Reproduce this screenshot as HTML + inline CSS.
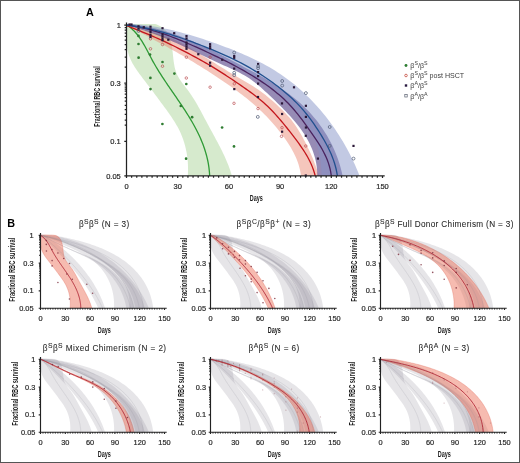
<!DOCTYPE html>
<html><head><meta charset="utf-8"><style>
html,body{margin:0;padding:0;background:#fff;}
svg{display:block;will-change:transform;filter:blur(0.3px);}
</style></head><body>
<svg width="520" height="463" viewBox="0 0 520 463">
<rect x="0" y="0" width="520" height="463" fill="#fff"/>
<defs>
<clipPath id="cA"><rect x="127" y="24" width="262" height="151.9"/></clipPath>
<clipPath id="cB00"><rect x="40.90" y="234.80" width="128" height="73.40"/></clipPath>
<clipPath id="cB10"><rect x="210.90" y="234.80" width="128" height="73.40"/></clipPath>
<clipPath id="cB20"><rect x="380.90" y="234.80" width="128" height="73.40"/></clipPath>
<clipPath id="cB01"><rect x="40.90" y="358.80" width="128" height="73.40"/></clipPath>
<clipPath id="cB11"><rect x="210.90" y="358.80" width="128" height="73.40"/></clipPath>
<clipPath id="cB21"><rect x="380.90" y="358.80" width="128" height="73.40"/></clipPath>
</defs>
<g clip-path="url(#cA)">
<path d="M119.93,24.08 L121.88,23.73 L123.98,23.38 L126.21,23.05 L128.56,22.75 L130.99,22.49 L133.51,22.28 L136.07,22.13 L138.67,22.06 L141.29,22.06 L143.90,22.16 L146.49,22.36 L149.04,22.66 L151.52,23.10 L153.92,23.66 L156.22,24.36 L158.40,25.22 L160.43,26.24 L162.31,27.43 L164.00,28.81 L165.51,30.36 L166.84,32.09 L167.99,33.96 L168.99,35.96 L169.84,38.06 L170.55,40.26 L171.14,42.53 L171.62,44.85 L172.02,47.22 L172.35,49.63 L172.64,52.07 L172.90,54.52 L173.16,56.97 L173.43,59.43 L173.74,61.86 L174.11,64.27 L174.56,66.64 L175.11,68.97 L175.77,71.24 L176.58,73.44 L177.54,75.56 L178.64,77.61 L179.87,79.60 L181.20,81.55 L182.60,83.46 L184.05,85.35 L185.52,87.24 L187.00,89.12 L188.45,91.03 L189.86,92.96 L191.22,94.92 L192.54,96.90 L193.82,98.91 L195.07,100.94 L196.28,102.98 L197.47,105.05 L198.64,107.13 L199.78,109.22 L200.92,111.32 L202.04,113.42 L203.15,115.53 L204.26,117.65 L205.37,119.76 L206.49,121.87 L207.62,123.97 L208.75,126.07 L209.89,128.17 L211.03,130.26 L212.18,132.36 L213.33,134.45 L214.47,136.54 L215.61,138.64 L216.73,140.73 L217.85,142.84 L218.96,144.94 L220.05,147.06 L221.13,149.18 L222.18,151.31 L223.21,153.45 L224.22,155.61 L225.21,157.77 L226.16,159.95 L227.08,162.15 L227.97,164.36 L228.83,166.59 L229.64,168.84 L230.41,171.10 L231.15,173.39 L231.83,175.70 L232.47,178.03 L187.59,178.07 L187.76,176.06 L187.89,174.06 L187.98,172.06 L188.03,170.06 L188.03,168.06 L187.99,166.07 L187.91,164.08 L187.79,162.10 L187.62,160.12 L187.41,158.16 L187.16,156.20 L186.87,154.25 L186.54,152.31 L186.16,150.38 L185.74,148.46 L185.28,146.56 L184.78,144.66 L184.23,142.78 L183.65,140.92 L183.01,139.07 L182.34,137.24 L181.62,135.42 L180.87,133.62 L180.06,131.84 L179.22,130.08 L178.33,128.34 L177.40,126.61 L176.44,124.91 L175.44,123.22 L174.41,121.54 L173.36,119.88 L172.27,118.23 L171.17,116.59 L170.05,114.96 L168.91,113.34 L167.76,111.73 L166.60,110.12 L165.43,108.52 L164.26,106.92 L163.08,105.32 L161.91,103.73 L160.73,102.14 L159.55,100.55 L158.37,98.96 L157.19,97.37 L156.01,95.79 L154.82,94.20 L153.64,92.62 L152.45,91.04 L151.26,89.46 L150.07,87.88 L148.87,86.30 L147.67,84.73 L146.47,83.15 L145.27,81.57 L144.07,80.00 L142.86,78.42 L141.66,76.84 L140.47,75.26 L139.29,73.67 L138.13,72.07 L137.00,70.46 L135.90,68.84 L134.84,67.21 L133.82,65.56 L132.85,63.89 L131.93,62.20 L131.07,60.49 L130.28,58.75 L129.56,56.99 L128.91,55.20 L128.34,53.38 L127.84,51.54 L127.42,49.67 L127.07,47.78 L126.79,45.86 L126.58,43.92 L126.43,41.97 L126.34,39.99 L126.30,38.01 L126.30,36.01 L126.35,34.00 L126.43,31.98 L126.54,29.96 L126.67,27.94 L126.83,25.92 L127.00,23.91 L127.17,21.89 L127.35,19.89Z" fill="#8cc474" fill-opacity="0.36"/>
<path d="M120.02,23.90 L122.94,24.16 L125.87,24.49 L128.80,24.88 L131.73,25.34 L134.66,25.86 L137.58,26.45 L140.49,27.10 L143.39,27.81 L146.28,28.59 L149.15,29.42 L152.00,30.31 L154.83,31.26 L157.63,32.27 L160.41,33.33 L163.16,34.44 L165.89,35.60 L168.60,36.81 L171.29,38.06 L173.96,39.35 L176.61,40.68 L179.25,42.04 L181.87,43.44 L184.48,44.86 L187.07,46.31 L189.66,47.79 L192.23,49.28 L194.79,50.80 L197.35,52.33 L199.90,53.87 L202.45,55.42 L204.98,56.99 L207.52,58.56 L210.05,60.14 L212.58,61.72 L215.11,63.31 L217.63,64.89 L220.16,66.47 L222.68,68.05 L225.21,69.62 L227.74,71.18 L230.28,72.74 L232.81,74.28 L235.36,75.81 L237.91,77.32 L240.46,78.82 L243.02,80.29 L245.58,81.77 L248.13,83.25 L250.67,84.76 L253.18,86.31 L255.66,87.90 L258.10,89.56 L260.51,91.28 L262.89,93.05 L265.25,94.87 L267.58,96.74 L269.88,98.65 L272.16,100.61 L274.41,102.60 L276.63,104.62 L278.82,106.67 L280.99,108.74 L283.12,110.84 L285.20,112.97 L287.24,115.13 L289.20,117.34 L291.09,119.61 L292.90,121.92 L294.63,124.29 L296.29,126.71 L297.89,129.18 L299.42,131.69 L300.91,134.23 L302.36,136.81 L303.76,139.42 L305.13,142.06 L306.47,144.73 L307.79,147.41 L309.07,150.12 L310.33,152.84 L311.54,155.58 L312.71,158.34 L313.84,161.11 L314.91,163.89 L315.94,166.68 L316.91,169.47 L317.83,172.28 L318.68,175.09 L319.47,177.90 L301.14,177.95 L300.89,175.26 L300.50,172.60 L299.99,169.98 L299.37,167.39 L298.64,164.84 L297.80,162.32 L296.87,159.83 L295.84,157.37 L294.73,154.95 L293.54,152.55 L292.28,150.19 L290.94,147.86 L289.55,145.55 L288.10,143.28 L286.60,141.03 L285.06,138.80 L283.47,136.61 L281.86,134.44 L280.22,132.29 L278.55,130.17 L276.86,128.08 L275.15,126.01 L273.40,123.97 L271.64,121.95 L269.84,119.96 L268.02,118.00 L266.17,116.06 L264.29,114.15 L262.39,112.27 L260.46,110.42 L258.50,108.59 L256.52,106.79 L254.52,105.01 L252.49,103.25 L250.44,101.52 L248.37,99.81 L246.28,98.12 L244.18,96.45 L242.05,94.80 L239.92,93.17 L237.76,91.56 L235.60,89.96 L233.42,88.37 L231.23,86.81 L229.04,85.25 L226.83,83.71 L224.61,82.18 L222.39,80.66 L220.16,79.15 L217.93,77.65 L215.69,76.16 L213.44,74.69 L211.19,73.22 L208.93,71.76 L206.66,70.32 L204.39,68.88 L202.11,67.46 L199.83,66.04 L197.54,64.63 L195.24,63.23 L192.94,61.84 L190.64,60.46 L188.33,59.09 L186.01,57.72 L183.69,56.36 L181.37,55.01 L179.04,53.67 L176.70,52.34 L174.37,51.01 L172.02,49.69 L169.68,48.38 L167.32,47.08 L164.97,45.78 L162.61,44.49 L160.25,43.20 L157.88,41.92 L155.51,40.65 L153.14,39.38 L150.77,38.11 L148.39,36.86 L146.01,35.60 L143.62,34.36 L141.23,33.11 L138.85,31.88 L136.45,30.64 L134.06,29.41 L131.66,28.19 L129.26,26.97 L126.86,25.75Z" fill="#eb8872" fill-opacity="0.48"/>
<path d="M120.01,23.78 L123.33,23.88 L126.62,24.06 L129.89,24.30 L133.15,24.61 L136.38,24.98 L139.59,25.42 L142.78,25.92 L145.95,26.48 L149.10,27.10 L152.24,27.78 L155.36,28.51 L158.46,29.29 L161.55,30.12 L164.62,31.01 L167.67,31.94 L170.72,32.91 L173.74,33.93 L176.76,34.99 L179.76,36.10 L182.75,37.24 L185.73,38.41 L188.70,39.63 L191.66,40.87 L194.61,42.15 L197.56,43.45 L200.49,44.79 L203.42,46.14 L206.34,47.53 L209.25,48.93 L212.16,50.36 L215.06,51.80 L217.96,53.27 L220.85,54.74 L223.74,56.23 L226.63,57.73 L229.52,59.24 L232.40,60.76 L235.29,62.29 L238.17,63.82 L241.06,65.35 L243.94,66.88 L246.83,68.42 L249.71,69.96 L252.58,71.52 L255.44,73.08 L258.30,74.66 L261.14,76.25 L263.97,77.86 L266.78,79.49 L269.57,81.14 L272.33,82.82 L275.08,84.53 L277.80,86.26 L280.49,88.03 L283.15,89.84 L285.78,91.68 L288.37,93.56 L290.92,95.48 L293.44,97.44 L295.92,99.45 L298.35,101.51 L300.73,103.62 L303.07,105.79 L305.36,108.00 L307.60,110.27 L309.79,112.59 L311.92,114.96 L314.00,117.38 L316.03,119.84 L318.00,122.36 L319.91,124.92 L321.76,127.52 L323.56,130.18 L325.29,132.88 L326.96,135.62 L328.56,138.40 L330.10,141.23 L331.58,144.10 L332.99,147.02 L334.33,149.97 L335.59,152.96 L336.79,155.99 L337.92,159.07 L338.97,162.17 L339.95,165.32 L340.85,168.50 L341.67,171.72 L342.42,174.97 L343.09,178.25 L317.27,178.15 L317.31,175.03 L317.22,171.97 L316.99,168.96 L316.64,166.00 L316.17,163.09 L315.58,160.23 L314.88,157.42 L314.07,154.66 L313.15,151.95 L312.14,149.27 L311.03,146.65 L309.83,144.06 L308.54,141.51 L307.17,139.00 L305.72,136.54 L304.20,134.10 L302.61,131.71 L300.95,129.34 L299.23,127.01 L297.46,124.71 L295.63,122.44 L293.76,120.20 L291.84,117.99 L289.89,115.80 L287.90,113.64 L285.88,111.50 L283.83,109.39 L281.76,107.29 L279.68,105.22 L277.58,103.16 L275.47,101.12 L273.36,99.10 L271.25,97.09 L269.14,95.09 L267.05,93.10 L264.95,91.14 L262.85,89.20 L260.73,87.29 L258.58,85.44 L256.40,83.63 L254.17,81.89 L251.89,80.22 L249.55,78.61 L247.17,77.08 L244.73,75.60 L242.25,74.18 L239.72,72.83 L237.14,71.52 L234.53,70.26 L231.90,69.03 L229.24,67.81 L226.58,66.60 L223.92,65.39 L221.27,64.16 L218.62,62.93 L215.97,61.68 L213.32,60.44 L210.68,59.18 L208.04,57.93 L205.40,56.67 L202.76,55.41 L200.12,54.15 L197.47,52.89 L194.83,51.64 L192.19,50.39 L189.55,49.15 L186.90,47.91 L184.25,46.69 L181.60,45.47 L178.94,44.27 L176.28,43.08 L173.61,41.90 L170.94,40.74 L168.27,39.59 L165.58,38.47 L162.89,37.36 L160.19,36.28 L157.49,35.21 L154.77,34.17 L152.05,33.16 L149.32,32.17 L146.57,31.22 L143.82,30.29 L141.05,29.39 L138.28,28.52 L135.49,27.68 L132.69,26.89 L129.88,26.12 L127.05,25.40Z" fill="#5a4a8c" fill-opacity="0.64"/>
<path d="M120.11,23.62 L123.52,23.66 L126.92,23.76 L130.32,23.91 L133.71,24.13 L137.08,24.40 L140.45,24.72 L143.82,25.10 L147.17,25.53 L150.52,26.01 L153.86,26.53 L157.19,27.10 L160.51,27.72 L163.83,28.38 L167.14,29.08 L170.45,29.83 L173.75,30.61 L177.04,31.43 L180.32,32.28 L183.60,33.17 L186.88,34.09 L190.15,35.04 L193.41,36.02 L196.67,37.03 L199.92,38.06 L203.16,39.12 L206.41,40.21 L209.64,41.31 L212.88,42.44 L216.10,43.58 L219.33,44.75 L222.55,45.93 L225.76,47.13 L228.96,48.36 L232.15,49.61 L235.33,50.89 L238.49,52.19 L241.64,53.52 L244.78,54.89 L247.89,56.29 L250.99,57.72 L254.07,59.19 L257.12,60.69 L260.15,62.24 L263.16,63.82 L266.14,65.45 L269.09,67.12 L272.01,68.84 L274.90,70.61 L277.76,72.42 L280.59,74.29 L283.38,76.20 L286.13,78.17 L288.85,80.19 L291.53,82.26 L294.18,84.37 L296.79,86.53 L299.36,88.74 L301.90,90.99 L304.40,93.29 L306.86,95.63 L309.28,98.01 L311.67,100.44 L314.01,102.90 L316.32,105.40 L318.59,107.94 L320.81,110.52 L323.00,113.14 L325.15,115.79 L327.26,118.47 L329.32,121.19 L331.34,123.94 L333.33,126.73 L335.27,129.54 L337.17,132.38 L339.02,135.25 L340.83,138.15 L342.60,141.08 L344.33,144.03 L346.01,147.01 L347.65,150.01 L349.25,153.03 L350.79,156.08 L352.30,159.14 L353.75,162.23 L355.16,165.33 L356.52,168.45 L357.83,171.59 L359.10,174.74 L360.31,177.91 L321.55,178.40 L321.55,175.26 L321.48,172.12 L321.32,169.00 L321.08,165.89 L320.76,162.81 L320.34,159.76 L319.84,156.74 L319.24,153.76 L318.55,150.81 L317.76,147.91 L316.88,145.07 L315.89,142.27 L314.80,139.53 L313.62,136.84 L312.34,134.20 L310.98,131.62 L309.54,129.08 L308.01,126.59 L306.41,124.15 L304.73,121.76 L302.98,119.40 L301.17,117.10 L299.30,114.83 L297.36,112.61 L295.38,110.43 L293.34,108.28 L291.25,106.17 L289.12,104.10 L286.95,102.07 L284.75,100.07 L282.51,98.10 L280.24,96.16 L277.95,94.26 L275.64,92.38 L273.30,90.54 L270.93,88.72 L268.55,86.94 L266.14,85.18 L263.72,83.45 L261.27,81.74 L258.80,80.07 L256.32,78.42 L253.81,76.80 L251.29,75.21 L248.75,73.64 L246.19,72.10 L243.61,70.58 L241.02,69.09 L238.41,67.62 L235.79,66.18 L233.15,64.76 L230.50,63.37 L227.83,61.99 L225.15,60.64 L222.46,59.32 L219.76,58.01 L217.05,56.73 L214.32,55.47 L211.59,54.23 L208.84,53.01 L206.09,51.81 L203.32,50.63 L200.55,49.47 L197.77,48.33 L194.98,47.20 L192.19,46.10 L189.39,45.01 L186.59,43.95 L183.78,42.90 L180.96,41.86 L178.14,40.85 L175.32,39.84 L172.50,38.86 L169.67,37.89 L166.84,36.94 L164.01,36.00 L161.18,35.07 L158.35,34.16 L155.52,33.27 L152.69,32.38 L149.86,31.51 L147.03,30.65 L144.21,29.81 L141.39,28.97 L138.57,28.15 L135.75,27.34 L132.95,26.54 L130.14,25.75 L127.34,24.97Z" fill="#8593c8" fill-opacity="0.50"/>
<path d="M126.91,25.06 L128.61,26.24 L130.22,27.49 L131.76,28.79 L133.22,30.15 L134.61,31.56 L135.93,33.02 L137.20,34.53 L138.40,36.08 L139.56,37.66 L140.68,39.28 L141.75,40.93 L142.78,42.60 L143.79,44.30 L144.77,46.02 L145.72,47.76 L146.66,49.51 L147.59,51.27 L148.51,53.03 L149.43,54.80 L150.35,56.56 L151.28,58.32 L152.22,60.07 L153.18,61.82 L154.16,63.54 L155.15,65.26 L156.15,66.97 L157.17,68.67 L158.21,70.36 L159.25,72.04 L160.31,73.72 L161.38,75.39 L162.46,77.05 L163.54,78.71 L164.64,80.36 L165.74,82.00 L166.85,83.65 L167.96,85.29 L169.08,86.93 L170.20,88.56 L171.32,90.20 L172.45,91.83 L173.58,93.47 L174.70,95.10 L175.83,96.74 L176.96,98.38 L178.08,100.02 L179.20,101.67 L180.31,103.32 L181.42,104.97 L182.53,106.63 L183.62,108.29 L184.71,109.96 L185.79,111.63 L186.86,113.31 L187.91,114.99 L188.96,116.68 L189.99,118.38 L191.00,120.08 L192.00,121.79 L192.99,123.51 L193.95,125.24 L194.90,126.97 L195.83,128.72 L196.73,130.47 L197.62,132.23 L198.48,134.00 L199.32,135.78 L200.13,137.58 L200.92,139.38 L201.68,141.19 L202.42,143.02 L203.12,144.85 L203.80,146.70 L204.44,148.56 L205.06,150.44 L205.64,152.32 L206.18,154.22 L206.70,156.14 L207.17,158.07 L207.61,160.01 L208.01,161.97 L208.37,163.94 L208.69,165.93 L208.98,167.93 L209.21,169.95 L209.41,171.99 L209.56,174.04 L209.67,176.11 L209.73,178.20" fill="none" stroke="#2e9a35" stroke-width="1.3"/>
<path d="M126.94,25.72 L129.55,26.77 L132.16,27.81 L134.77,28.86 L137.38,29.91 L139.98,30.97 L142.58,32.03 L145.18,33.11 L147.78,34.19 L150.37,35.28 L152.96,36.38 L155.53,37.50 L158.11,38.63 L160.67,39.78 L163.23,40.95 L165.78,42.13 L168.32,43.33 L170.86,44.55 L173.38,45.79 L175.90,47.04 L178.41,48.30 L180.92,49.57 L183.42,50.85 L185.91,52.15 L188.40,53.45 L190.88,54.75 L193.36,56.07 L195.83,57.40 L198.29,58.74 L200.75,60.09 L203.20,61.46 L205.63,62.85 L208.06,64.26 L210.48,65.68 L212.89,67.13 L215.29,68.59 L217.69,70.08 L220.07,71.58 L222.44,73.09 L224.81,74.62 L227.17,76.17 L229.52,77.72 L231.87,79.29 L234.21,80.87 L236.54,82.45 L238.87,84.04 L241.19,85.64 L243.51,87.24 L245.82,88.85 L248.11,90.48 L250.39,92.12 L252.65,93.78 L254.89,95.47 L257.10,97.19 L259.28,98.94 L261.43,100.73 L263.54,102.56 L265.61,104.43 L267.64,106.34 L269.64,108.30 L271.61,110.29 L273.54,112.32 L275.45,114.38 L277.33,116.46 L279.19,118.58 L281.02,120.72 L282.83,122.89 L284.63,125.07 L286.40,127.27 L288.16,129.49 L289.91,131.71 L291.65,133.95 L293.38,136.19 L295.09,138.44 L296.79,140.69 L298.46,142.96 L300.10,145.25 L301.71,147.55 L303.27,149.88 L304.78,152.24 L306.23,154.62 L307.62,157.04 L308.94,159.50 L310.19,161.99 L311.35,164.53 L312.42,167.12 L313.40,169.76 L314.28,172.45 L315.05,175.20 L315.70,178.01" fill="none" stroke="#c4161c" stroke-width="1.3"/>
<path d="M126.87,25.30 L129.93,25.68 L132.97,26.13 L135.98,26.64 L138.98,27.20 L141.95,27.82 L144.91,28.49 L147.85,29.21 L150.77,29.98 L153.68,30.79 L156.57,31.65 L159.44,32.54 L162.30,33.48 L165.15,34.45 L167.99,35.46 L170.81,36.50 L173.63,37.57 L176.43,38.67 L179.23,39.79 L182.01,40.94 L184.79,42.11 L187.57,43.29 L190.34,44.50 L193.10,45.72 L195.86,46.95 L198.62,48.19 L201.37,49.44 L204.13,50.70 L206.88,51.97 L209.62,53.25 L212.37,54.54 L215.10,55.83 L217.83,57.15 L220.56,58.47 L223.27,59.81 L225.98,61.17 L228.68,62.54 L231.38,63.93 L234.06,65.34 L236.73,66.77 L239.38,68.21 L242.03,69.68 L244.66,71.18 L247.28,72.69 L249.88,74.23 L252.47,75.80 L255.04,77.39 L257.60,79.01 L260.14,80.66 L262.65,82.34 L265.14,84.05 L267.61,85.79 L270.05,87.57 L272.45,89.39 L274.82,91.25 L277.16,93.15 L279.46,95.09 L281.72,97.07 L283.93,99.10 L286.10,101.18 L288.22,103.31 L290.29,105.49 L292.32,107.72 L294.29,109.99 L296.23,112.31 L298.12,114.66 L299.99,117.05 L301.82,119.46 L303.64,121.90 L305.43,124.35 L307.21,126.82 L308.98,129.30 L310.74,131.79 L312.49,134.28 L314.23,136.78 L315.93,139.29 L317.60,141.82 L319.22,144.37 L320.79,146.95 L322.29,149.55 L323.71,152.19 L325.04,154.86 L326.28,157.57 L327.41,160.33 L328.43,163.14 L329.33,165.99 L330.09,168.91 L330.70,171.88 L331.16,174.92 L331.46,178.02" fill="none" stroke="#4a235f" stroke-width="1.3"/>
<path d="M126.96,25.11 L130.07,25.47 L133.16,25.88 L136.25,26.35 L139.32,26.85 L142.38,27.41 L145.43,28.01 L148.47,28.65 L151.50,29.33 L154.52,30.04 L157.52,30.80 L160.52,31.59 L163.51,32.42 L166.49,33.28 L169.46,34.17 L172.42,35.08 L175.38,36.03 L178.33,37.00 L181.27,38.00 L184.20,39.01 L187.12,40.05 L190.04,41.11 L192.96,42.19 L195.87,43.28 L198.77,44.39 L201.67,45.51 L204.56,46.64 L207.45,47.79 L210.33,48.95 L213.20,50.13 L216.07,51.33 L218.92,52.55 L221.77,53.79 L224.60,55.05 L227.43,56.34 L230.24,57.65 L233.04,58.99 L235.82,60.36 L238.59,61.76 L241.35,63.19 L244.09,64.65 L246.81,66.15 L249.52,67.67 L252.20,69.23 L254.87,70.82 L257.52,72.44 L260.15,74.09 L262.76,75.78 L265.35,77.50 L267.92,79.25 L270.47,81.03 L272.99,82.84 L275.49,84.69 L277.97,86.56 L280.42,88.47 L282.84,90.42 L285.23,92.40 L287.59,94.42 L289.91,96.48 L292.19,98.58 L294.43,100.71 L296.63,102.90 L298.78,105.12 L300.88,107.39 L302.93,109.70 L304.93,112.07 L306.88,114.47 L308.78,116.92 L310.64,119.41 L312.46,121.93 L314.24,124.48 L315.99,127.05 L317.70,129.65 L319.39,132.27 L321.03,134.91 L322.64,137.58 L324.20,140.27 L325.71,142.98 L327.17,145.72 L328.57,148.49 L329.89,151.28 L331.15,154.10 L332.32,156.96 L333.40,159.85 L334.38,162.78 L335.26,165.75 L336.04,168.75 L336.69,171.80 L337.23,174.89 L337.63,178.03" fill="none" stroke="#21508f" stroke-width="1.3"/>
</g>
<circle cx="138.5" cy="35.9" r="1.35" fill="#2f7d32"/>
<circle cx="138.5" cy="44.0" r="1.35" fill="#2f7d32"/>
<circle cx="138.6" cy="57.7" r="1.35" fill="#2f7d32"/>
<circle cx="150.0" cy="54.6" r="1.35" fill="#2f7d32"/>
<circle cx="150.4" cy="77.9" r="1.35" fill="#2f7d32"/>
<circle cx="150.5" cy="89.1" r="1.35" fill="#2f7d32"/>
<circle cx="162.5" cy="62.0" r="1.35" fill="#2f7d32"/>
<circle cx="174.4" cy="73.6" r="1.35" fill="#2f7d32"/>
<circle cx="186.3" cy="84.0" r="1.35" fill="#2f7d32"/>
<circle cx="180.8" cy="106.0" r="1.35" fill="#2f7d32"/>
<circle cx="192.1" cy="117.2" r="1.35" fill="#2f7d32"/>
<circle cx="162.4" cy="124.0" r="1.35" fill="#2f7d32"/>
<circle cx="222.1" cy="127.5" r="1.35" fill="#2f7d32"/>
<circle cx="234.0" cy="146.4" r="1.35" fill="#2f7d32"/>
<circle cx="186.1" cy="158.7" r="1.35" fill="#2f7d32"/>
<circle cx="150.5" cy="38.8" r="1.25" fill="none" stroke="#b8454a" stroke-width="0.65"/>
<circle cx="150.5" cy="48.8" r="1.25" fill="none" stroke="#b8454a" stroke-width="0.65"/>
<circle cx="162.5" cy="44.5" r="1.25" fill="none" stroke="#b8454a" stroke-width="0.65"/>
<circle cx="162.5" cy="66.2" r="1.25" fill="none" stroke="#b8454a" stroke-width="0.65"/>
<circle cx="186.4" cy="57.2" r="1.25" fill="none" stroke="#b8454a" stroke-width="0.65"/>
<circle cx="186.3" cy="78.0" r="1.25" fill="none" stroke="#b8454a" stroke-width="0.65"/>
<circle cx="210.1" cy="57.2" r="1.25" fill="none" stroke="#b8454a" stroke-width="0.65"/>
<circle cx="210.1" cy="87.2" r="1.25" fill="none" stroke="#b8454a" stroke-width="0.65"/>
<circle cx="234.0" cy="103.3" r="1.25" fill="none" stroke="#b8454a" stroke-width="0.65"/>
<circle cx="234.3" cy="83.8" r="1.25" fill="none" stroke="#b8454a" stroke-width="0.65"/>
<circle cx="258.0" cy="108.6" r="1.25" fill="none" stroke="#b8454a" stroke-width="0.65"/>
<circle cx="282.0" cy="127.7" r="1.25" fill="none" stroke="#b8454a" stroke-width="0.65"/>
<circle cx="281.5" cy="136.3" r="1.25" fill="none" stroke="#b8454a" stroke-width="0.65"/>
<circle cx="305.8" cy="146.0" r="1.25" fill="none" stroke="#b8454a" stroke-width="0.65"/>
<rect x="128.4" y="23.4" width="2.2" height="2.2" fill="#2b1838"/>
<rect x="130.4" y="23.4" width="2.2" height="2.2" fill="#2b1838"/>
<rect x="137.4" y="25.2" width="2.2" height="2.2" fill="#2b1838"/>
<rect x="137.4" y="28.0" width="2.2" height="2.2" fill="#2b1838"/>
<rect x="142.7" y="26.1" width="2.2" height="2.2" fill="#2b1838"/>
<rect x="149.4" y="25.6" width="2.2" height="2.2" fill="#2b1838"/>
<rect x="149.4" y="28.4" width="2.2" height="2.2" fill="#2b1838"/>
<rect x="149.4" y="30.9" width="2.2" height="2.2" fill="#2b1838"/>
<rect x="149.4" y="33.6" width="2.2" height="2.2" fill="#2b1838"/>
<rect x="149.4" y="35.9" width="2.2" height="2.2" fill="#2b1838"/>
<rect x="161.4" y="27.1" width="2.2" height="2.2" fill="#2b1838"/>
<rect x="161.4" y="33.3" width="2.2" height="2.2" fill="#2b1838"/>
<rect x="161.4" y="35.3" width="2.2" height="2.2" fill="#2b1838"/>
<rect x="161.4" y="37.3" width="2.2" height="2.2" fill="#2b1838"/>
<rect x="161.4" y="39.1" width="2.2" height="2.2" fill="#2b1838"/>
<rect x="167.2" y="38.6" width="2.2" height="2.2" fill="#2b1838"/>
<rect x="173.1" y="32.1" width="2.2" height="2.2" fill="#2b1838"/>
<rect x="185.4" y="35.0" width="2.2" height="2.2" fill="#2b1838"/>
<rect x="185.4" y="37.4" width="2.2" height="2.2" fill="#2b1838"/>
<rect x="185.4" y="41.4" width="2.2" height="2.2" fill="#2b1838"/>
<rect x="185.4" y="43.5" width="2.2" height="2.2" fill="#2b1838"/>
<rect x="185.4" y="45.6" width="2.2" height="2.2" fill="#2b1838"/>
<rect x="185.4" y="47.7" width="2.2" height="2.2" fill="#2b1838"/>
<rect x="197.2" y="53.1" width="2.2" height="2.2" fill="#2b1838"/>
<rect x="209.0" y="43.1" width="2.2" height="2.2" fill="#2b1838"/>
<rect x="209.0" y="45.2" width="2.2" height="2.2" fill="#2b1838"/>
<rect x="209.0" y="47.2" width="2.2" height="2.2" fill="#2b1838"/>
<rect x="209.0" y="61.6" width="2.2" height="2.2" fill="#2b1838"/>
<rect x="209.0" y="64.6" width="2.2" height="2.2" fill="#2b1838"/>
<rect x="221.1" y="58.6" width="2.2" height="2.2" fill="#2b1838"/>
<rect x="233.1" y="54.9" width="2.2" height="2.2" fill="#2b1838"/>
<rect x="233.1" y="56.7" width="2.2" height="2.2" fill="#2b1838"/>
<rect x="233.1" y="67.5" width="2.2" height="2.2" fill="#2b1838"/>
<rect x="233.2" y="88.0" width="2.2" height="2.2" fill="#2b1838"/>
<rect x="257.0" y="62.9" width="2.2" height="2.2" fill="#2b1838"/>
<rect x="257.0" y="71.0" width="2.2" height="2.2" fill="#2b1838"/>
<rect x="257.0" y="75.0" width="2.2" height="2.2" fill="#2b1838"/>
<rect x="257.0" y="82.5" width="2.2" height="2.2" fill="#2b1838"/>
<rect x="256.9" y="95.9" width="2.2" height="2.2" fill="#2b1838"/>
<rect x="280.9" y="102.3" width="2.2" height="2.2" fill="#2b1838"/>
<rect x="281.0" y="112.9" width="2.2" height="2.2" fill="#2b1838"/>
<rect x="281.0" y="130.6" width="2.2" height="2.2" fill="#2b1838"/>
<rect x="292.9" y="86.2" width="2.2" height="2.2" fill="#2b1838"/>
<rect x="304.8" y="104.7" width="2.2" height="2.2" fill="#2b1838"/>
<rect x="304.8" y="115.8" width="2.2" height="2.2" fill="#2b1838"/>
<rect x="304.8" y="126.4" width="2.2" height="2.2" fill="#2b1838"/>
<rect x="304.7" y="134.7" width="2.2" height="2.2" fill="#2b1838"/>
<rect x="316.8" y="157.5" width="2.2" height="2.2" fill="#2b1838"/>
<rect x="352.4" y="144.8" width="2.2" height="2.2" fill="#2b1838"/>
<rect x="304.7" y="174.4" width="2.2" height="2.2" fill="#2b1838"/>
<circle cx="234.2" cy="52.5" r="1.45" fill="none" stroke="#56607a" stroke-width="0.75"/>
<circle cx="258.1" cy="66.2" r="1.45" fill="none" stroke="#56607a" stroke-width="0.75"/>
<circle cx="258.1" cy="68.2" r="1.45" fill="none" stroke="#56607a" stroke-width="0.75"/>
<circle cx="282.2" cy="81.0" r="1.45" fill="none" stroke="#56607a" stroke-width="0.75"/>
<circle cx="282.2" cy="85.6" r="1.45" fill="none" stroke="#56607a" stroke-width="0.75"/>
<circle cx="305.9" cy="93.1" r="1.45" fill="none" stroke="#56607a" stroke-width="0.75"/>
<circle cx="257.8" cy="116.9" r="1.45" fill="none" stroke="#56607a" stroke-width="0.75"/>
<circle cx="329.7" cy="127.0" r="1.45" fill="none" stroke="#56607a" stroke-width="0.75"/>
<circle cx="329.7" cy="145.9" r="1.45" fill="none" stroke="#56607a" stroke-width="0.75"/>
<circle cx="353.5" cy="158.6" r="1.45" fill="none" stroke="#56607a" stroke-width="0.75"/>
<circle cx="234.2" cy="72.8" r="1.45" fill="none" stroke="#56607a" stroke-width="0.75"/>
<circle cx="234.2" cy="75.2" r="1.45" fill="none" stroke="#56607a" stroke-width="0.75"/>
<circle cx="138.5" cy="31.0" r="1.45" fill="none" stroke="#56607a" stroke-width="0.75"/>
<g stroke="#222" stroke-width="1.25" fill="none">
<path d="M126.50,22.50 V175.90 H384.70"/>
<path d="M126.50,175.90v2.20M177.70,175.90v2.20M228.90,175.90v2.20M280.10,175.90v2.20M331.30,175.90v2.20M382.50,175.90v2.20M126.50,25.00h-2.20M126.50,83.20h-2.20M126.50,141.40h-2.20M126.50,175.90h-2.20"/>
<path d="M131.62,175.90v1.80M136.74,175.90v1.80M141.86,175.90v1.80M146.98,175.90v1.80M152.10,175.90v1.80M157.22,175.90v1.80M162.34,175.90v1.80M167.46,175.90v1.80M172.58,175.90v1.80M182.82,175.90v1.80M187.94,175.90v1.80M193.06,175.90v1.80M198.18,175.90v1.80M203.30,175.90v1.80M208.42,175.90v1.80M213.54,175.90v1.80M218.66,175.90v1.80M223.78,175.90v1.80M234.02,175.90v1.80M239.14,175.90v1.80M244.26,175.90v1.80M249.38,175.90v1.80M254.50,175.90v1.80M259.62,175.90v1.80M264.74,175.90v1.80M269.86,175.90v1.80M274.98,175.90v1.80M285.22,175.90v1.80M290.34,175.90v1.80M295.46,175.90v1.80M300.58,175.90v1.80M305.70,175.90v1.80M310.82,175.90v1.80M315.94,175.90v1.80M321.06,175.90v1.80M326.18,175.90v1.80M336.42,175.90v1.80M341.54,175.90v1.80M346.66,175.90v1.80M351.78,175.90v1.80M356.90,175.90v1.80M362.02,175.90v1.80M367.14,175.90v1.80M372.26,175.90v1.80M377.38,175.90v1.80M126.50,27.60h-1.80M126.50,30.20h-1.80M126.50,33.20h-1.80M126.50,36.30h-1.80M126.50,40.20h-1.80M126.50,44.50h-1.80M126.50,49.70h-1.80M126.50,57.20h-1.80M126.50,67.10h-1.80M126.50,84.90h-1.80M126.50,87.00h-1.80M126.50,89.10h-1.80M126.50,91.20h-1.80M126.50,94.00h-1.80M126.50,97.60h-1.80M126.50,101.10h-1.80M126.50,105.30h-1.80M126.50,109.50h-1.80M126.50,114.40h-1.80M126.50,120.00h-1.80M126.50,125.00h-1.80" stroke-width="1.25"/>
</g>
<g font-family="Liberation Sans, sans-serif" font-size="7.5" fill="#2a2a2a" stroke="#2a2a2a" stroke-width="0.2" text-anchor="end">
<text x="120.8" y="27.70">1</text>
<text x="120.8" y="85.90">0.3</text>
<text x="120.8" y="144.10">0.1</text>
<text x="120.8" y="178.6">0.05</text>
</g>
<g font-family="Liberation Sans, sans-serif" font-size="7.5" fill="#2a2a2a" stroke="#2a2a2a" stroke-width="0.2" text-anchor="middle">
<text x="126.50" y="188.8">0</text>
<text x="177.70" y="188.8">30</text>
<text x="228.90" y="188.8">60</text>
<text x="280.10" y="188.8">90</text>
<text x="331.30" y="188.8">120</text>
<text x="382.50" y="188.8">150</text>
</g>
<text font-family="Liberation Sans, sans-serif" font-size="8.2" font-weight="bold" fill="#1a1a1a" x="-30.25" y="0" textLength="60.5" lengthAdjust="spacingAndGlyphs" transform="translate(100.2,96.45) rotate(-90)">Fractional RBC survival</text>
<text font-family="Liberation Sans, sans-serif" font-size="9" font-weight="bold" fill="#1a1a1a" x="249.8" y="200.6" textLength="13" lengthAdjust="spacingAndGlyphs">Days</text>
<text font-family="Liberation Sans, sans-serif" font-size="10.8" font-weight="bold" fill="#000" x="86" y="15.7">A</text>
<g font-family="Liberation Sans, sans-serif" font-size="7.1" fill="#3c3c3c">
<circle cx="406" cy="65.5" r="1.45" fill="#2e7d32"/>
<text x="410.3" y="68.3">β<tspan dy="-3.0" font-size="5.3">S</tspan><tspan dy="3.0">/β</tspan><tspan dy="-3.0" font-size="5.3">S</tspan><tspan dy="3.0"></tspan></text>
<circle cx="406" cy="75.5" r="1.3" fill="none" stroke="#c0392b" stroke-width="0.7"/>
<text x="410.3" y="78.3">β<tspan dy="-3.0" font-size="5.3">S</tspan><tspan dy="3.0">/β</tspan><tspan dy="-3.0" font-size="5.3">S</tspan><tspan dy="3.0"> post HSCT</tspan></text>
<rect x="404.8" y="84.3" width="2.4" height="2.4" fill="#2a1a40"/>
<text x="410.3" y="88.3">β<tspan dy="-3.0" font-size="5.3">A</tspan><tspan dy="3.0">/β</tspan><tspan dy="-3.0" font-size="5.3">S</tspan><tspan dy="3.0"></tspan></text>
<rect x="404.8" y="94.6" width="2.4" height="2.4" fill="none" stroke="#5a6070" stroke-width="0.7"/>
<text x="410.3" y="98.6">β<tspan dy="-3.0" font-size="5.3">A</tspan><tspan dy="3.0">/β</tspan><tspan dy="-3.0" font-size="5.3">A</tspan><tspan dy="3.0"></tspan></text>
</g>
<g clip-path="url(#cB00)">
<path d="M36.60,231.24 L37.65,231.80 L38.70,232.36 L39.74,232.93 L40.79,233.52 L41.82,234.11 L42.86,234.71 L43.88,235.32 L44.91,235.93 L45.93,236.56 L46.95,237.19 L47.96,237.84 L48.97,238.49 L49.98,239.15 L50.98,239.82 L51.97,240.49 L52.96,241.18 L53.95,241.87 L54.93,242.57 L55.90,243.28 L56.88,244.00 L57.84,244.72 L58.80,245.46 L59.76,246.20 L60.70,246.95 L61.65,247.70 L62.59,248.47 L63.52,249.24 L64.44,250.02 L65.36,250.80 L66.28,251.60 L67.19,252.40 L68.09,253.21 L68.98,254.02 L69.87,254.85 L70.75,255.68 L71.63,256.51 L72.49,257.36 L73.35,258.21 L74.21,259.07 L75.05,259.93 L75.89,260.81 L76.72,261.68 L77.55,262.57 L78.36,263.46 L79.17,264.36 L79.97,265.27 L80.77,266.18 L81.55,267.10 L82.33,268.02 L83.10,268.95 L83.86,269.89 L84.61,270.83 L85.35,271.78 L86.09,272.73 L86.81,273.70 L87.53,274.66 L88.24,275.64 L88.94,276.61 L89.63,277.60 L90.31,278.59 L90.98,279.58 L91.64,280.59 L92.29,281.59 L92.93,282.60 L93.56,283.62 L94.19,284.65 L94.80,285.67 L95.40,286.71 L95.99,287.75 L96.58,288.79 L97.15,289.84 L97.71,290.89 L98.26,291.95 L98.80,293.02 L99.33,294.09 L99.84,295.16 L100.35,296.24 L100.84,297.32 L101.33,298.41 L101.80,299.50 L102.26,300.60 L102.71,301.70 L103.15,302.80 L103.58,303.91 L103.99,305.03 L104.39,306.15 L104.78,307.27 L105.16,308.39 L105.53,309.52 L98.92,309.56 L98.49,308.59 L98.05,307.62 L97.60,306.65 L97.14,305.69 L96.68,304.73 L96.21,303.77 L95.73,302.82 L95.25,301.87 L94.75,300.93 L94.26,299.99 L93.75,299.05 L93.24,298.12 L92.72,297.19 L92.20,296.27 L91.67,295.35 L91.13,294.43 L90.59,293.51 L90.04,292.60 L89.49,291.69 L88.92,290.79 L88.36,289.89 L87.79,288.99 L87.21,288.10 L86.62,287.21 L86.04,286.32 L85.44,285.44 L84.84,284.56 L84.24,283.68 L83.63,282.81 L83.01,281.94 L82.39,281.07 L81.76,280.21 L81.13,279.35 L80.50,278.49 L79.86,277.64 L79.21,276.78 L78.56,275.94 L77.91,275.09 L77.25,274.25 L76.59,273.41 L75.92,272.58 L75.25,271.74 L74.57,270.91 L73.89,270.09 L73.21,269.26 L72.52,268.44 L71.83,267.62 L71.14,266.81 L70.44,265.99 L69.74,265.18 L69.03,264.38 L68.32,263.57 L67.61,262.77 L66.89,261.97 L66.18,261.18 L65.45,260.38 L64.73,259.59 L64.00,258.80 L63.27,258.02 L62.54,257.23 L61.80,256.45 L61.06,255.67 L60.32,254.90 L59.58,254.12 L58.83,253.35 L58.08,252.59 L57.33,251.82 L56.58,251.06 L55.82,250.29 L55.06,249.53 L54.30,248.78 L53.54,248.02 L52.78,247.27 L52.01,246.52 L51.25,245.77 L50.48,245.03 L49.71,244.28 L48.94,243.54 L48.17,242.80 L47.40,242.07 L46.62,241.33 L45.85,240.60 L45.07,239.87 L44.29,239.14 L43.51,238.41 L42.73,237.68 L41.95,236.96 L41.17,236.24 L40.39,235.52Z" fill="#8e8a96" fill-opacity="0.22"/>
<path d="M36.31,234.08 L37.94,234.15 L39.56,234.24 L41.19,234.35 L42.81,234.48 L44.43,234.63 L46.05,234.80 L47.66,234.99 L49.28,235.20 L50.89,235.43 L52.49,235.69 L54.10,235.96 L55.70,236.25 L57.29,236.56 L58.89,236.89 L60.47,237.24 L62.06,237.61 L63.64,237.99 L65.21,238.40 L66.78,238.83 L68.34,239.27 L69.90,239.73 L71.45,240.21 L73.00,240.71 L74.54,241.23 L76.07,241.77 L77.59,242.33 L79.11,242.90 L80.62,243.49 L82.13,244.10 L83.62,244.73 L85.11,245.37 L86.59,246.04 L88.06,246.72 L89.52,247.41 L90.97,248.13 L92.42,248.86 L93.85,249.61 L95.28,250.38 L96.69,251.16 L98.10,251.96 L99.49,252.78 L100.87,253.61 L102.25,254.46 L103.61,255.32 L104.96,256.21 L106.29,257.11 L107.62,258.02 L108.94,258.95 L110.24,259.90 L111.53,260.86 L112.80,261.84 L114.07,262.83 L115.32,263.84 L116.56,264.87 L117.78,265.91 L118.99,266.96 L120.18,268.03 L121.36,269.12 L122.53,270.22 L123.68,271.33 L124.82,272.46 L125.94,273.61 L127.04,274.77 L128.13,275.94 L129.21,277.13 L130.26,278.33 L131.30,279.54 L132.33,280.77 L133.33,282.02 L134.32,283.27 L135.30,284.55 L136.25,285.83 L137.19,287.13 L138.10,288.44 L139.00,289.76 L139.88,291.10 L140.75,292.45 L141.59,293.82 L142.41,295.19 L143.22,296.58 L144.00,297.99 L144.76,299.40 L145.51,300.83 L146.23,302.27 L146.93,303.72 L147.61,305.18 L148.27,306.66 L148.91,308.15 L149.53,309.65 L113.87,309.75 L113.96,308.43 L114.03,307.11 L114.07,305.80 L114.08,304.49 L114.06,303.19 L114.01,301.89 L113.93,300.59 L113.83,299.30 L113.69,298.02 L113.53,296.74 L113.34,295.46 L113.12,294.20 L112.88,292.94 L112.60,291.69 L112.30,290.45 L111.98,289.22 L111.62,288.00 L111.24,286.79 L110.84,285.59 L110.40,284.40 L109.95,283.23 L109.46,282.06 L108.95,280.91 L108.42,279.77 L107.86,278.64 L107.27,277.53 L106.66,276.44 L106.03,275.35 L105.37,274.29 L104.69,273.24 L103.98,272.20 L103.25,271.19 L102.50,270.19 L101.73,269.21 L100.93,268.24 L100.10,267.30 L99.26,266.38 L98.39,265.47 L97.50,264.59 L96.59,263.73 L95.66,262.89 L94.71,262.06 L93.73,261.26 L92.74,260.48 L91.73,259.71 L90.71,258.96 L89.67,258.23 L88.61,257.51 L87.53,256.81 L86.45,256.13 L85.35,255.45 L84.23,254.80 L83.11,254.15 L81.97,253.52 L80.83,252.90 L79.67,252.29 L78.51,251.69 L77.34,251.10 L76.16,250.52 L74.97,249.96 L73.78,249.39 L72.59,248.84 L71.39,248.29 L70.19,247.75 L68.99,247.22 L67.78,246.69 L66.58,246.17 L65.37,245.65 L64.17,245.13 L62.96,244.62 L61.76,244.10 L60.57,243.59 L59.37,243.09 L58.18,242.58 L56.99,242.08 L55.80,241.58 L54.62,241.08 L53.44,240.58 L52.26,240.09 L51.09,239.59 L49.92,239.10 L48.75,238.61 L47.59,238.12 L46.43,237.64 L45.27,237.15 L44.12,236.67 L42.97,236.19 L41.83,235.71 L40.69,235.23Z" fill="#8e8a96" fill-opacity="0.22"/>
<path d="M40.60,235.22 L41.88,235.82 L43.15,236.42 L44.43,237.03 L45.71,237.63 L46.98,238.23 L48.26,238.83 L49.54,239.43 L50.82,240.03 L52.10,240.63 L53.37,241.22 L54.66,241.82 L55.94,242.41 L57.22,243.00 L58.51,243.59 L59.80,244.17 L61.08,244.75 L62.38,245.33 L63.67,245.91 L64.97,246.48 L66.27,247.05 L67.57,247.61 L68.88,248.17 L70.19,248.73 L71.50,249.28 L72.82,249.83 L74.13,250.38 L75.45,250.92 L76.78,251.46 L78.10,252.01 L79.42,252.56 L80.74,253.10 L82.05,253.65 L83.37,254.21 L84.68,254.77 L85.99,255.34 L87.30,255.91 L88.59,256.49 L89.89,257.08 L91.18,257.69 L92.46,258.30 L93.73,258.92 L94.99,259.56 L96.25,260.21 L97.49,260.87 L98.73,261.55 L99.95,262.25 L101.16,262.96 L102.36,263.69 L103.55,264.45 L104.72,265.22 L105.88,266.01 L107.03,266.83 L108.16,267.67 L109.27,268.52 L110.37,269.40 L111.45,270.31 L112.51,271.23 L113.55,272.17 L114.58,273.13 L115.58,274.11 L116.57,275.11 L117.54,276.13 L118.48,277.17 L119.41,278.22 L120.31,279.30 L121.20,280.39 L122.06,281.50 L122.89,282.63 L123.71,283.77 L124.50,284.93 L125.26,286.11 L126.00,287.30 L126.71,288.51 L127.40,289.73 L128.06,290.97 L128.70,292.22 L129.31,293.49 L129.89,294.77 L130.44,296.07 L130.96,297.38 L131.45,298.70 L131.91,300.04 L132.35,301.38 L132.75,302.74 L133.12,304.12 L133.45,305.50 L133.76,306.89 L134.03,308.30 L134.27,309.72 L126.59,309.70 L126.39,308.36 L126.16,307.03 L125.90,305.70 L125.61,304.38 L125.30,303.07 L124.96,301.77 L124.59,300.47 L124.19,299.19 L123.77,297.91 L123.32,296.65 L122.84,295.39 L122.34,294.15 L121.81,292.92 L121.26,291.70 L120.69,290.49 L120.09,289.29 L119.46,288.11 L118.82,286.93 L118.15,285.78 L117.46,284.63 L116.74,283.50 L116.00,282.39 L115.25,281.28 L114.47,280.20 L113.67,279.13 L112.85,278.07 L112.00,277.04 L111.14,276.01 L110.26,275.01 L109.36,274.02 L108.45,273.05 L107.51,272.10 L106.55,271.17 L105.58,270.25 L104.59,269.35 L103.58,268.48 L102.56,267.62 L101.52,266.79 L100.47,265.97 L99.39,265.18 L98.31,264.40 L97.21,263.65 L96.09,262.91 L94.97,262.19 L93.83,261.49 L92.68,260.80 L91.52,260.13 L90.35,259.47 L89.16,258.82 L87.97,258.19 L86.78,257.57 L85.57,256.96 L84.36,256.36 L83.14,255.76 L81.92,255.18 L80.69,254.60 L79.46,254.02 L78.23,253.45 L76.99,252.89 L75.75,252.32 L74.51,251.76 L73.28,251.21 L72.04,250.65 L70.80,250.09 L69.56,249.53 L68.33,248.97 L67.09,248.40 L65.87,247.83 L64.64,247.26 L63.42,246.68 L62.20,246.10 L60.98,245.52 L59.77,244.93 L58.56,244.34 L57.35,243.75 L56.14,243.15 L54.94,242.56 L53.74,241.96 L52.54,241.35 L51.34,240.75 L50.14,240.14 L48.94,239.53 L47.75,238.92 L46.56,238.31 L45.36,237.69 L44.17,237.08 L42.98,236.46 L41.79,235.84 L40.61,235.22Z" fill="#8e8a96" fill-opacity="0.22"/>
<path d="M41.82,235.31 L43.26,235.66 L44.70,236.02 L46.13,236.40 L47.57,236.78 L49.00,237.17 L50.44,237.56 L51.87,237.97 L53.30,238.39 L54.73,238.82 L56.16,239.26 L57.59,239.71 L59.01,240.16 L60.44,240.63 L61.86,241.11 L63.28,241.59 L64.70,242.09 L66.11,242.60 L67.53,243.11 L68.94,243.63 L70.35,244.17 L71.75,244.71 L73.15,245.27 L74.55,245.83 L75.95,246.40 L77.34,246.98 L78.73,247.58 L80.12,248.18 L81.50,248.79 L82.88,249.41 L84.25,250.04 L85.62,250.68 L86.99,251.32 L88.35,251.98 L89.71,252.65 L91.06,253.33 L92.41,254.01 L93.75,254.71 L95.09,255.42 L96.43,256.13 L97.75,256.86 L99.08,257.59 L100.39,258.33 L101.70,259.09 L103.01,259.85 L104.30,260.63 L105.59,261.41 L106.87,262.21 L108.14,263.02 L109.41,263.84 L110.66,264.67 L111.90,265.52 L113.13,266.37 L114.34,267.24 L115.55,268.13 L116.74,269.03 L117.92,269.94 L119.09,270.87 L120.24,271.81 L121.38,272.77 L122.50,273.74 L123.60,274.73 L124.69,275.73 L125.76,276.75 L126.81,277.79 L127.85,278.84 L128.86,279.91 L129.85,281.00 L130.83,282.10 L131.78,283.22 L132.70,284.36 L133.61,285.52 L134.49,286.70 L135.35,287.89 L136.18,289.11 L136.99,290.34 L137.76,291.59 L138.52,292.86 L139.24,294.16 L139.94,295.47 L140.60,296.80 L141.24,298.15 L141.85,299.53 L142.42,300.92 L142.97,302.34 L143.48,303.78 L143.95,305.24 L144.40,306.72 L144.80,308.23 L145.18,309.76 L129.28,309.89 L129.47,308.33 L129.59,306.79 L129.66,305.27 L129.68,303.78 L129.63,302.30 L129.54,300.84 L129.39,299.40 L129.19,297.98 L128.95,296.58 L128.65,295.20 L128.31,293.84 L127.92,292.50 L127.48,291.18 L127.01,289.88 L126.49,288.60 L125.93,287.34 L125.33,286.09 L124.69,284.87 L124.01,283.67 L123.30,282.48 L122.55,281.32 L121.77,280.17 L120.96,279.05 L120.12,277.94 L119.25,276.86 L118.35,275.79 L117.42,274.74 L116.46,273.71 L115.48,272.70 L114.48,271.72 L113.46,270.75 L112.41,269.79 L111.35,268.86 L110.26,267.95 L109.16,267.05 L108.04,266.16 L106.90,265.30 L105.75,264.45 L104.59,263.61 L103.41,262.79 L102.22,261.98 L101.02,261.18 L99.81,260.40 L98.59,259.63 L97.36,258.87 L96.13,258.12 L94.88,257.39 L93.64,256.66 L92.39,255.94 L91.13,255.23 L89.88,254.53 L88.61,253.84 L87.35,253.16 L86.07,252.49 L84.80,251.83 L83.52,251.18 L82.24,250.54 L80.95,249.91 L79.66,249.29 L78.36,248.67 L77.06,248.07 L75.76,247.48 L74.45,246.90 L73.14,246.33 L71.83,245.76 L70.51,245.21 L69.19,244.67 L67.87,244.14 L66.54,243.62 L65.21,243.11 L63.87,242.60 L62.53,242.11 L61.19,241.63 L59.85,241.16 L58.50,240.70 L57.15,240.25 L55.79,239.81 L54.43,239.38 L53.07,238.96 L51.71,238.55 L50.34,238.16 L48.97,237.77 L47.60,237.39 L46.23,237.02 L44.85,236.67 L43.47,236.32 L42.08,235.99 L40.70,235.66 L39.31,235.35Z" fill="#8e8a96" fill-opacity="0.22"/>
<path d="M36.62,232.75 L38.19,232.97 L39.77,233.20 L41.37,233.43 L42.98,233.66 L44.60,233.91 L46.22,234.16 L47.86,234.41 L49.51,234.67 L51.17,234.95 L52.83,235.22 L54.50,235.51 L56.18,235.81 L57.86,236.11 L59.55,236.43 L61.24,236.75 L62.93,237.09 L64.63,237.43 L66.34,237.79 L68.04,238.15 L69.74,238.53 L71.45,238.92 L73.16,239.32 L74.86,239.74 L76.56,240.16 L78.27,240.60 L79.97,241.06 L81.66,241.53 L83.35,242.01 L85.04,242.50 L86.73,243.01 L88.40,243.54 L90.07,244.08 L91.74,244.64 L93.39,245.21 L95.04,245.80 L96.68,246.41 L98.31,247.03 L99.93,247.68 L101.54,248.34 L103.14,249.01 L104.72,249.71 L106.29,250.42 L107.85,251.16 L109.40,251.91 L110.93,252.69 L112.44,253.48 L113.94,254.30 L115.43,255.13 L116.89,255.99 L118.34,256.87 L119.77,257.77 L121.18,258.69 L122.57,259.64 L123.94,260.61 L125.29,261.60 L126.62,262.61 L127.92,263.65 L129.21,264.72 L130.46,265.80 L131.70,266.92 L132.91,268.06 L134.09,269.22 L135.25,270.41 L136.38,271.63 L137.48,272.87 L138.56,274.13 L139.60,275.42 L140.62,276.74 L141.60,278.08 L142.55,279.45 L143.47,280.84 L144.35,282.25 L145.20,283.69 L146.01,285.15 L146.78,286.64 L147.52,288.15 L148.22,289.69 L148.88,291.24 L149.50,292.83 L150.08,294.43 L150.62,296.06 L151.12,297.71 L151.57,299.39 L151.98,301.09 L152.35,302.81 L152.66,304.56 L152.93,306.33 L153.16,308.12 L153.33,309.93 L135.68,309.85 L135.44,308.32 L135.17,306.82 L134.87,305.33 L134.53,303.87 L134.16,302.43 L133.77,301.01 L133.34,299.61 L132.88,298.22 L132.40,296.86 L131.88,295.52 L131.34,294.20 L130.77,292.90 L130.17,291.61 L129.54,290.35 L128.89,289.10 L128.21,287.88 L127.51,286.67 L126.78,285.48 L126.03,284.30 L125.25,283.15 L124.45,282.01 L123.63,280.89 L122.78,279.79 L121.91,278.70 L121.02,277.63 L120.11,276.58 L119.18,275.55 L118.22,274.53 L117.25,273.52 L116.26,272.53 L115.25,271.56 L114.22,270.61 L113.17,269.66 L112.11,268.74 L111.03,267.83 L109.93,266.93 L108.82,266.05 L107.69,265.18 L106.54,264.33 L105.38,263.49 L104.21,262.66 L103.02,261.85 L101.82,261.05 L100.61,260.26 L99.39,259.49 L98.15,258.73 L96.90,257.98 L95.64,257.25 L94.38,256.53 L93.10,255.81 L91.81,255.12 L90.51,254.43 L89.21,253.75 L87.90,253.09 L86.58,252.43 L85.25,251.79 L83.91,251.16 L82.57,250.54 L81.23,249.93 L79.88,249.33 L78.52,248.73 L77.16,248.15 L75.80,247.58 L74.44,247.02 L73.07,246.46 L71.70,245.92 L70.32,245.38 L68.95,244.86 L67.58,244.34 L66.20,243.83 L64.83,243.33 L63.45,242.83 L62.08,242.34 L60.71,241.86 L59.34,241.39 L57.97,240.93 L56.61,240.47 L55.25,240.01 L53.89,239.57 L52.54,239.13 L51.19,238.70 L49.85,238.27 L48.52,237.85 L47.19,237.43 L45.86,237.02 L44.55,236.61 L43.24,236.21 L41.94,235.82 L40.65,235.43Z" fill="#8e8a96" fill-opacity="0.22"/>
<path d="M37.32,234.96 L38.26,234.79 L39.28,234.63 L40.36,234.47 L41.50,234.33 L42.68,234.20 L43.89,234.11 L45.14,234.04 L46.40,234.00 L47.66,234.00 L48.93,234.05 L50.18,234.14 L51.42,234.29 L52.62,234.49 L53.78,234.76 L54.90,235.10 L55.95,235.50 L56.94,235.99 L57.85,236.56 L58.67,237.21 L59.40,237.95 L60.04,238.77 L60.60,239.66 L61.08,240.61 L61.49,241.62 L61.84,242.66 L62.12,243.74 L62.36,244.85 L62.55,245.98 L62.71,247.12 L62.85,248.28 L62.97,249.45 L63.10,250.62 L63.23,251.78 L63.38,252.94 L63.56,254.09 L63.78,255.22 L64.04,256.33 L64.37,257.41 L64.76,258.45 L65.22,259.46 L65.76,260.44 L66.35,261.39 L67.00,262.31 L67.67,263.23 L68.37,264.13 L69.09,265.02 L69.80,265.92 L70.51,266.83 L71.19,267.74 L71.85,268.68 L72.49,269.62 L73.11,270.58 L73.71,271.54 L74.30,272.52 L74.88,273.50 L75.44,274.49 L76.00,275.48 L76.55,276.48 L77.09,277.48 L77.63,278.49 L78.17,279.49 L78.71,280.50 L79.25,281.50 L79.79,282.51 L80.34,283.51 L80.89,284.50 L81.45,285.50 L82.00,286.50 L82.56,287.49 L83.11,288.49 L83.66,289.48 L84.21,290.48 L84.75,291.48 L85.29,292.49 L85.81,293.49 L86.34,294.50 L86.85,295.52 L87.35,296.54 L87.84,297.56 L88.31,298.59 L88.77,299.63 L89.22,300.68 L89.65,301.73 L90.06,302.79 L90.46,303.86 L90.83,304.94 L91.19,306.03 L91.52,307.13 L91.83,308.24 L70.09,308.25 L70.18,307.30 L70.24,306.34 L70.28,305.39 L70.30,304.44 L70.30,303.49 L70.28,302.54 L70.25,301.59 L70.19,300.65 L70.11,299.71 L70.01,298.78 L69.89,297.84 L69.74,296.92 L69.58,295.99 L69.40,295.07 L69.20,294.16 L68.97,293.25 L68.73,292.35 L68.47,291.46 L68.18,290.57 L67.88,289.69 L67.55,288.82 L67.20,287.95 L66.83,287.10 L66.45,286.25 L66.04,285.41 L65.61,284.58 L65.16,283.76 L64.69,282.95 L64.21,282.15 L63.71,281.35 L63.20,280.56 L62.67,279.77 L62.14,278.99 L61.59,278.22 L61.04,277.45 L60.48,276.68 L59.92,275.91 L59.36,275.15 L58.79,274.39 L58.22,273.63 L57.65,272.87 L57.08,272.11 L56.51,271.36 L55.94,270.60 L55.37,269.85 L54.79,269.09 L54.22,268.34 L53.64,267.58 L53.07,266.83 L52.49,266.08 L51.92,265.33 L51.34,264.58 L50.76,263.83 L50.18,263.08 L49.59,262.33 L49.01,261.58 L48.42,260.82 L47.84,260.07 L47.27,259.32 L46.69,258.56 L46.13,257.80 L45.59,257.04 L45.05,256.27 L44.54,255.49 L44.05,254.70 L43.57,253.91 L43.13,253.10 L42.71,252.29 L42.33,251.46 L41.98,250.62 L41.67,249.77 L41.39,248.91 L41.15,248.03 L40.94,247.14 L40.77,246.24 L40.64,245.33 L40.54,244.41 L40.47,243.48 L40.42,242.54 L40.40,241.59 L40.40,240.64 L40.43,239.68 L40.47,238.72 L40.52,237.76 L40.58,236.80 L40.66,235.84 L40.74,234.88 L40.83,233.92 L40.91,232.97Z" fill="#ec6a52" fill-opacity="0.46" stroke="#e05a48" stroke-opacity="0.55" stroke-width="0.5"/>
<path d="M40.56,235.32 L41.48,235.95 L42.39,236.58 L43.29,237.22 L44.18,237.88 L45.06,238.54 L45.94,239.21 L46.81,239.88 L47.68,240.57 L48.54,241.26 L49.39,241.96 L50.24,242.67 L51.08,243.38 L51.92,244.10 L52.75,244.83 L53.58,245.56 L54.40,246.29 L55.22,247.04 L56.03,247.78 L56.84,248.53 L57.65,249.29 L58.46,250.04 L59.26,250.80 L60.05,251.57 L60.85,252.34 L61.64,253.11 L62.43,253.88 L63.21,254.66 L64.00,255.44 L64.78,256.22 L65.55,257.01 L66.33,257.80 L67.10,258.59 L67.86,259.39 L68.63,260.19 L69.39,260.99 L70.14,261.80 L70.90,262.61 L71.65,263.42 L72.39,264.24 L73.13,265.06 L73.87,265.88 L74.61,266.71 L75.34,267.53 L76.07,268.36 L76.80,269.20 L77.52,270.04 L78.23,270.88 L78.95,271.72 L79.66,272.57 L80.36,273.42 L81.06,274.28 L81.76,275.13 L82.45,275.99 L83.14,276.86 L83.82,277.73 L84.49,278.60 L85.16,279.47 L85.83,280.35 L86.49,281.23 L87.15,282.12 L87.79,283.01 L88.44,283.90 L89.08,284.80 L89.71,285.70 L90.33,286.60 L90.95,287.51 L91.56,288.43 L92.17,289.34 L92.77,290.26 L93.36,291.19 L93.95,292.12 L94.53,293.05 L95.10,293.99 L95.66,294.93 L96.22,295.87 L96.77,296.82 L97.31,297.77 L97.85,298.73 L98.37,299.69 L98.89,300.66 L99.40,301.63 L99.90,302.61 L100.40,303.59 L100.88,304.57 L101.36,305.56 L101.83,306.55 L102.29,307.55 L102.74,308.55 L103.18,309.56" fill="none" stroke="#8c8c96" stroke-opacity="0.25" stroke-width="0.7"/>
<path d="M40.58,235.36 L41.94,235.61 L43.30,235.87 L44.67,236.14 L46.04,236.42 L47.42,236.71 L48.79,237.02 L50.17,237.34 L51.55,237.67 L52.94,238.02 L54.32,238.38 L55.71,238.74 L57.09,239.13 L58.47,239.52 L59.86,239.93 L61.24,240.35 L62.62,240.78 L64.00,241.23 L65.38,241.68 L66.76,242.16 L68.13,242.64 L69.50,243.14 L70.87,243.65 L72.23,244.17 L73.59,244.71 L74.94,245.26 L76.29,245.82 L77.63,246.39 L78.97,246.98 L80.30,247.58 L81.62,248.20 L82.94,248.83 L84.25,249.47 L85.55,250.13 L86.84,250.80 L88.13,251.48 L89.40,252.18 L90.67,252.89 L91.93,253.61 L93.17,254.35 L94.41,255.10 L95.63,255.87 L96.85,256.65 L98.05,257.44 L99.24,258.25 L100.42,259.07 L101.59,259.90 L102.74,260.75 L103.88,261.62 L105.00,262.50 L106.11,263.39 L107.21,264.29 L108.29,265.22 L109.36,266.15 L110.41,267.10 L111.44,268.06 L112.46,269.04 L113.46,270.04 L114.44,271.04 L115.40,272.07 L116.35,273.10 L117.28,274.16 L118.19,275.22 L119.08,276.30 L119.95,277.40 L120.80,278.51 L121.63,279.64 L122.44,280.78 L123.23,281.94 L123.99,283.11 L124.74,284.30 L125.46,285.50 L126.16,286.72 L126.84,287.95 L127.49,289.20 L128.12,290.46 L128.72,291.74 L129.30,293.03 L129.86,294.34 L130.39,295.67 L130.89,297.01 L131.37,298.36 L131.82,299.74 L132.25,301.12 L132.65,302.53 L133.01,303.95 L133.36,305.38 L133.67,306.83 L133.95,308.30 L134.21,309.78" fill="none" stroke="#8c8c96" stroke-opacity="0.25" stroke-width="0.7"/>
<path d="M40.56,235.28 L41.85,235.81 L43.13,236.35 L44.40,236.91 L45.66,237.47 L46.92,238.05 L48.18,238.63 L49.42,239.23 L50.67,239.82 L51.91,240.43 L53.15,241.04 L54.38,241.65 L55.61,242.27 L56.84,242.89 L58.08,243.50 L59.31,244.12 L60.54,244.74 L61.77,245.36 L63.01,245.97 L64.25,246.58 L65.49,247.18 L66.74,247.78 L67.99,248.37 L69.25,248.95 L70.52,249.53 L71.79,250.09 L73.06,250.65 L74.34,251.21 L75.62,251.76 L76.90,252.31 L78.18,252.86 L79.47,253.41 L80.75,253.96 L82.03,254.51 L83.31,255.07 L84.59,255.63 L85.86,256.20 L87.13,256.77 L88.39,257.35 L89.64,257.94 L90.89,258.55 L92.13,259.16 L93.36,259.79 L94.58,260.43 L95.80,261.08 L97.00,261.76 L98.18,262.45 L99.36,263.16 L100.52,263.89 L101.67,264.64 L102.80,265.42 L103.91,266.22 L105.01,267.04 L106.09,267.89 L107.15,268.76 L108.20,269.65 L109.23,270.56 L110.23,271.50 L111.22,272.45 L112.19,273.43 L113.15,274.43 L114.08,275.44 L114.99,276.48 L115.88,277.53 L116.75,278.60 L117.60,279.69 L118.42,280.79 L119.23,281.91 L120.01,283.05 L120.77,284.20 L121.51,285.37 L122.22,286.55 L122.91,287.75 L123.57,288.95 L124.22,290.17 L124.83,291.41 L125.42,292.65 L125.99,293.91 L126.53,295.17 L127.05,296.45 L127.53,297.73 L127.99,299.03 L128.43,300.33 L128.84,301.64 L129.21,302.96 L129.56,304.28 L129.89,305.62 L130.18,306.95 L130.44,308.30 L130.68,309.65" fill="none" stroke="#8c8c96" stroke-opacity="0.25" stroke-width="0.7"/>
<path d="M40.51,235.38 L41.97,235.67 L43.42,235.98 L44.87,236.30 L46.32,236.64 L47.75,236.99 L49.19,237.36 L50.62,237.74 L52.04,238.13 L53.46,238.54 L54.87,238.96 L56.28,239.40 L57.68,239.84 L59.08,240.30 L60.47,240.77 L61.86,241.26 L63.25,241.75 L64.63,242.26 L66.01,242.78 L67.38,243.31 L68.75,243.85 L70.11,244.41 L71.47,244.97 L72.82,245.54 L74.18,246.13 L75.52,246.72 L76.87,247.32 L78.21,247.94 L79.55,248.56 L80.88,249.19 L82.21,249.83 L83.53,250.48 L84.86,251.14 L86.18,251.80 L87.49,252.48 L88.81,253.16 L90.12,253.84 L91.42,254.54 L92.73,255.24 L94.03,255.95 L95.32,256.67 L96.62,257.39 L97.91,258.12 L99.20,258.86 L100.48,259.60 L101.76,260.35 L103.03,261.12 L104.30,261.89 L105.55,262.67 L106.80,263.47 L108.04,264.27 L109.26,265.10 L110.48,265.93 L111.68,266.78 L112.87,267.65 L114.04,268.53 L115.20,269.43 L116.34,270.34 L117.46,271.28 L118.57,272.23 L119.66,273.21 L120.73,274.20 L121.77,275.21 L122.80,276.25 L123.81,277.30 L124.79,278.37 L125.75,279.46 L126.68,280.57 L127.59,281.70 L128.47,282.85 L129.33,284.02 L130.16,285.21 L130.96,286.42 L131.73,287.64 L132.47,288.89 L133.18,290.15 L133.86,291.43 L134.51,292.73 L135.12,294.05 L135.70,295.39 L136.24,296.74 L136.75,298.12 L137.23,299.51 L137.66,300.92 L138.06,302.35 L138.42,303.79 L138.74,305.25 L139.02,306.74 L139.26,308.24 L139.45,309.75" fill="none" stroke="#8c8c96" stroke-opacity="0.25" stroke-width="0.7"/>
<path d="M40.61,235.44 L42.04,235.71 L43.48,235.98 L44.93,236.26 L46.38,236.55 L47.85,236.84 L49.32,237.13 L50.80,237.44 L52.29,237.75 L53.78,238.06 L55.28,238.39 L56.79,238.72 L58.30,239.06 L59.81,239.40 L61.33,239.76 L62.85,240.12 L64.37,240.49 L65.90,240.87 L67.43,241.26 L68.95,241.66 L70.48,242.07 L72.01,242.50 L73.53,242.93 L75.06,243.37 L76.58,243.82 L78.10,244.29 L79.62,244.77 L81.13,245.25 L82.64,245.76 L84.14,246.27 L85.64,246.80 L87.13,247.34 L88.62,247.89 L90.10,248.46 L91.57,249.05 L93.03,249.64 L94.49,250.25 L95.93,250.88 L97.37,251.52 L98.80,252.18 L100.21,252.86 L101.61,253.55 L103.01,254.26 L104.38,254.98 L105.75,255.72 L107.10,256.48 L108.44,257.26 L109.76,258.05 L111.07,258.87 L112.36,259.70 L113.64,260.55 L114.90,261.42 L116.14,262.31 L117.36,263.22 L118.56,264.15 L119.75,265.10 L120.91,266.07 L122.06,267.07 L123.18,268.08 L124.28,269.12 L125.36,270.17 L126.42,271.25 L127.46,272.36 L128.47,273.48 L129.45,274.63 L130.41,275.80 L131.35,276.99 L132.26,278.21 L133.13,279.45 L133.98,280.70 L134.80,281.98 L135.59,283.28 L136.34,284.60 L137.06,285.94 L137.75,287.30 L138.40,288.68 L139.02,290.07 L139.59,291.49 L140.13,292.92 L140.63,294.38 L141.09,295.84 L141.51,297.33 L141.89,298.84 L142.22,300.36 L142.51,301.90 L142.75,303.45 L142.95,305.02 L143.10,306.60 L143.20,308.21 L143.25,309.82" fill="none" stroke="#8c8c96" stroke-opacity="0.25" stroke-width="0.7"/>
<path d="M40.70,235.43 L41.52,235.99 L42.30,236.58 L43.05,237.20 L43.75,237.85 L44.43,238.52 L45.07,239.22 L45.68,239.94 L46.27,240.67 L46.83,241.43 L47.37,242.20 L47.89,242.98 L48.39,243.78 L48.87,244.59 L49.35,245.41 L49.81,246.23 L50.27,247.06 L50.72,247.90 L51.16,248.74 L51.61,249.58 L52.05,250.42 L52.50,251.26 L52.96,252.09 L53.42,252.92 L53.90,253.75 L54.38,254.56 L54.86,255.38 L55.36,256.19 L55.86,256.99 L56.37,257.79 L56.88,258.59 L57.39,259.38 L57.92,260.17 L58.44,260.96 L58.97,261.75 L59.51,262.53 L60.04,263.31 L60.58,264.09 L61.12,264.87 L61.67,265.65 L62.21,266.43 L62.76,267.21 L63.30,267.99 L63.85,268.77 L64.40,269.55 L64.94,270.33 L65.48,271.11 L66.03,271.89 L66.57,272.68 L67.10,273.46 L67.64,274.25 L68.17,275.04 L68.70,275.84 L69.22,276.63 L69.74,277.43 L70.25,278.23 L70.75,279.04 L71.25,279.84 L71.74,280.65 L72.23,281.47 L72.70,282.29 L73.17,283.11 L73.63,283.93 L74.08,284.76 L74.52,285.60 L74.95,286.44 L75.37,287.28 L75.77,288.13 L76.17,288.98 L76.55,289.84 L76.92,290.70 L77.27,291.57 L77.62,292.44 L77.94,293.32 L78.26,294.21 L78.55,295.10 L78.83,296.00 L79.10,296.90 L79.35,297.81 L79.58,298.73 L79.79,299.66 L79.98,300.59 L80.16,301.53 L80.31,302.47 L80.45,303.43 L80.57,304.39 L80.66,305.36 L80.73,306.33 L80.79,307.32 L80.82,308.31" fill="none" stroke="#a8182a" stroke-width="0.8"/>
</g>
<circle cx="46.3" cy="240.6" r="0.80" fill="#7a2a3a" fill-opacity="0.80"/>
<circle cx="46.3" cy="244.4" r="0.80" fill="#7a2a3a" fill-opacity="0.80"/>
<circle cx="46.4" cy="251.0" r="0.80" fill="#7a2a3a" fill-opacity="0.80"/>
<circle cx="51.9" cy="249.5" r="0.80" fill="#7a2a3a" fill-opacity="0.80"/>
<circle cx="52.1" cy="260.6" r="0.80" fill="#7a2a3a" fill-opacity="0.80"/>
<circle cx="52.1" cy="265.9" r="0.80" fill="#7a2a3a" fill-opacity="0.80"/>
<circle cx="57.9" cy="253.0" r="0.80" fill="#7a2a3a" fill-opacity="0.80"/>
<circle cx="63.7" cy="258.5" r="0.80" fill="#7a2a3a" fill-opacity="0.80"/>
<circle cx="69.5" cy="263.5" r="0.80" fill="#7a2a3a" fill-opacity="0.80"/>
<circle cx="66.8" cy="274.0" r="0.80" fill="#7a2a3a" fill-opacity="0.80"/>
<circle cx="72.3" cy="279.3" r="0.80" fill="#7a2a3a" fill-opacity="0.80"/>
<circle cx="57.9" cy="282.5" r="0.80" fill="#7a2a3a" fill-opacity="0.80"/>
<circle cx="86.8" cy="284.2" r="0.80" fill="#7a2a3a" fill-opacity="0.80"/>
<circle cx="92.6" cy="293.2" r="0.80" fill="#7a2a3a" fill-opacity="0.80"/>
<circle cx="69.4" cy="299.0" r="0.80" fill="#7a2a3a" fill-opacity="0.80"/>
<g stroke="#222" stroke-width="1.15" fill="none">
<path d="M40.50,232.90 V308.20 H166.70"/>
<path d="M40.50,308.20v1.80M65.30,308.20v1.80M90.10,308.20v1.80M114.90,308.20v1.80M139.70,308.20v1.80M164.50,308.20v1.80M40.50,235.40h-1.80M40.50,263.10h-1.80M40.50,290.80h-1.80M40.50,308.20h-1.80"/>
<path d="M42.98,308.20v1.30M45.46,308.20v1.30M47.94,308.20v1.30M50.42,308.20v1.30M52.90,308.20v1.30M55.38,308.20v1.30M57.86,308.20v1.30M60.34,308.20v1.30M62.82,308.20v1.30M67.78,308.20v1.30M70.26,308.20v1.30M72.74,308.20v1.30M75.22,308.20v1.30M77.70,308.20v1.30M80.18,308.20v1.30M82.66,308.20v1.30M85.14,308.20v1.30M87.62,308.20v1.30M92.58,308.20v1.30M95.06,308.20v1.30M97.54,308.20v1.30M100.02,308.20v1.30M102.50,308.20v1.30M104.98,308.20v1.30M107.46,308.20v1.30M109.94,308.20v1.30M112.42,308.20v1.30M117.38,308.20v1.30M119.86,308.20v1.30M122.34,308.20v1.30M124.82,308.20v1.30M127.30,308.20v1.30M129.78,308.20v1.30M132.26,308.20v1.30M134.74,308.20v1.30M137.22,308.20v1.30M142.18,308.20v1.30M144.66,308.20v1.30M147.14,308.20v1.30M149.62,308.20v1.30M152.10,308.20v1.30M154.58,308.20v1.30M157.06,308.20v1.30M159.54,308.20v1.30M162.02,308.20v1.30M40.50,236.64h-1.30M40.50,237.87h-1.30M40.50,239.30h-1.30M40.50,240.78h-1.30M40.50,242.63h-1.30M40.50,244.68h-1.30M40.50,247.16h-1.30M40.50,250.73h-1.30M40.50,255.44h-1.30M40.50,263.91h-1.30M40.50,264.91h-1.30M40.50,265.91h-1.30M40.50,266.91h-1.30M40.50,268.24h-1.30M40.50,269.95h-1.30M40.50,271.62h-1.30M40.50,273.62h-1.30M40.50,275.62h-1.30M40.50,277.95h-1.30M40.50,280.61h-1.30M40.50,282.99h-1.30" stroke-width="1.15"/>
</g>
<g font-family="Liberation Sans, sans-serif" font-size="7.4" fill="#2a2a2a" stroke="#2a2a2a" stroke-width="0.2" text-anchor="end">
<text x="33.60" y="237.95">1</text>
<text x="33.60" y="265.65">0.3</text>
<text x="33.60" y="293.35">0.1</text>
<text x="33.60" y="310.75">0.05</text>
</g>
<g font-family="Liberation Sans, sans-serif" font-size="7.4" fill="#2a2a2a" stroke="#2a2a2a" stroke-width="0.2" text-anchor="middle">
<text x="40.50" y="320.85">0</text>
<text x="65.30" y="320.85">30</text>
<text x="90.10" y="320.85">60</text>
<text x="114.90" y="320.85">90</text>
<text x="139.70" y="320.85">120</text>
<text x="164.50" y="320.85">150</text>
</g>
<text font-family="Liberation Sans, sans-serif" font-size="8.2" font-weight="bold" fill="#1a1a1a" x="-31.95" y="0" textLength="63.9" lengthAdjust="spacingAndGlyphs" transform="translate(14.50,269.75) rotate(-90)">Fractional RBC survival</text>
<text font-family="Liberation Sans, sans-serif" font-size="9" font-weight="bold" fill="#1a1a1a" x="97.80" y="333.10" textLength="13.1" lengthAdjust="spacingAndGlyphs">Days</text>
<text font-family="Liberation Sans, sans-serif" font-size="8.2" fill="#2a2a2a" stroke="#2a2a2a" stroke-width="0.08" x="79.00" y="227.40" textLength="50.2" lengthAdjust="spacing">β<tspan dy="-3.3" font-size="6.8">S</tspan><tspan dy="3.3">β</tspan><tspan dy="-3.3" font-size="6.8">S</tspan><tspan dy="3.3"> (N = 3)</tspan></text>
<g clip-path="url(#cB10)">
<path d="M207.32,234.96 L208.26,234.79 L209.28,234.63 L210.36,234.47 L211.50,234.33 L212.68,234.20 L213.89,234.11 L215.14,234.04 L216.40,234.00 L217.66,234.00 L218.93,234.05 L220.18,234.14 L221.42,234.29 L222.62,234.49 L223.78,234.76 L224.90,235.10 L225.95,235.50 L226.94,235.99 L227.85,236.56 L228.67,237.21 L229.40,237.95 L230.04,238.77 L230.60,239.66 L231.08,240.61 L231.49,241.62 L231.84,242.66 L232.12,243.74 L232.36,244.85 L232.55,245.98 L232.71,247.12 L232.85,248.28 L232.97,249.45 L233.10,250.62 L233.23,251.78 L233.38,252.94 L233.56,254.09 L233.78,255.22 L234.04,256.33 L234.37,257.41 L234.76,258.45 L235.22,259.46 L235.76,260.44 L236.35,261.39 L237.00,262.31 L237.67,263.23 L238.37,264.13 L239.09,265.02 L239.80,265.92 L240.51,266.83 L241.19,267.74 L241.85,268.68 L242.49,269.62 L243.11,270.58 L243.71,271.54 L244.30,272.52 L244.88,273.50 L245.44,274.49 L246.00,275.48 L246.55,276.48 L247.09,277.48 L247.63,278.49 L248.17,279.49 L248.71,280.50 L249.25,281.50 L249.79,282.51 L250.34,283.51 L250.89,284.50 L251.45,285.50 L252.00,286.50 L252.56,287.49 L253.11,288.49 L253.66,289.48 L254.21,290.48 L254.75,291.48 L255.29,292.49 L255.81,293.49 L256.34,294.50 L256.85,295.52 L257.35,296.54 L257.84,297.56 L258.31,298.59 L258.77,299.63 L259.22,300.68 L259.65,301.73 L260.06,302.79 L260.46,303.86 L260.83,304.94 L261.19,306.03 L261.52,307.13 L261.83,308.24 L240.09,308.25 L240.18,307.30 L240.24,306.34 L240.28,305.39 L240.30,304.44 L240.30,303.49 L240.28,302.54 L240.25,301.59 L240.19,300.65 L240.11,299.71 L240.01,298.78 L239.89,297.84 L239.74,296.92 L239.58,295.99 L239.40,295.07 L239.20,294.16 L238.97,293.25 L238.73,292.35 L238.47,291.46 L238.18,290.57 L237.88,289.69 L237.55,288.82 L237.20,287.95 L236.83,287.10 L236.45,286.25 L236.04,285.41 L235.61,284.58 L235.16,283.76 L234.69,282.95 L234.21,282.15 L233.71,281.35 L233.20,280.56 L232.67,279.77 L232.14,278.99 L231.59,278.22 L231.04,277.45 L230.48,276.68 L229.92,275.91 L229.36,275.15 L228.79,274.39 L228.22,273.63 L227.65,272.87 L227.08,272.11 L226.51,271.36 L225.94,270.60 L225.37,269.85 L224.79,269.09 L224.22,268.34 L223.64,267.58 L223.07,266.83 L222.49,266.08 L221.92,265.33 L221.34,264.58 L220.76,263.83 L220.18,263.08 L219.59,262.33 L219.01,261.58 L218.42,260.82 L217.84,260.07 L217.27,259.32 L216.69,258.56 L216.13,257.80 L215.59,257.04 L215.05,256.27 L214.54,255.49 L214.05,254.70 L213.57,253.91 L213.13,253.10 L212.71,252.29 L212.33,251.46 L211.98,250.62 L211.67,249.77 L211.39,248.91 L211.15,248.03 L210.94,247.14 L210.77,246.24 L210.64,245.33 L210.54,244.41 L210.47,243.48 L210.42,242.54 L210.40,241.59 L210.40,240.64 L210.43,239.68 L210.47,238.72 L210.52,237.76 L210.58,236.80 L210.66,235.84 L210.74,234.88 L210.83,233.92 L210.91,232.97Z" fill="#8e8a96" fill-opacity="0.22"/>
<path d="M206.31,234.08 L207.94,234.15 L209.56,234.24 L211.19,234.35 L212.81,234.48 L214.43,234.63 L216.05,234.80 L217.66,234.99 L219.28,235.20 L220.89,235.43 L222.49,235.69 L224.10,235.96 L225.70,236.25 L227.29,236.56 L228.89,236.89 L230.47,237.24 L232.06,237.61 L233.64,237.99 L235.21,238.40 L236.78,238.83 L238.34,239.27 L239.90,239.73 L241.45,240.21 L243.00,240.71 L244.54,241.23 L246.07,241.77 L247.59,242.33 L249.11,242.90 L250.62,243.49 L252.13,244.10 L253.62,244.73 L255.11,245.37 L256.59,246.04 L258.06,246.72 L259.52,247.41 L260.97,248.13 L262.42,248.86 L263.85,249.61 L265.28,250.38 L266.69,251.16 L268.10,251.96 L269.49,252.78 L270.87,253.61 L272.25,254.46 L273.61,255.32 L274.96,256.21 L276.29,257.11 L277.62,258.02 L278.94,258.95 L280.24,259.90 L281.53,260.86 L282.80,261.84 L284.07,262.83 L285.32,263.84 L286.56,264.87 L287.78,265.91 L288.99,266.96 L290.18,268.03 L291.36,269.12 L292.53,270.22 L293.68,271.33 L294.82,272.46 L295.94,273.61 L297.04,274.77 L298.13,275.94 L299.21,277.13 L300.26,278.33 L301.30,279.54 L302.33,280.77 L303.33,282.02 L304.32,283.27 L305.30,284.55 L306.25,285.83 L307.19,287.13 L308.10,288.44 L309.00,289.76 L309.88,291.10 L310.75,292.45 L311.59,293.82 L312.41,295.19 L313.22,296.58 L314.00,297.99 L314.76,299.40 L315.51,300.83 L316.23,302.27 L316.93,303.72 L317.61,305.18 L318.27,306.66 L318.91,308.15 L319.53,309.65 L283.87,309.75 L283.96,308.43 L284.03,307.11 L284.07,305.80 L284.08,304.49 L284.06,303.19 L284.01,301.89 L283.93,300.59 L283.83,299.30 L283.69,298.02 L283.53,296.74 L283.34,295.46 L283.12,294.20 L282.88,292.94 L282.60,291.69 L282.30,290.45 L281.98,289.22 L281.62,288.00 L281.24,286.79 L280.84,285.59 L280.40,284.40 L279.95,283.23 L279.46,282.06 L278.95,280.91 L278.42,279.77 L277.86,278.64 L277.27,277.53 L276.66,276.44 L276.03,275.35 L275.37,274.29 L274.69,273.24 L273.98,272.20 L273.25,271.19 L272.50,270.19 L271.73,269.21 L270.93,268.24 L270.10,267.30 L269.26,266.38 L268.39,265.47 L267.50,264.59 L266.59,263.73 L265.66,262.89 L264.71,262.06 L263.73,261.26 L262.74,260.48 L261.73,259.71 L260.71,258.96 L259.67,258.23 L258.61,257.51 L257.53,256.81 L256.45,256.13 L255.35,255.45 L254.23,254.80 L253.11,254.15 L251.97,253.52 L250.83,252.90 L249.67,252.29 L248.51,251.69 L247.34,251.10 L246.16,250.52 L244.97,249.96 L243.78,249.39 L242.59,248.84 L241.39,248.29 L240.19,247.75 L238.99,247.22 L237.78,246.69 L236.58,246.17 L235.37,245.65 L234.17,245.13 L232.96,244.62 L231.76,244.10 L230.57,243.59 L229.37,243.09 L228.18,242.58 L226.99,242.08 L225.80,241.58 L224.62,241.08 L223.44,240.58 L222.26,240.09 L221.09,239.59 L219.92,239.10 L218.75,238.61 L217.59,238.12 L216.43,237.64 L215.27,237.15 L214.12,236.67 L212.97,236.19 L211.83,235.71 L210.69,235.23Z" fill="#8e8a96" fill-opacity="0.22"/>
<path d="M210.60,235.22 L211.88,235.82 L213.15,236.42 L214.43,237.03 L215.71,237.63 L216.98,238.23 L218.26,238.83 L219.54,239.43 L220.82,240.03 L222.10,240.63 L223.37,241.22 L224.66,241.82 L225.94,242.41 L227.22,243.00 L228.51,243.59 L229.80,244.17 L231.08,244.75 L232.38,245.33 L233.67,245.91 L234.97,246.48 L236.27,247.05 L237.57,247.61 L238.88,248.17 L240.19,248.73 L241.50,249.28 L242.82,249.83 L244.13,250.38 L245.45,250.92 L246.78,251.46 L248.10,252.01 L249.42,252.56 L250.74,253.10 L252.05,253.65 L253.37,254.21 L254.68,254.77 L255.99,255.34 L257.30,255.91 L258.59,256.49 L259.89,257.08 L261.18,257.69 L262.46,258.30 L263.73,258.92 L264.99,259.56 L266.25,260.21 L267.49,260.87 L268.73,261.55 L269.95,262.25 L271.16,262.96 L272.36,263.69 L273.55,264.45 L274.72,265.22 L275.88,266.01 L277.03,266.83 L278.16,267.67 L279.27,268.52 L280.37,269.40 L281.45,270.31 L282.51,271.23 L283.55,272.17 L284.58,273.13 L285.58,274.11 L286.57,275.11 L287.54,276.13 L288.48,277.17 L289.41,278.22 L290.31,279.30 L291.20,280.39 L292.06,281.50 L292.89,282.63 L293.71,283.77 L294.50,284.93 L295.26,286.11 L296.00,287.30 L296.71,288.51 L297.40,289.73 L298.06,290.97 L298.70,292.22 L299.31,293.49 L299.89,294.77 L300.44,296.07 L300.96,297.38 L301.45,298.70 L301.91,300.04 L302.35,301.38 L302.75,302.74 L303.12,304.12 L303.45,305.50 L303.76,306.89 L304.03,308.30 L304.27,309.72 L296.59,309.70 L296.39,308.36 L296.16,307.03 L295.90,305.70 L295.61,304.38 L295.30,303.07 L294.96,301.77 L294.59,300.47 L294.19,299.19 L293.77,297.91 L293.32,296.65 L292.84,295.39 L292.34,294.15 L291.81,292.92 L291.26,291.70 L290.69,290.49 L290.09,289.29 L289.46,288.11 L288.82,286.93 L288.15,285.78 L287.46,284.63 L286.74,283.50 L286.00,282.39 L285.25,281.28 L284.47,280.20 L283.67,279.13 L282.85,278.07 L282.00,277.04 L281.14,276.01 L280.26,275.01 L279.36,274.02 L278.45,273.05 L277.51,272.10 L276.55,271.17 L275.58,270.25 L274.59,269.35 L273.58,268.48 L272.56,267.62 L271.52,266.79 L270.47,265.97 L269.39,265.18 L268.31,264.40 L267.21,263.65 L266.09,262.91 L264.97,262.19 L263.83,261.49 L262.68,260.80 L261.52,260.13 L260.35,259.47 L259.16,258.82 L257.97,258.19 L256.78,257.57 L255.57,256.96 L254.36,256.36 L253.14,255.76 L251.92,255.18 L250.69,254.60 L249.46,254.02 L248.23,253.45 L246.99,252.89 L245.75,252.32 L244.51,251.76 L243.28,251.21 L242.04,250.65 L240.80,250.09 L239.56,249.53 L238.33,248.97 L237.09,248.40 L235.87,247.83 L234.64,247.26 L233.42,246.68 L232.20,246.10 L230.98,245.52 L229.77,244.93 L228.56,244.34 L227.35,243.75 L226.14,243.15 L224.94,242.56 L223.74,241.96 L222.54,241.35 L221.34,240.75 L220.14,240.14 L218.94,239.53 L217.75,238.92 L216.56,238.31 L215.36,237.69 L214.17,237.08 L212.98,236.46 L211.79,235.84 L210.61,235.22Z" fill="#8e8a96" fill-opacity="0.22"/>
<path d="M211.82,235.31 L213.26,235.66 L214.70,236.02 L216.13,236.40 L217.57,236.78 L219.00,237.17 L220.44,237.56 L221.87,237.97 L223.30,238.39 L224.73,238.82 L226.16,239.26 L227.59,239.71 L229.01,240.16 L230.44,240.63 L231.86,241.11 L233.28,241.59 L234.70,242.09 L236.11,242.60 L237.53,243.11 L238.94,243.63 L240.35,244.17 L241.75,244.71 L243.15,245.27 L244.55,245.83 L245.95,246.40 L247.34,246.98 L248.73,247.58 L250.12,248.18 L251.50,248.79 L252.88,249.41 L254.25,250.04 L255.62,250.68 L256.99,251.32 L258.35,251.98 L259.71,252.65 L261.06,253.33 L262.41,254.01 L263.75,254.71 L265.09,255.42 L266.43,256.13 L267.75,256.86 L269.08,257.59 L270.39,258.33 L271.70,259.09 L273.01,259.85 L274.30,260.63 L275.59,261.41 L276.87,262.21 L278.14,263.02 L279.41,263.84 L280.66,264.67 L281.90,265.52 L283.13,266.37 L284.34,267.24 L285.55,268.13 L286.74,269.03 L287.92,269.94 L289.09,270.87 L290.24,271.81 L291.38,272.77 L292.50,273.74 L293.60,274.73 L294.69,275.73 L295.76,276.75 L296.81,277.79 L297.85,278.84 L298.86,279.91 L299.85,281.00 L300.83,282.10 L301.78,283.22 L302.70,284.36 L303.61,285.52 L304.49,286.70 L305.35,287.89 L306.18,289.11 L306.99,290.34 L307.76,291.59 L308.52,292.86 L309.24,294.16 L309.94,295.47 L310.60,296.80 L311.24,298.15 L311.85,299.53 L312.42,300.92 L312.97,302.34 L313.48,303.78 L313.95,305.24 L314.40,306.72 L314.80,308.23 L315.18,309.76 L299.28,309.89 L299.47,308.33 L299.59,306.79 L299.66,305.27 L299.68,303.78 L299.63,302.30 L299.54,300.84 L299.39,299.40 L299.19,297.98 L298.95,296.58 L298.65,295.20 L298.31,293.84 L297.92,292.50 L297.48,291.18 L297.01,289.88 L296.49,288.60 L295.93,287.34 L295.33,286.09 L294.69,284.87 L294.01,283.67 L293.30,282.48 L292.55,281.32 L291.77,280.17 L290.96,279.05 L290.12,277.94 L289.25,276.86 L288.35,275.79 L287.42,274.74 L286.46,273.71 L285.48,272.70 L284.48,271.72 L283.46,270.75 L282.41,269.79 L281.35,268.86 L280.26,267.95 L279.16,267.05 L278.04,266.16 L276.90,265.30 L275.75,264.45 L274.59,263.61 L273.41,262.79 L272.22,261.98 L271.02,261.18 L269.81,260.40 L268.59,259.63 L267.36,258.87 L266.13,258.12 L264.88,257.39 L263.64,256.66 L262.39,255.94 L261.13,255.23 L259.88,254.53 L258.61,253.84 L257.35,253.16 L256.07,252.49 L254.80,251.83 L253.52,251.18 L252.24,250.54 L250.95,249.91 L249.66,249.29 L248.36,248.67 L247.06,248.07 L245.76,247.48 L244.45,246.90 L243.14,246.33 L241.83,245.76 L240.51,245.21 L239.19,244.67 L237.87,244.14 L236.54,243.62 L235.21,243.11 L233.87,242.60 L232.53,242.11 L231.19,241.63 L229.85,241.16 L228.50,240.70 L227.15,240.25 L225.79,239.81 L224.43,239.38 L223.07,238.96 L221.71,238.55 L220.34,238.16 L218.97,237.77 L217.60,237.39 L216.23,237.02 L214.85,236.67 L213.47,236.32 L212.08,235.99 L210.70,235.66 L209.31,235.35Z" fill="#8e8a96" fill-opacity="0.22"/>
<path d="M206.62,232.75 L208.19,232.97 L209.77,233.20 L211.37,233.43 L212.98,233.66 L214.60,233.91 L216.22,234.16 L217.86,234.41 L219.51,234.67 L221.17,234.95 L222.83,235.22 L224.50,235.51 L226.18,235.81 L227.86,236.11 L229.55,236.43 L231.24,236.75 L232.93,237.09 L234.63,237.43 L236.34,237.79 L238.04,238.15 L239.74,238.53 L241.45,238.92 L243.16,239.32 L244.86,239.74 L246.56,240.16 L248.27,240.60 L249.97,241.06 L251.66,241.53 L253.35,242.01 L255.04,242.50 L256.73,243.01 L258.40,243.54 L260.07,244.08 L261.74,244.64 L263.39,245.21 L265.04,245.80 L266.68,246.41 L268.31,247.03 L269.93,247.68 L271.54,248.34 L273.14,249.01 L274.72,249.71 L276.29,250.42 L277.85,251.16 L279.40,251.91 L280.93,252.69 L282.44,253.48 L283.94,254.30 L285.43,255.13 L286.89,255.99 L288.34,256.87 L289.77,257.77 L291.18,258.69 L292.57,259.64 L293.94,260.61 L295.29,261.60 L296.62,262.61 L297.92,263.65 L299.21,264.72 L300.46,265.80 L301.70,266.92 L302.91,268.06 L304.09,269.22 L305.25,270.41 L306.38,271.63 L307.48,272.87 L308.56,274.13 L309.60,275.42 L310.62,276.74 L311.60,278.08 L312.55,279.45 L313.47,280.84 L314.35,282.25 L315.20,283.69 L316.01,285.15 L316.78,286.64 L317.52,288.15 L318.22,289.69 L318.88,291.24 L319.50,292.83 L320.08,294.43 L320.62,296.06 L321.12,297.71 L321.57,299.39 L321.98,301.09 L322.35,302.81 L322.66,304.56 L322.93,306.33 L323.16,308.12 L323.33,309.93 L305.68,309.85 L305.44,308.32 L305.17,306.82 L304.87,305.33 L304.53,303.87 L304.16,302.43 L303.77,301.01 L303.34,299.61 L302.88,298.22 L302.40,296.86 L301.88,295.52 L301.34,294.20 L300.77,292.90 L300.17,291.61 L299.54,290.35 L298.89,289.10 L298.21,287.88 L297.51,286.67 L296.78,285.48 L296.03,284.30 L295.25,283.15 L294.45,282.01 L293.63,280.89 L292.78,279.79 L291.91,278.70 L291.02,277.63 L290.11,276.58 L289.18,275.55 L288.22,274.53 L287.25,273.52 L286.26,272.53 L285.25,271.56 L284.22,270.61 L283.17,269.66 L282.11,268.74 L281.03,267.83 L279.93,266.93 L278.82,266.05 L277.69,265.18 L276.54,264.33 L275.38,263.49 L274.21,262.66 L273.02,261.85 L271.82,261.05 L270.61,260.26 L269.39,259.49 L268.15,258.73 L266.90,257.98 L265.64,257.25 L264.38,256.53 L263.10,255.81 L261.81,255.12 L260.51,254.43 L259.21,253.75 L257.90,253.09 L256.58,252.43 L255.25,251.79 L253.91,251.16 L252.57,250.54 L251.23,249.93 L249.88,249.33 L248.52,248.73 L247.16,248.15 L245.80,247.58 L244.44,247.02 L243.07,246.46 L241.70,245.92 L240.32,245.38 L238.95,244.86 L237.58,244.34 L236.20,243.83 L234.83,243.33 L233.45,242.83 L232.08,242.34 L230.71,241.86 L229.34,241.39 L227.97,240.93 L226.61,240.47 L225.25,240.01 L223.89,239.57 L222.54,239.13 L221.19,238.70 L219.85,238.27 L218.52,237.85 L217.19,237.43 L215.86,237.02 L214.55,236.61 L213.24,236.21 L211.94,235.82 L210.65,235.43Z" fill="#8e8a96" fill-opacity="0.22"/>
<path d="M206.60,231.24 L207.65,231.80 L208.70,232.36 L209.74,232.93 L210.79,233.52 L211.82,234.11 L212.86,234.71 L213.88,235.32 L214.91,235.93 L215.93,236.56 L216.95,237.19 L217.96,237.84 L218.97,238.49 L219.98,239.15 L220.98,239.82 L221.97,240.49 L222.96,241.18 L223.95,241.87 L224.93,242.57 L225.90,243.28 L226.88,244.00 L227.84,244.72 L228.80,245.46 L229.76,246.20 L230.70,246.95 L231.65,247.70 L232.59,248.47 L233.52,249.24 L234.44,250.02 L235.36,250.80 L236.28,251.60 L237.19,252.40 L238.09,253.21 L238.98,254.02 L239.87,254.85 L240.75,255.68 L241.63,256.51 L242.49,257.36 L243.35,258.21 L244.21,259.07 L245.05,259.93 L245.89,260.81 L246.72,261.68 L247.55,262.57 L248.36,263.46 L249.17,264.36 L249.97,265.27 L250.77,266.18 L251.55,267.10 L252.33,268.02 L253.10,268.95 L253.86,269.89 L254.61,270.83 L255.35,271.78 L256.09,272.73 L256.81,273.70 L257.53,274.66 L258.24,275.64 L258.94,276.61 L259.63,277.60 L260.31,278.59 L260.98,279.58 L261.64,280.59 L262.29,281.59 L262.93,282.60 L263.56,283.62 L264.19,284.65 L264.80,285.67 L265.40,286.71 L265.99,287.75 L266.58,288.79 L267.15,289.84 L267.71,290.89 L268.26,291.95 L268.80,293.02 L269.33,294.09 L269.84,295.16 L270.35,296.24 L270.84,297.32 L271.33,298.41 L271.80,299.50 L272.26,300.60 L272.71,301.70 L273.15,302.80 L273.58,303.91 L273.99,305.03 L274.39,306.15 L274.78,307.27 L275.16,308.39 L275.53,309.52 L268.92,309.56 L268.49,308.59 L268.05,307.62 L267.60,306.65 L267.14,305.69 L266.68,304.73 L266.21,303.77 L265.73,302.82 L265.25,301.87 L264.75,300.93 L264.26,299.99 L263.75,299.05 L263.24,298.12 L262.72,297.19 L262.20,296.27 L261.67,295.35 L261.13,294.43 L260.59,293.51 L260.04,292.60 L259.49,291.69 L258.92,290.79 L258.36,289.89 L257.79,288.99 L257.21,288.10 L256.62,287.21 L256.04,286.32 L255.44,285.44 L254.84,284.56 L254.24,283.68 L253.63,282.81 L253.01,281.94 L252.39,281.07 L251.76,280.21 L251.13,279.35 L250.50,278.49 L249.86,277.64 L249.21,276.78 L248.56,275.94 L247.91,275.09 L247.25,274.25 L246.59,273.41 L245.92,272.58 L245.25,271.74 L244.57,270.91 L243.89,270.09 L243.21,269.26 L242.52,268.44 L241.83,267.62 L241.14,266.81 L240.44,265.99 L239.74,265.18 L239.03,264.38 L238.32,263.57 L237.61,262.77 L236.89,261.97 L236.18,261.18 L235.45,260.38 L234.73,259.59 L234.00,258.80 L233.27,258.02 L232.54,257.23 L231.80,256.45 L231.06,255.67 L230.32,254.90 L229.58,254.12 L228.83,253.35 L228.08,252.59 L227.33,251.82 L226.58,251.06 L225.82,250.29 L225.06,249.53 L224.30,248.78 L223.54,248.02 L222.78,247.27 L222.01,246.52 L221.25,245.77 L220.48,245.03 L219.71,244.28 L218.94,243.54 L218.17,242.80 L217.40,242.07 L216.62,241.33 L215.85,240.60 L215.07,239.87 L214.29,239.14 L213.51,238.41 L212.73,237.68 L211.95,236.96 L211.17,236.24 L210.39,235.52Z" fill="#ec6a52" fill-opacity="0.46" stroke="#e05a48" stroke-opacity="0.55" stroke-width="0.5"/>
<path d="M210.70,235.43 L211.52,235.99 L212.30,236.58 L213.05,237.20 L213.75,237.85 L214.43,238.52 L215.07,239.22 L215.68,239.94 L216.27,240.67 L216.83,241.43 L217.37,242.20 L217.89,242.98 L218.39,243.78 L218.87,244.59 L219.35,245.41 L219.81,246.23 L220.27,247.06 L220.72,247.90 L221.16,248.74 L221.61,249.58 L222.05,250.42 L222.50,251.26 L222.96,252.09 L223.42,252.92 L223.90,253.75 L224.38,254.56 L224.86,255.38 L225.36,256.19 L225.86,256.99 L226.37,257.79 L226.88,258.59 L227.39,259.38 L227.92,260.17 L228.44,260.96 L228.97,261.75 L229.51,262.53 L230.04,263.31 L230.58,264.09 L231.12,264.87 L231.67,265.65 L232.21,266.43 L232.76,267.21 L233.30,267.99 L233.85,268.77 L234.40,269.55 L234.94,270.33 L235.48,271.11 L236.03,271.89 L236.57,272.68 L237.10,273.46 L237.64,274.25 L238.17,275.04 L238.70,275.84 L239.22,276.63 L239.74,277.43 L240.25,278.23 L240.75,279.04 L241.25,279.84 L241.74,280.65 L242.23,281.47 L242.70,282.29 L243.17,283.11 L243.63,283.93 L244.08,284.76 L244.52,285.60 L244.95,286.44 L245.37,287.28 L245.77,288.13 L246.17,288.98 L246.55,289.84 L246.92,290.70 L247.27,291.57 L247.62,292.44 L247.94,293.32 L248.26,294.21 L248.55,295.10 L248.83,296.00 L249.10,296.90 L249.35,297.81 L249.58,298.73 L249.79,299.66 L249.98,300.59 L250.16,301.53 L250.31,302.47 L250.45,303.43 L250.57,304.39 L250.66,305.36 L250.73,306.33 L250.79,307.32 L250.82,308.31" fill="none" stroke="#8c8c96" stroke-opacity="0.25" stroke-width="0.7"/>
<path d="M210.58,235.36 L211.94,235.61 L213.30,235.87 L214.67,236.14 L216.04,236.42 L217.42,236.71 L218.79,237.02 L220.17,237.34 L221.55,237.67 L222.94,238.02 L224.32,238.38 L225.71,238.74 L227.09,239.13 L228.47,239.52 L229.86,239.93 L231.24,240.35 L232.62,240.78 L234.00,241.23 L235.38,241.68 L236.76,242.16 L238.13,242.64 L239.50,243.14 L240.87,243.65 L242.23,244.17 L243.59,244.71 L244.94,245.26 L246.29,245.82 L247.63,246.39 L248.97,246.98 L250.30,247.58 L251.62,248.20 L252.94,248.83 L254.25,249.47 L255.55,250.13 L256.84,250.80 L258.13,251.48 L259.40,252.18 L260.67,252.89 L261.93,253.61 L263.17,254.35 L264.41,255.10 L265.63,255.87 L266.85,256.65 L268.05,257.44 L269.24,258.25 L270.42,259.07 L271.59,259.90 L272.74,260.75 L273.88,261.62 L275.00,262.50 L276.11,263.39 L277.21,264.29 L278.29,265.22 L279.36,266.15 L280.41,267.10 L281.44,268.06 L282.46,269.04 L283.46,270.04 L284.44,271.04 L285.40,272.07 L286.35,273.10 L287.28,274.16 L288.19,275.22 L289.08,276.30 L289.95,277.40 L290.80,278.51 L291.63,279.64 L292.44,280.78 L293.23,281.94 L293.99,283.11 L294.74,284.30 L295.46,285.50 L296.16,286.72 L296.84,287.95 L297.49,289.20 L298.12,290.46 L298.72,291.74 L299.30,293.03 L299.86,294.34 L300.39,295.67 L300.89,297.01 L301.37,298.36 L301.82,299.74 L302.25,301.12 L302.65,302.53 L303.01,303.95 L303.36,305.38 L303.67,306.83 L303.95,308.30 L304.21,309.78" fill="none" stroke="#8c8c96" stroke-opacity="0.25" stroke-width="0.7"/>
<path d="M210.56,235.28 L211.85,235.81 L213.13,236.35 L214.40,236.91 L215.66,237.47 L216.92,238.05 L218.18,238.63 L219.42,239.23 L220.67,239.82 L221.91,240.43 L223.15,241.04 L224.38,241.65 L225.61,242.27 L226.84,242.89 L228.08,243.50 L229.31,244.12 L230.54,244.74 L231.77,245.36 L233.01,245.97 L234.25,246.58 L235.49,247.18 L236.74,247.78 L237.99,248.37 L239.25,248.95 L240.52,249.53 L241.79,250.09 L243.06,250.65 L244.34,251.21 L245.62,251.76 L246.90,252.31 L248.18,252.86 L249.47,253.41 L250.75,253.96 L252.03,254.51 L253.31,255.07 L254.59,255.63 L255.86,256.20 L257.13,256.77 L258.39,257.35 L259.64,257.94 L260.89,258.55 L262.13,259.16 L263.36,259.79 L264.58,260.43 L265.80,261.08 L267.00,261.76 L268.18,262.45 L269.36,263.16 L270.52,263.89 L271.67,264.64 L272.80,265.42 L273.91,266.22 L275.01,267.04 L276.09,267.89 L277.15,268.76 L278.20,269.65 L279.23,270.56 L280.23,271.50 L281.22,272.45 L282.19,273.43 L283.15,274.43 L284.08,275.44 L284.99,276.48 L285.88,277.53 L286.75,278.60 L287.60,279.69 L288.42,280.79 L289.23,281.91 L290.01,283.05 L290.77,284.20 L291.51,285.37 L292.22,286.55 L292.91,287.75 L293.57,288.95 L294.22,290.17 L294.83,291.41 L295.42,292.65 L295.99,293.91 L296.53,295.17 L297.05,296.45 L297.53,297.73 L297.99,299.03 L298.43,300.33 L298.84,301.64 L299.21,302.96 L299.56,304.28 L299.89,305.62 L300.18,306.95 L300.44,308.30 L300.68,309.65" fill="none" stroke="#8c8c96" stroke-opacity="0.25" stroke-width="0.7"/>
<path d="M210.51,235.38 L211.97,235.67 L213.42,235.98 L214.87,236.30 L216.32,236.64 L217.75,236.99 L219.19,237.36 L220.62,237.74 L222.04,238.13 L223.46,238.54 L224.87,238.96 L226.28,239.40 L227.68,239.84 L229.08,240.30 L230.47,240.77 L231.86,241.26 L233.25,241.75 L234.63,242.26 L236.01,242.78 L237.38,243.31 L238.75,243.85 L240.11,244.41 L241.47,244.97 L242.82,245.54 L244.18,246.13 L245.52,246.72 L246.87,247.32 L248.21,247.94 L249.55,248.56 L250.88,249.19 L252.21,249.83 L253.53,250.48 L254.86,251.14 L256.18,251.80 L257.49,252.48 L258.81,253.16 L260.12,253.84 L261.42,254.54 L262.73,255.24 L264.03,255.95 L265.32,256.67 L266.62,257.39 L267.91,258.12 L269.20,258.86 L270.48,259.60 L271.76,260.35 L273.03,261.12 L274.30,261.89 L275.55,262.67 L276.80,263.47 L278.04,264.27 L279.26,265.10 L280.48,265.93 L281.68,266.78 L282.87,267.65 L284.04,268.53 L285.20,269.43 L286.34,270.34 L287.46,271.28 L288.57,272.23 L289.66,273.21 L290.73,274.20 L291.77,275.21 L292.80,276.25 L293.81,277.30 L294.79,278.37 L295.75,279.46 L296.68,280.57 L297.59,281.70 L298.47,282.85 L299.33,284.02 L300.16,285.21 L300.96,286.42 L301.73,287.64 L302.47,288.89 L303.18,290.15 L303.86,291.43 L304.51,292.73 L305.12,294.05 L305.70,295.39 L306.24,296.74 L306.75,298.12 L307.23,299.51 L307.66,300.92 L308.06,302.35 L308.42,303.79 L308.74,305.25 L309.02,306.74 L309.26,308.24 L309.45,309.75" fill="none" stroke="#8c8c96" stroke-opacity="0.25" stroke-width="0.7"/>
<path d="M210.61,235.44 L212.04,235.71 L213.48,235.98 L214.93,236.26 L216.38,236.55 L217.85,236.84 L219.32,237.13 L220.80,237.44 L222.29,237.75 L223.78,238.06 L225.28,238.39 L226.79,238.72 L228.30,239.06 L229.81,239.40 L231.33,239.76 L232.85,240.12 L234.37,240.49 L235.90,240.87 L237.43,241.26 L238.95,241.66 L240.48,242.07 L242.01,242.50 L243.53,242.93 L245.06,243.37 L246.58,243.82 L248.10,244.29 L249.62,244.77 L251.13,245.25 L252.64,245.76 L254.14,246.27 L255.64,246.80 L257.13,247.34 L258.62,247.89 L260.10,248.46 L261.57,249.05 L263.03,249.64 L264.49,250.25 L265.93,250.88 L267.37,251.52 L268.80,252.18 L270.21,252.86 L271.61,253.55 L273.01,254.26 L274.38,254.98 L275.75,255.72 L277.10,256.48 L278.44,257.26 L279.76,258.05 L281.07,258.87 L282.36,259.70 L283.64,260.55 L284.90,261.42 L286.14,262.31 L287.36,263.22 L288.56,264.15 L289.75,265.10 L290.91,266.07 L292.06,267.07 L293.18,268.08 L294.28,269.12 L295.36,270.17 L296.42,271.25 L297.46,272.36 L298.47,273.48 L299.45,274.63 L300.41,275.80 L301.35,276.99 L302.26,278.21 L303.13,279.45 L303.98,280.70 L304.80,281.98 L305.59,283.28 L306.34,284.60 L307.06,285.94 L307.75,287.30 L308.40,288.68 L309.02,290.07 L309.59,291.49 L310.13,292.92 L310.63,294.38 L311.09,295.84 L311.51,297.33 L311.89,298.84 L312.22,300.36 L312.51,301.90 L312.75,303.45 L312.95,305.02 L313.10,306.60 L313.20,308.21 L313.25,309.82" fill="none" stroke="#8c8c96" stroke-opacity="0.25" stroke-width="0.7"/>
<path d="M210.56,235.32 L211.48,235.95 L212.39,236.58 L213.29,237.22 L214.18,237.88 L215.06,238.54 L215.94,239.21 L216.81,239.88 L217.68,240.57 L218.54,241.26 L219.39,241.96 L220.24,242.67 L221.08,243.38 L221.92,244.10 L222.75,244.83 L223.58,245.56 L224.40,246.29 L225.22,247.04 L226.03,247.78 L226.84,248.53 L227.65,249.29 L228.46,250.04 L229.26,250.80 L230.05,251.57 L230.85,252.34 L231.64,253.11 L232.43,253.88 L233.21,254.66 L234.00,255.44 L234.78,256.22 L235.55,257.01 L236.33,257.80 L237.10,258.59 L237.86,259.39 L238.63,260.19 L239.39,260.99 L240.14,261.80 L240.90,262.61 L241.65,263.42 L242.39,264.24 L243.13,265.06 L243.87,265.88 L244.61,266.71 L245.34,267.53 L246.07,268.36 L246.80,269.20 L247.52,270.04 L248.23,270.88 L248.95,271.72 L249.66,272.57 L250.36,273.42 L251.06,274.28 L251.76,275.13 L252.45,275.99 L253.14,276.86 L253.82,277.73 L254.49,278.60 L255.16,279.47 L255.83,280.35 L256.49,281.23 L257.15,282.12 L257.79,283.01 L258.44,283.90 L259.08,284.80 L259.71,285.70 L260.33,286.60 L260.95,287.51 L261.56,288.43 L262.17,289.34 L262.77,290.26 L263.36,291.19 L263.95,292.12 L264.53,293.05 L265.10,293.99 L265.66,294.93 L266.22,295.87 L266.77,296.82 L267.31,297.77 L267.85,298.73 L268.37,299.69 L268.89,300.66 L269.40,301.63 L269.90,302.61 L270.40,303.59 L270.88,304.57 L271.36,305.56 L271.83,306.55 L272.29,307.55 L272.74,308.55 L273.18,309.56" fill="none" stroke="#a8182a" stroke-width="0.8"/>
</g>
<circle cx="216.7" cy="237.9" r="0.80" fill="#7a2a3a" fill-opacity="0.80"/>
<circle cx="222.6" cy="243.8" r="0.80" fill="#7a2a3a" fill-opacity="0.80"/>
<circle cx="222.6" cy="248.8" r="0.80" fill="#7a2a3a" fill-opacity="0.80"/>
<circle cx="228.5" cy="247.2" r="0.80" fill="#7a2a3a" fill-opacity="0.80"/>
<circle cx="228.5" cy="253.9" r="0.80" fill="#7a2a3a" fill-opacity="0.80"/>
<circle cx="234.4" cy="251.4" r="0.80" fill="#7a2a3a" fill-opacity="0.80"/>
<circle cx="234.4" cy="257.3" r="0.80" fill="#7a2a3a" fill-opacity="0.80"/>
<circle cx="239.5" cy="255.6" r="0.80" fill="#7a2a3a" fill-opacity="0.80"/>
<circle cx="239.5" cy="259.8" r="0.80" fill="#7a2a3a" fill-opacity="0.80"/>
<circle cx="245.4" cy="260.6" r="0.80" fill="#7a2a3a" fill-opacity="0.80"/>
<circle cx="245.4" cy="264.0" r="0.80" fill="#7a2a3a" fill-opacity="0.80"/>
<circle cx="245.4" cy="275.8" r="0.80" fill="#7a2a3a" fill-opacity="0.80"/>
<circle cx="251.2" cy="266.5" r="0.80" fill="#7a2a3a" fill-opacity="0.80"/>
<circle cx="251.2" cy="279.1" r="0.80" fill="#7a2a3a" fill-opacity="0.80"/>
<circle cx="251.2" cy="281.7" r="0.80" fill="#7a2a3a" fill-opacity="0.80"/>
<circle cx="257.1" cy="272.4" r="0.80" fill="#7a2a3a" fill-opacity="0.80"/>
<circle cx="257.1" cy="292.6" r="0.80" fill="#7a2a3a" fill-opacity="0.80"/>
<circle cx="263.0" cy="280.8" r="0.80" fill="#7a2a3a" fill-opacity="0.80"/>
<circle cx="263.0" cy="302.7" r="0.80" fill="#7a2a3a" fill-opacity="0.80"/>
<circle cx="268.9" cy="288.4" r="0.80" fill="#7a2a3a" fill-opacity="0.80"/>
<circle cx="274.8" cy="298.5" r="0.80" fill="#7a2a3a" fill-opacity="0.80"/>
<circle cx="240.0" cy="268.2" r="0.80" fill="#7a2a3a" fill-opacity="0.80"/>
<g stroke="#222" stroke-width="1.15" fill="none">
<path d="M210.50,232.90 V308.20 H336.70"/>
<path d="M210.50,308.20v1.80M235.30,308.20v1.80M260.10,308.20v1.80M284.90,308.20v1.80M309.70,308.20v1.80M334.50,308.20v1.80M210.50,235.40h-1.80M210.50,263.10h-1.80M210.50,290.80h-1.80M210.50,308.20h-1.80"/>
<path d="M212.98,308.20v1.30M215.46,308.20v1.30M217.94,308.20v1.30M220.42,308.20v1.30M222.90,308.20v1.30M225.38,308.20v1.30M227.86,308.20v1.30M230.34,308.20v1.30M232.82,308.20v1.30M237.78,308.20v1.30M240.26,308.20v1.30M242.74,308.20v1.30M245.22,308.20v1.30M247.70,308.20v1.30M250.18,308.20v1.30M252.66,308.20v1.30M255.14,308.20v1.30M257.62,308.20v1.30M262.58,308.20v1.30M265.06,308.20v1.30M267.54,308.20v1.30M270.02,308.20v1.30M272.50,308.20v1.30M274.98,308.20v1.30M277.46,308.20v1.30M279.94,308.20v1.30M282.42,308.20v1.30M287.38,308.20v1.30M289.86,308.20v1.30M292.34,308.20v1.30M294.82,308.20v1.30M297.30,308.20v1.30M299.78,308.20v1.30M302.26,308.20v1.30M304.74,308.20v1.30M307.22,308.20v1.30M312.18,308.20v1.30M314.66,308.20v1.30M317.14,308.20v1.30M319.62,308.20v1.30M322.10,308.20v1.30M324.58,308.20v1.30M327.06,308.20v1.30M329.54,308.20v1.30M332.02,308.20v1.30M210.50,236.64h-1.30M210.50,237.87h-1.30M210.50,239.30h-1.30M210.50,240.78h-1.30M210.50,242.63h-1.30M210.50,244.68h-1.30M210.50,247.16h-1.30M210.50,250.73h-1.30M210.50,255.44h-1.30M210.50,263.91h-1.30M210.50,264.91h-1.30M210.50,265.91h-1.30M210.50,266.91h-1.30M210.50,268.24h-1.30M210.50,269.95h-1.30M210.50,271.62h-1.30M210.50,273.62h-1.30M210.50,275.62h-1.30M210.50,277.95h-1.30M210.50,280.61h-1.30M210.50,282.99h-1.30" stroke-width="1.15"/>
</g>
<g font-family="Liberation Sans, sans-serif" font-size="7.4" fill="#2a2a2a" stroke="#2a2a2a" stroke-width="0.2" text-anchor="end">
<text x="206.00" y="237.95">1</text>
<text x="206.00" y="265.65">0.3</text>
<text x="206.00" y="293.35">0.1</text>
<text x="206.00" y="310.75">0.05</text>
</g>
<g font-family="Liberation Sans, sans-serif" font-size="7.4" fill="#2a2a2a" stroke="#2a2a2a" stroke-width="0.2" text-anchor="middle">
<text x="210.50" y="320.85">0</text>
<text x="235.30" y="320.85">30</text>
<text x="260.10" y="320.85">60</text>
<text x="284.90" y="320.85">90</text>
<text x="309.70" y="320.85">120</text>
<text x="334.50" y="320.85">150</text>
</g>
<text font-family="Liberation Sans, sans-serif" font-size="8.2" font-weight="bold" fill="#1a1a1a" x="-31.95" y="0" textLength="63.9" lengthAdjust="spacingAndGlyphs" transform="translate(187.10,269.75) rotate(-90)">Fractional RBC survival</text>
<text font-family="Liberation Sans, sans-serif" font-size="9" font-weight="bold" fill="#1a1a1a" x="267.80" y="333.10" textLength="13.1" lengthAdjust="spacingAndGlyphs">Days</text>
<text font-family="Liberation Sans, sans-serif" font-size="8.2" fill="#2a2a2a" stroke="#2a2a2a" stroke-width="0.08" x="236.60" y="227.40" textLength="74.2" lengthAdjust="spacing">β<tspan dy="-3.3" font-size="6.8">S</tspan><tspan dy="3.3">β</tspan><tspan dy="-3.3" font-size="6.8">C</tspan><tspan dy="3.3">/β</tspan><tspan dy="-3.3" font-size="6.8">S</tspan><tspan dy="3.3">β</tspan><tspan dy="-3.3" font-size="6.8">+</tspan><tspan dy="3.3"> (N = 3)</tspan></text>
<g clip-path="url(#cB20)">
<path d="M377.32,234.96 L378.26,234.79 L379.28,234.63 L380.36,234.47 L381.50,234.33 L382.68,234.20 L383.89,234.11 L385.14,234.04 L386.40,234.00 L387.66,234.00 L388.93,234.05 L390.18,234.14 L391.42,234.29 L392.62,234.49 L393.78,234.76 L394.90,235.10 L395.95,235.50 L396.94,235.99 L397.85,236.56 L398.67,237.21 L399.40,237.95 L400.04,238.77 L400.60,239.66 L401.08,240.61 L401.49,241.62 L401.84,242.66 L402.12,243.74 L402.36,244.85 L402.55,245.98 L402.71,247.12 L402.85,248.28 L402.97,249.45 L403.10,250.62 L403.23,251.78 L403.38,252.94 L403.56,254.09 L403.78,255.22 L404.04,256.33 L404.37,257.41 L404.76,258.45 L405.22,259.46 L405.76,260.44 L406.35,261.39 L407.00,262.31 L407.67,263.23 L408.37,264.13 L409.09,265.02 L409.80,265.92 L410.51,266.83 L411.19,267.74 L411.85,268.68 L412.49,269.62 L413.11,270.58 L413.71,271.54 L414.30,272.52 L414.88,273.50 L415.44,274.49 L416.00,275.48 L416.55,276.48 L417.09,277.48 L417.63,278.49 L418.17,279.49 L418.71,280.50 L419.25,281.50 L419.79,282.51 L420.34,283.51 L420.89,284.50 L421.45,285.50 L422.00,286.50 L422.56,287.49 L423.11,288.49 L423.66,289.48 L424.21,290.48 L424.75,291.48 L425.29,292.49 L425.81,293.49 L426.34,294.50 L426.85,295.52 L427.35,296.54 L427.84,297.56 L428.31,298.59 L428.77,299.63 L429.22,300.68 L429.65,301.73 L430.06,302.79 L430.46,303.86 L430.83,304.94 L431.19,306.03 L431.52,307.13 L431.83,308.24 L410.09,308.25 L410.18,307.30 L410.24,306.34 L410.28,305.39 L410.30,304.44 L410.30,303.49 L410.28,302.54 L410.25,301.59 L410.19,300.65 L410.11,299.71 L410.01,298.78 L409.89,297.84 L409.74,296.92 L409.58,295.99 L409.40,295.07 L409.20,294.16 L408.97,293.25 L408.73,292.35 L408.47,291.46 L408.18,290.57 L407.88,289.69 L407.55,288.82 L407.20,287.95 L406.83,287.10 L406.45,286.25 L406.04,285.41 L405.61,284.58 L405.16,283.76 L404.69,282.95 L404.21,282.15 L403.71,281.35 L403.20,280.56 L402.67,279.77 L402.14,278.99 L401.59,278.22 L401.04,277.45 L400.48,276.68 L399.92,275.91 L399.36,275.15 L398.79,274.39 L398.22,273.63 L397.65,272.87 L397.08,272.11 L396.51,271.36 L395.94,270.60 L395.37,269.85 L394.79,269.09 L394.22,268.34 L393.64,267.58 L393.07,266.83 L392.49,266.08 L391.92,265.33 L391.34,264.58 L390.76,263.83 L390.18,263.08 L389.59,262.33 L389.01,261.58 L388.42,260.82 L387.84,260.07 L387.27,259.32 L386.69,258.56 L386.13,257.80 L385.59,257.04 L385.05,256.27 L384.54,255.49 L384.05,254.70 L383.57,253.91 L383.13,253.10 L382.71,252.29 L382.33,251.46 L381.98,250.62 L381.67,249.77 L381.39,248.91 L381.15,248.03 L380.94,247.14 L380.77,246.24 L380.64,245.33 L380.54,244.41 L380.47,243.48 L380.42,242.54 L380.40,241.59 L380.40,240.64 L380.43,239.68 L380.47,238.72 L380.52,237.76 L380.58,236.80 L380.66,235.84 L380.74,234.88 L380.83,233.92 L380.91,232.97Z" fill="#8e8a96" fill-opacity="0.22"/>
<path d="M376.60,231.24 L377.65,231.80 L378.70,232.36 L379.74,232.93 L380.79,233.52 L381.82,234.11 L382.86,234.71 L383.88,235.32 L384.91,235.93 L385.93,236.56 L386.95,237.19 L387.96,237.84 L388.97,238.49 L389.98,239.15 L390.98,239.82 L391.97,240.49 L392.96,241.18 L393.95,241.87 L394.93,242.57 L395.90,243.28 L396.88,244.00 L397.84,244.72 L398.80,245.46 L399.76,246.20 L400.70,246.95 L401.65,247.70 L402.59,248.47 L403.52,249.24 L404.44,250.02 L405.36,250.80 L406.28,251.60 L407.19,252.40 L408.09,253.21 L408.98,254.02 L409.87,254.85 L410.75,255.68 L411.63,256.51 L412.49,257.36 L413.35,258.21 L414.21,259.07 L415.05,259.93 L415.89,260.81 L416.72,261.68 L417.55,262.57 L418.36,263.46 L419.17,264.36 L419.97,265.27 L420.77,266.18 L421.55,267.10 L422.33,268.02 L423.10,268.95 L423.86,269.89 L424.61,270.83 L425.35,271.78 L426.09,272.73 L426.81,273.70 L427.53,274.66 L428.24,275.64 L428.94,276.61 L429.63,277.60 L430.31,278.59 L430.98,279.58 L431.64,280.59 L432.29,281.59 L432.93,282.60 L433.56,283.62 L434.19,284.65 L434.80,285.67 L435.40,286.71 L435.99,287.75 L436.58,288.79 L437.15,289.84 L437.71,290.89 L438.26,291.95 L438.80,293.02 L439.33,294.09 L439.84,295.16 L440.35,296.24 L440.84,297.32 L441.33,298.41 L441.80,299.50 L442.26,300.60 L442.71,301.70 L443.15,302.80 L443.58,303.91 L443.99,305.03 L444.39,306.15 L444.78,307.27 L445.16,308.39 L445.53,309.52 L438.92,309.56 L438.49,308.59 L438.05,307.62 L437.60,306.65 L437.14,305.69 L436.68,304.73 L436.21,303.77 L435.73,302.82 L435.25,301.87 L434.75,300.93 L434.26,299.99 L433.75,299.05 L433.24,298.12 L432.72,297.19 L432.20,296.27 L431.67,295.35 L431.13,294.43 L430.59,293.51 L430.04,292.60 L429.49,291.69 L428.92,290.79 L428.36,289.89 L427.79,288.99 L427.21,288.10 L426.62,287.21 L426.04,286.32 L425.44,285.44 L424.84,284.56 L424.24,283.68 L423.63,282.81 L423.01,281.94 L422.39,281.07 L421.76,280.21 L421.13,279.35 L420.50,278.49 L419.86,277.64 L419.21,276.78 L418.56,275.94 L417.91,275.09 L417.25,274.25 L416.59,273.41 L415.92,272.58 L415.25,271.74 L414.57,270.91 L413.89,270.09 L413.21,269.26 L412.52,268.44 L411.83,267.62 L411.14,266.81 L410.44,265.99 L409.74,265.18 L409.03,264.38 L408.32,263.57 L407.61,262.77 L406.89,261.97 L406.18,261.18 L405.45,260.38 L404.73,259.59 L404.00,258.80 L403.27,258.02 L402.54,257.23 L401.80,256.45 L401.06,255.67 L400.32,254.90 L399.58,254.12 L398.83,253.35 L398.08,252.59 L397.33,251.82 L396.58,251.06 L395.82,250.29 L395.06,249.53 L394.30,248.78 L393.54,248.02 L392.78,247.27 L392.01,246.52 L391.25,245.77 L390.48,245.03 L389.71,244.28 L388.94,243.54 L388.17,242.80 L387.40,242.07 L386.62,241.33 L385.85,240.60 L385.07,239.87 L384.29,239.14 L383.51,238.41 L382.73,237.68 L381.95,236.96 L381.17,236.24 L380.39,235.52Z" fill="#8e8a96" fill-opacity="0.22"/>
<path d="M380.60,235.22 L381.88,235.82 L383.15,236.42 L384.43,237.03 L385.71,237.63 L386.98,238.23 L388.26,238.83 L389.54,239.43 L390.82,240.03 L392.10,240.63 L393.37,241.22 L394.66,241.82 L395.94,242.41 L397.22,243.00 L398.51,243.59 L399.80,244.17 L401.08,244.75 L402.38,245.33 L403.67,245.91 L404.97,246.48 L406.27,247.05 L407.57,247.61 L408.88,248.17 L410.19,248.73 L411.50,249.28 L412.82,249.83 L414.13,250.38 L415.45,250.92 L416.78,251.46 L418.10,252.01 L419.42,252.56 L420.74,253.10 L422.05,253.65 L423.37,254.21 L424.68,254.77 L425.99,255.34 L427.30,255.91 L428.59,256.49 L429.89,257.08 L431.18,257.69 L432.46,258.30 L433.73,258.92 L434.99,259.56 L436.25,260.21 L437.49,260.87 L438.73,261.55 L439.95,262.25 L441.16,262.96 L442.36,263.69 L443.55,264.45 L444.72,265.22 L445.88,266.01 L447.03,266.83 L448.16,267.67 L449.27,268.52 L450.37,269.40 L451.45,270.31 L452.51,271.23 L453.55,272.17 L454.58,273.13 L455.58,274.11 L456.57,275.11 L457.54,276.13 L458.48,277.17 L459.41,278.22 L460.31,279.30 L461.20,280.39 L462.06,281.50 L462.89,282.63 L463.71,283.77 L464.50,284.93 L465.26,286.11 L466.00,287.30 L466.71,288.51 L467.40,289.73 L468.06,290.97 L468.70,292.22 L469.31,293.49 L469.89,294.77 L470.44,296.07 L470.96,297.38 L471.45,298.70 L471.91,300.04 L472.35,301.38 L472.75,302.74 L473.12,304.12 L473.45,305.50 L473.76,306.89 L474.03,308.30 L474.27,309.72 L466.59,309.70 L466.39,308.36 L466.16,307.03 L465.90,305.70 L465.61,304.38 L465.30,303.07 L464.96,301.77 L464.59,300.47 L464.19,299.19 L463.77,297.91 L463.32,296.65 L462.84,295.39 L462.34,294.15 L461.81,292.92 L461.26,291.70 L460.69,290.49 L460.09,289.29 L459.46,288.11 L458.82,286.93 L458.15,285.78 L457.46,284.63 L456.74,283.50 L456.00,282.39 L455.25,281.28 L454.47,280.20 L453.67,279.13 L452.85,278.07 L452.00,277.04 L451.14,276.01 L450.26,275.01 L449.36,274.02 L448.45,273.05 L447.51,272.10 L446.55,271.17 L445.58,270.25 L444.59,269.35 L443.58,268.48 L442.56,267.62 L441.52,266.79 L440.47,265.97 L439.39,265.18 L438.31,264.40 L437.21,263.65 L436.09,262.91 L434.97,262.19 L433.83,261.49 L432.68,260.80 L431.52,260.13 L430.35,259.47 L429.16,258.82 L427.97,258.19 L426.78,257.57 L425.57,256.96 L424.36,256.36 L423.14,255.76 L421.92,255.18 L420.69,254.60 L419.46,254.02 L418.23,253.45 L416.99,252.89 L415.75,252.32 L414.51,251.76 L413.28,251.21 L412.04,250.65 L410.80,250.09 L409.56,249.53 L408.33,248.97 L407.09,248.40 L405.87,247.83 L404.64,247.26 L403.42,246.68 L402.20,246.10 L400.98,245.52 L399.77,244.93 L398.56,244.34 L397.35,243.75 L396.14,243.15 L394.94,242.56 L393.74,241.96 L392.54,241.35 L391.34,240.75 L390.14,240.14 L388.94,239.53 L387.75,238.92 L386.56,238.31 L385.36,237.69 L384.17,237.08 L382.98,236.46 L381.79,235.84 L380.61,235.22Z" fill="#8e8a96" fill-opacity="0.22"/>
<path d="M381.82,235.31 L383.26,235.66 L384.70,236.02 L386.13,236.40 L387.57,236.78 L389.00,237.17 L390.44,237.56 L391.87,237.97 L393.30,238.39 L394.73,238.82 L396.16,239.26 L397.59,239.71 L399.01,240.16 L400.44,240.63 L401.86,241.11 L403.28,241.59 L404.70,242.09 L406.11,242.60 L407.53,243.11 L408.94,243.63 L410.35,244.17 L411.75,244.71 L413.15,245.27 L414.55,245.83 L415.95,246.40 L417.34,246.98 L418.73,247.58 L420.12,248.18 L421.50,248.79 L422.88,249.41 L424.25,250.04 L425.62,250.68 L426.99,251.32 L428.35,251.98 L429.71,252.65 L431.06,253.33 L432.41,254.01 L433.75,254.71 L435.09,255.42 L436.43,256.13 L437.75,256.86 L439.08,257.59 L440.39,258.33 L441.70,259.09 L443.01,259.85 L444.30,260.63 L445.59,261.41 L446.87,262.21 L448.14,263.02 L449.41,263.84 L450.66,264.67 L451.90,265.52 L453.13,266.37 L454.34,267.24 L455.55,268.13 L456.74,269.03 L457.92,269.94 L459.09,270.87 L460.24,271.81 L461.38,272.77 L462.50,273.74 L463.60,274.73 L464.69,275.73 L465.76,276.75 L466.81,277.79 L467.85,278.84 L468.86,279.91 L469.85,281.00 L470.83,282.10 L471.78,283.22 L472.70,284.36 L473.61,285.52 L474.49,286.70 L475.35,287.89 L476.18,289.11 L476.99,290.34 L477.76,291.59 L478.52,292.86 L479.24,294.16 L479.94,295.47 L480.60,296.80 L481.24,298.15 L481.85,299.53 L482.42,300.92 L482.97,302.34 L483.48,303.78 L483.95,305.24 L484.40,306.72 L484.80,308.23 L485.18,309.76 L469.28,309.89 L469.47,308.33 L469.59,306.79 L469.66,305.27 L469.68,303.78 L469.63,302.30 L469.54,300.84 L469.39,299.40 L469.19,297.98 L468.95,296.58 L468.65,295.20 L468.31,293.84 L467.92,292.50 L467.48,291.18 L467.01,289.88 L466.49,288.60 L465.93,287.34 L465.33,286.09 L464.69,284.87 L464.01,283.67 L463.30,282.48 L462.55,281.32 L461.77,280.17 L460.96,279.05 L460.12,277.94 L459.25,276.86 L458.35,275.79 L457.42,274.74 L456.46,273.71 L455.48,272.70 L454.48,271.72 L453.46,270.75 L452.41,269.79 L451.35,268.86 L450.26,267.95 L449.16,267.05 L448.04,266.16 L446.90,265.30 L445.75,264.45 L444.59,263.61 L443.41,262.79 L442.22,261.98 L441.02,261.18 L439.81,260.40 L438.59,259.63 L437.36,258.87 L436.13,258.12 L434.88,257.39 L433.64,256.66 L432.39,255.94 L431.13,255.23 L429.88,254.53 L428.61,253.84 L427.35,253.16 L426.07,252.49 L424.80,251.83 L423.52,251.18 L422.24,250.54 L420.95,249.91 L419.66,249.29 L418.36,248.67 L417.06,248.07 L415.76,247.48 L414.45,246.90 L413.14,246.33 L411.83,245.76 L410.51,245.21 L409.19,244.67 L407.87,244.14 L406.54,243.62 L405.21,243.11 L403.87,242.60 L402.53,242.11 L401.19,241.63 L399.85,241.16 L398.50,240.70 L397.15,240.25 L395.79,239.81 L394.43,239.38 L393.07,238.96 L391.71,238.55 L390.34,238.16 L388.97,237.77 L387.60,237.39 L386.23,237.02 L384.85,236.67 L383.47,236.32 L382.08,235.99 L380.70,235.66 L379.31,235.35Z" fill="#8e8a96" fill-opacity="0.22"/>
<path d="M376.62,232.75 L378.19,232.97 L379.77,233.20 L381.37,233.43 L382.98,233.66 L384.60,233.91 L386.22,234.16 L387.86,234.41 L389.51,234.67 L391.17,234.95 L392.83,235.22 L394.50,235.51 L396.18,235.81 L397.86,236.11 L399.55,236.43 L401.24,236.75 L402.93,237.09 L404.63,237.43 L406.34,237.79 L408.04,238.15 L409.74,238.53 L411.45,238.92 L413.16,239.32 L414.86,239.74 L416.56,240.16 L418.27,240.60 L419.97,241.06 L421.66,241.53 L423.35,242.01 L425.04,242.50 L426.73,243.01 L428.40,243.54 L430.07,244.08 L431.74,244.64 L433.39,245.21 L435.04,245.80 L436.68,246.41 L438.31,247.03 L439.93,247.68 L441.54,248.34 L443.14,249.01 L444.72,249.71 L446.29,250.42 L447.85,251.16 L449.40,251.91 L450.93,252.69 L452.44,253.48 L453.94,254.30 L455.43,255.13 L456.89,255.99 L458.34,256.87 L459.77,257.77 L461.18,258.69 L462.57,259.64 L463.94,260.61 L465.29,261.60 L466.62,262.61 L467.92,263.65 L469.21,264.72 L470.46,265.80 L471.70,266.92 L472.91,268.06 L474.09,269.22 L475.25,270.41 L476.38,271.63 L477.48,272.87 L478.56,274.13 L479.60,275.42 L480.62,276.74 L481.60,278.08 L482.55,279.45 L483.47,280.84 L484.35,282.25 L485.20,283.69 L486.01,285.15 L486.78,286.64 L487.52,288.15 L488.22,289.69 L488.88,291.24 L489.50,292.83 L490.08,294.43 L490.62,296.06 L491.12,297.71 L491.57,299.39 L491.98,301.09 L492.35,302.81 L492.66,304.56 L492.93,306.33 L493.16,308.12 L493.33,309.93 L475.68,309.85 L475.44,308.32 L475.17,306.82 L474.87,305.33 L474.53,303.87 L474.16,302.43 L473.77,301.01 L473.34,299.61 L472.88,298.22 L472.40,296.86 L471.88,295.52 L471.34,294.20 L470.77,292.90 L470.17,291.61 L469.54,290.35 L468.89,289.10 L468.21,287.88 L467.51,286.67 L466.78,285.48 L466.03,284.30 L465.25,283.15 L464.45,282.01 L463.63,280.89 L462.78,279.79 L461.91,278.70 L461.02,277.63 L460.11,276.58 L459.18,275.55 L458.22,274.53 L457.25,273.52 L456.26,272.53 L455.25,271.56 L454.22,270.61 L453.17,269.66 L452.11,268.74 L451.03,267.83 L449.93,266.93 L448.82,266.05 L447.69,265.18 L446.54,264.33 L445.38,263.49 L444.21,262.66 L443.02,261.85 L441.82,261.05 L440.61,260.26 L439.39,259.49 L438.15,258.73 L436.90,257.98 L435.64,257.25 L434.38,256.53 L433.10,255.81 L431.81,255.12 L430.51,254.43 L429.21,253.75 L427.90,253.09 L426.58,252.43 L425.25,251.79 L423.91,251.16 L422.57,250.54 L421.23,249.93 L419.88,249.33 L418.52,248.73 L417.16,248.15 L415.80,247.58 L414.44,247.02 L413.07,246.46 L411.70,245.92 L410.32,245.38 L408.95,244.86 L407.58,244.34 L406.20,243.83 L404.83,243.33 L403.45,242.83 L402.08,242.34 L400.71,241.86 L399.34,241.39 L397.97,240.93 L396.61,240.47 L395.25,240.01 L393.89,239.57 L392.54,239.13 L391.19,238.70 L389.85,238.27 L388.52,237.85 L387.19,237.43 L385.86,237.02 L384.55,236.61 L383.24,236.21 L381.94,235.82 L380.65,235.43Z" fill="#8e8a96" fill-opacity="0.22"/>
<path d="M376.31,234.08 L377.94,234.15 L379.56,234.24 L381.19,234.35 L382.81,234.48 L384.43,234.63 L386.05,234.80 L387.66,234.99 L389.28,235.20 L390.89,235.43 L392.49,235.69 L394.10,235.96 L395.70,236.25 L397.29,236.56 L398.89,236.89 L400.47,237.24 L402.06,237.61 L403.64,237.99 L405.21,238.40 L406.78,238.83 L408.34,239.27 L409.90,239.73 L411.45,240.21 L413.00,240.71 L414.54,241.23 L416.07,241.77 L417.59,242.33 L419.11,242.90 L420.62,243.49 L422.13,244.10 L423.62,244.73 L425.11,245.37 L426.59,246.04 L428.06,246.72 L429.52,247.41 L430.97,248.13 L432.42,248.86 L433.85,249.61 L435.28,250.38 L436.69,251.16 L438.10,251.96 L439.49,252.78 L440.87,253.61 L442.25,254.46 L443.61,255.32 L444.96,256.21 L446.29,257.11 L447.62,258.02 L448.94,258.95 L450.24,259.90 L451.53,260.86 L452.80,261.84 L454.07,262.83 L455.32,263.84 L456.56,264.87 L457.78,265.91 L458.99,266.96 L460.18,268.03 L461.36,269.12 L462.53,270.22 L463.68,271.33 L464.82,272.46 L465.94,273.61 L467.04,274.77 L468.13,275.94 L469.21,277.13 L470.26,278.33 L471.30,279.54 L472.33,280.77 L473.33,282.02 L474.32,283.27 L475.30,284.55 L476.25,285.83 L477.19,287.13 L478.10,288.44 L479.00,289.76 L479.88,291.10 L480.75,292.45 L481.59,293.82 L482.41,295.19 L483.22,296.58 L484.00,297.99 L484.76,299.40 L485.51,300.83 L486.23,302.27 L486.93,303.72 L487.61,305.18 L488.27,306.66 L488.91,308.15 L489.53,309.65 L453.87,309.75 L453.96,308.43 L454.03,307.11 L454.07,305.80 L454.08,304.49 L454.06,303.19 L454.01,301.89 L453.93,300.59 L453.83,299.30 L453.69,298.02 L453.53,296.74 L453.34,295.46 L453.12,294.20 L452.88,292.94 L452.60,291.69 L452.30,290.45 L451.98,289.22 L451.62,288.00 L451.24,286.79 L450.84,285.59 L450.40,284.40 L449.95,283.23 L449.46,282.06 L448.95,280.91 L448.42,279.77 L447.86,278.64 L447.27,277.53 L446.66,276.44 L446.03,275.35 L445.37,274.29 L444.69,273.24 L443.98,272.20 L443.25,271.19 L442.50,270.19 L441.73,269.21 L440.93,268.24 L440.10,267.30 L439.26,266.38 L438.39,265.47 L437.50,264.59 L436.59,263.73 L435.66,262.89 L434.71,262.06 L433.73,261.26 L432.74,260.48 L431.73,259.71 L430.71,258.96 L429.67,258.23 L428.61,257.51 L427.53,256.81 L426.45,256.13 L425.35,255.45 L424.23,254.80 L423.11,254.15 L421.97,253.52 L420.83,252.90 L419.67,252.29 L418.51,251.69 L417.34,251.10 L416.16,250.52 L414.97,249.96 L413.78,249.39 L412.59,248.84 L411.39,248.29 L410.19,247.75 L408.99,247.22 L407.78,246.69 L406.58,246.17 L405.37,245.65 L404.17,245.13 L402.96,244.62 L401.76,244.10 L400.57,243.59 L399.37,243.09 L398.18,242.58 L396.99,242.08 L395.80,241.58 L394.62,241.08 L393.44,240.58 L392.26,240.09 L391.09,239.59 L389.92,239.10 L388.75,238.61 L387.59,238.12 L386.43,237.64 L385.27,237.15 L384.12,236.67 L382.97,236.19 L381.83,235.71 L380.69,235.23Z" fill="#ec6a52" fill-opacity="0.46" stroke="#e05a48" stroke-opacity="0.55" stroke-width="0.5"/>
<path d="M380.70,235.43 L381.52,235.99 L382.30,236.58 L383.05,237.20 L383.75,237.85 L384.43,238.52 L385.07,239.22 L385.68,239.94 L386.27,240.67 L386.83,241.43 L387.37,242.20 L387.89,242.98 L388.39,243.78 L388.87,244.59 L389.35,245.41 L389.81,246.23 L390.27,247.06 L390.72,247.90 L391.16,248.74 L391.61,249.58 L392.05,250.42 L392.50,251.26 L392.96,252.09 L393.42,252.92 L393.90,253.75 L394.38,254.56 L394.86,255.38 L395.36,256.19 L395.86,256.99 L396.37,257.79 L396.88,258.59 L397.39,259.38 L397.92,260.17 L398.44,260.96 L398.97,261.75 L399.51,262.53 L400.04,263.31 L400.58,264.09 L401.12,264.87 L401.67,265.65 L402.21,266.43 L402.76,267.21 L403.30,267.99 L403.85,268.77 L404.40,269.55 L404.94,270.33 L405.48,271.11 L406.03,271.89 L406.57,272.68 L407.10,273.46 L407.64,274.25 L408.17,275.04 L408.70,275.84 L409.22,276.63 L409.74,277.43 L410.25,278.23 L410.75,279.04 L411.25,279.84 L411.74,280.65 L412.23,281.47 L412.70,282.29 L413.17,283.11 L413.63,283.93 L414.08,284.76 L414.52,285.60 L414.95,286.44 L415.37,287.28 L415.77,288.13 L416.17,288.98 L416.55,289.84 L416.92,290.70 L417.27,291.57 L417.62,292.44 L417.94,293.32 L418.26,294.21 L418.55,295.10 L418.83,296.00 L419.10,296.90 L419.35,297.81 L419.58,298.73 L419.79,299.66 L419.98,300.59 L420.16,301.53 L420.31,302.47 L420.45,303.43 L420.57,304.39 L420.66,305.36 L420.73,306.33 L420.79,307.32 L420.82,308.31" fill="none" stroke="#8c8c96" stroke-opacity="0.25" stroke-width="0.7"/>
<path d="M380.56,235.32 L381.48,235.95 L382.39,236.58 L383.29,237.22 L384.18,237.88 L385.06,238.54 L385.94,239.21 L386.81,239.88 L387.68,240.57 L388.54,241.26 L389.39,241.96 L390.24,242.67 L391.08,243.38 L391.92,244.10 L392.75,244.83 L393.58,245.56 L394.40,246.29 L395.22,247.04 L396.03,247.78 L396.84,248.53 L397.65,249.29 L398.46,250.04 L399.26,250.80 L400.05,251.57 L400.85,252.34 L401.64,253.11 L402.43,253.88 L403.21,254.66 L404.00,255.44 L404.78,256.22 L405.55,257.01 L406.33,257.80 L407.10,258.59 L407.86,259.39 L408.63,260.19 L409.39,260.99 L410.14,261.80 L410.90,262.61 L411.65,263.42 L412.39,264.24 L413.13,265.06 L413.87,265.88 L414.61,266.71 L415.34,267.53 L416.07,268.36 L416.80,269.20 L417.52,270.04 L418.23,270.88 L418.95,271.72 L419.66,272.57 L420.36,273.42 L421.06,274.28 L421.76,275.13 L422.45,275.99 L423.14,276.86 L423.82,277.73 L424.49,278.60 L425.16,279.47 L425.83,280.35 L426.49,281.23 L427.15,282.12 L427.79,283.01 L428.44,283.90 L429.08,284.80 L429.71,285.70 L430.33,286.60 L430.95,287.51 L431.56,288.43 L432.17,289.34 L432.77,290.26 L433.36,291.19 L433.95,292.12 L434.53,293.05 L435.10,293.99 L435.66,294.93 L436.22,295.87 L436.77,296.82 L437.31,297.77 L437.85,298.73 L438.37,299.69 L438.89,300.66 L439.40,301.63 L439.90,302.61 L440.40,303.59 L440.88,304.57 L441.36,305.56 L441.83,306.55 L442.29,307.55 L442.74,308.55 L443.18,309.56" fill="none" stroke="#8c8c96" stroke-opacity="0.25" stroke-width="0.7"/>
<path d="M380.56,235.28 L381.85,235.81 L383.13,236.35 L384.40,236.91 L385.66,237.47 L386.92,238.05 L388.18,238.63 L389.42,239.23 L390.67,239.82 L391.91,240.43 L393.15,241.04 L394.38,241.65 L395.61,242.27 L396.84,242.89 L398.08,243.50 L399.31,244.12 L400.54,244.74 L401.77,245.36 L403.01,245.97 L404.25,246.58 L405.49,247.18 L406.74,247.78 L407.99,248.37 L409.25,248.95 L410.52,249.53 L411.79,250.09 L413.06,250.65 L414.34,251.21 L415.62,251.76 L416.90,252.31 L418.18,252.86 L419.47,253.41 L420.75,253.96 L422.03,254.51 L423.31,255.07 L424.59,255.63 L425.86,256.20 L427.13,256.77 L428.39,257.35 L429.64,257.94 L430.89,258.55 L432.13,259.16 L433.36,259.79 L434.58,260.43 L435.80,261.08 L437.00,261.76 L438.18,262.45 L439.36,263.16 L440.52,263.89 L441.67,264.64 L442.80,265.42 L443.91,266.22 L445.01,267.04 L446.09,267.89 L447.15,268.76 L448.20,269.65 L449.23,270.56 L450.23,271.50 L451.22,272.45 L452.19,273.43 L453.15,274.43 L454.08,275.44 L454.99,276.48 L455.88,277.53 L456.75,278.60 L457.60,279.69 L458.42,280.79 L459.23,281.91 L460.01,283.05 L460.77,284.20 L461.51,285.37 L462.22,286.55 L462.91,287.75 L463.57,288.95 L464.22,290.17 L464.83,291.41 L465.42,292.65 L465.99,293.91 L466.53,295.17 L467.05,296.45 L467.53,297.73 L467.99,299.03 L468.43,300.33 L468.84,301.64 L469.21,302.96 L469.56,304.28 L469.89,305.62 L470.18,306.95 L470.44,308.30 L470.68,309.65" fill="none" stroke="#8c8c96" stroke-opacity="0.25" stroke-width="0.7"/>
<path d="M380.51,235.38 L381.97,235.67 L383.42,235.98 L384.87,236.30 L386.32,236.64 L387.75,236.99 L389.19,237.36 L390.62,237.74 L392.04,238.13 L393.46,238.54 L394.87,238.96 L396.28,239.40 L397.68,239.84 L399.08,240.30 L400.47,240.77 L401.86,241.26 L403.25,241.75 L404.63,242.26 L406.01,242.78 L407.38,243.31 L408.75,243.85 L410.11,244.41 L411.47,244.97 L412.82,245.54 L414.18,246.13 L415.52,246.72 L416.87,247.32 L418.21,247.94 L419.55,248.56 L420.88,249.19 L422.21,249.83 L423.53,250.48 L424.86,251.14 L426.18,251.80 L427.49,252.48 L428.81,253.16 L430.12,253.84 L431.42,254.54 L432.73,255.24 L434.03,255.95 L435.32,256.67 L436.62,257.39 L437.91,258.12 L439.20,258.86 L440.48,259.60 L441.76,260.35 L443.03,261.12 L444.30,261.89 L445.55,262.67 L446.80,263.47 L448.04,264.27 L449.26,265.10 L450.48,265.93 L451.68,266.78 L452.87,267.65 L454.04,268.53 L455.20,269.43 L456.34,270.34 L457.46,271.28 L458.57,272.23 L459.66,273.21 L460.73,274.20 L461.77,275.21 L462.80,276.25 L463.81,277.30 L464.79,278.37 L465.75,279.46 L466.68,280.57 L467.59,281.70 L468.47,282.85 L469.33,284.02 L470.16,285.21 L470.96,286.42 L471.73,287.64 L472.47,288.89 L473.18,290.15 L473.86,291.43 L474.51,292.73 L475.12,294.05 L475.70,295.39 L476.24,296.74 L476.75,298.12 L477.23,299.51 L477.66,300.92 L478.06,302.35 L478.42,303.79 L478.74,305.25 L479.02,306.74 L479.26,308.24 L479.45,309.75" fill="none" stroke="#8c8c96" stroke-opacity="0.25" stroke-width="0.7"/>
<path d="M380.61,235.44 L382.04,235.71 L383.48,235.98 L384.93,236.26 L386.38,236.55 L387.85,236.84 L389.32,237.13 L390.80,237.44 L392.29,237.75 L393.78,238.06 L395.28,238.39 L396.79,238.72 L398.30,239.06 L399.81,239.40 L401.33,239.76 L402.85,240.12 L404.37,240.49 L405.90,240.87 L407.43,241.26 L408.95,241.66 L410.48,242.07 L412.01,242.50 L413.53,242.93 L415.06,243.37 L416.58,243.82 L418.10,244.29 L419.62,244.77 L421.13,245.25 L422.64,245.76 L424.14,246.27 L425.64,246.80 L427.13,247.34 L428.62,247.89 L430.10,248.46 L431.57,249.05 L433.03,249.64 L434.49,250.25 L435.93,250.88 L437.37,251.52 L438.80,252.18 L440.21,252.86 L441.61,253.55 L443.01,254.26 L444.38,254.98 L445.75,255.72 L447.10,256.48 L448.44,257.26 L449.76,258.05 L451.07,258.87 L452.36,259.70 L453.64,260.55 L454.90,261.42 L456.14,262.31 L457.36,263.22 L458.56,264.15 L459.75,265.10 L460.91,266.07 L462.06,267.07 L463.18,268.08 L464.28,269.12 L465.36,270.17 L466.42,271.25 L467.46,272.36 L468.47,273.48 L469.45,274.63 L470.41,275.80 L471.35,276.99 L472.26,278.21 L473.13,279.45 L473.98,280.70 L474.80,281.98 L475.59,283.28 L476.34,284.60 L477.06,285.94 L477.75,287.30 L478.40,288.68 L479.02,290.07 L479.59,291.49 L480.13,292.92 L480.63,294.38 L481.09,295.84 L481.51,297.33 L481.89,298.84 L482.22,300.36 L482.51,301.90 L482.75,303.45 L482.95,305.02 L483.10,306.60 L483.20,308.21 L483.25,309.82" fill="none" stroke="#8c8c96" stroke-opacity="0.25" stroke-width="0.7"/>
<path d="M380.58,235.36 L381.94,235.61 L383.30,235.87 L384.67,236.14 L386.04,236.42 L387.42,236.71 L388.79,237.02 L390.17,237.34 L391.55,237.67 L392.94,238.02 L394.32,238.38 L395.71,238.74 L397.09,239.13 L398.47,239.52 L399.86,239.93 L401.24,240.35 L402.62,240.78 L404.00,241.23 L405.38,241.68 L406.76,242.16 L408.13,242.64 L409.50,243.14 L410.87,243.65 L412.23,244.17 L413.59,244.71 L414.94,245.26 L416.29,245.82 L417.63,246.39 L418.97,246.98 L420.30,247.58 L421.62,248.20 L422.94,248.83 L424.25,249.47 L425.55,250.13 L426.84,250.80 L428.13,251.48 L429.40,252.18 L430.67,252.89 L431.93,253.61 L433.17,254.35 L434.41,255.10 L435.63,255.87 L436.85,256.65 L438.05,257.44 L439.24,258.25 L440.42,259.07 L441.59,259.90 L442.74,260.75 L443.88,261.62 L445.00,262.50 L446.11,263.39 L447.21,264.29 L448.29,265.22 L449.36,266.15 L450.41,267.10 L451.44,268.06 L452.46,269.04 L453.46,270.04 L454.44,271.04 L455.40,272.07 L456.35,273.10 L457.28,274.16 L458.19,275.22 L459.08,276.30 L459.95,277.40 L460.80,278.51 L461.63,279.64 L462.44,280.78 L463.23,281.94 L463.99,283.11 L464.74,284.30 L465.46,285.50 L466.16,286.72 L466.84,287.95 L467.49,289.20 L468.12,290.46 L468.72,291.74 L469.30,293.03 L469.86,294.34 L470.39,295.67 L470.89,297.01 L471.37,298.36 L471.82,299.74 L472.25,301.12 L472.65,302.53 L473.01,303.95 L473.36,305.38 L473.67,306.83 L473.95,308.30 L474.21,309.78" fill="none" stroke="#a8182a" stroke-width="0.8"/>
</g>
<circle cx="392.7" cy="246.3" r="0.80" fill="#7a2a3a" fill-opacity="0.80"/>
<circle cx="398.5" cy="254.4" r="0.80" fill="#7a2a3a" fill-opacity="0.80"/>
<circle cx="410.0" cy="244.7" r="0.80" fill="#7a2a3a" fill-opacity="0.80"/>
<circle cx="410.0" cy="260.2" r="0.80" fill="#7a2a3a" fill-opacity="0.80"/>
<circle cx="421.1" cy="250.5" r="0.80" fill="#7a2a3a" fill-opacity="0.80"/>
<circle cx="421.1" cy="253.2" r="0.80" fill="#7a2a3a" fill-opacity="0.80"/>
<circle cx="421.1" cy="264.8" r="0.80" fill="#7a2a3a" fill-opacity="0.80"/>
<circle cx="432.7" cy="252.8" r="0.80" fill="#7a2a3a" fill-opacity="0.80"/>
<circle cx="432.7" cy="257.9" r="0.80" fill="#7a2a3a" fill-opacity="0.80"/>
<circle cx="432.7" cy="272.4" r="0.80" fill="#7a2a3a" fill-opacity="0.80"/>
<circle cx="444.2" cy="260.9" r="0.80" fill="#7a2a3a" fill-opacity="0.80"/>
<circle cx="444.2" cy="265.5" r="0.80" fill="#7a2a3a" fill-opacity="0.80"/>
<circle cx="444.2" cy="279.3" r="0.80" fill="#7a2a3a" fill-opacity="0.80"/>
<circle cx="456.2" cy="268.5" r="0.80" fill="#7a2a3a" fill-opacity="0.80"/>
<circle cx="456.2" cy="272.4" r="0.80" fill="#7a2a3a" fill-opacity="0.80"/>
<circle cx="456.2" cy="287.9" r="0.80" fill="#7a2a3a" fill-opacity="0.80"/>
<circle cx="467.3" cy="284.7" r="0.80" fill="#7a2a3a" fill-opacity="0.80"/>
<g stroke="#222" stroke-width="1.15" fill="none">
<path d="M380.50,232.90 V308.20 H506.70"/>
<path d="M380.50,308.20v1.80M405.30,308.20v1.80M430.10,308.20v1.80M454.90,308.20v1.80M479.70,308.20v1.80M504.50,308.20v1.80M380.50,235.40h-1.80M380.50,263.10h-1.80M380.50,290.80h-1.80M380.50,308.20h-1.80"/>
<path d="M382.98,308.20v1.30M385.46,308.20v1.30M387.94,308.20v1.30M390.42,308.20v1.30M392.90,308.20v1.30M395.38,308.20v1.30M397.86,308.20v1.30M400.34,308.20v1.30M402.82,308.20v1.30M407.78,308.20v1.30M410.26,308.20v1.30M412.74,308.20v1.30M415.22,308.20v1.30M417.70,308.20v1.30M420.18,308.20v1.30M422.66,308.20v1.30M425.14,308.20v1.30M427.62,308.20v1.30M432.58,308.20v1.30M435.06,308.20v1.30M437.54,308.20v1.30M440.02,308.20v1.30M442.50,308.20v1.30M444.98,308.20v1.30M447.46,308.20v1.30M449.94,308.20v1.30M452.42,308.20v1.30M457.38,308.20v1.30M459.86,308.20v1.30M462.34,308.20v1.30M464.82,308.20v1.30M467.30,308.20v1.30M469.78,308.20v1.30M472.26,308.20v1.30M474.74,308.20v1.30M477.22,308.20v1.30M482.18,308.20v1.30M484.66,308.20v1.30M487.14,308.20v1.30M489.62,308.20v1.30M492.10,308.20v1.30M494.58,308.20v1.30M497.06,308.20v1.30M499.54,308.20v1.30M502.02,308.20v1.30M380.50,236.64h-1.30M380.50,237.87h-1.30M380.50,239.30h-1.30M380.50,240.78h-1.30M380.50,242.63h-1.30M380.50,244.68h-1.30M380.50,247.16h-1.30M380.50,250.73h-1.30M380.50,255.44h-1.30M380.50,263.91h-1.30M380.50,264.91h-1.30M380.50,265.91h-1.30M380.50,266.91h-1.30M380.50,268.24h-1.30M380.50,269.95h-1.30M380.50,271.62h-1.30M380.50,273.62h-1.30M380.50,275.62h-1.30M380.50,277.95h-1.30M380.50,280.61h-1.30M380.50,282.99h-1.30" stroke-width="1.15"/>
</g>
<g font-family="Liberation Sans, sans-serif" font-size="7.4" fill="#2a2a2a" stroke="#2a2a2a" stroke-width="0.2" text-anchor="end">
<text x="376.00" y="237.95">1</text>
<text x="376.00" y="265.65">0.3</text>
<text x="376.00" y="293.35">0.1</text>
<text x="376.00" y="310.75">0.05</text>
</g>
<g font-family="Liberation Sans, sans-serif" font-size="7.4" fill="#2a2a2a" stroke="#2a2a2a" stroke-width="0.2" text-anchor="middle">
<text x="380.50" y="320.85">0</text>
<text x="405.30" y="320.85">30</text>
<text x="430.10" y="320.85">60</text>
<text x="454.90" y="320.85">90</text>
<text x="479.70" y="320.85">120</text>
<text x="504.50" y="320.85">150</text>
</g>
<text font-family="Liberation Sans, sans-serif" font-size="8.2" font-weight="bold" fill="#1a1a1a" x="-31.95" y="0" textLength="63.9" lengthAdjust="spacingAndGlyphs" transform="translate(357.10,269.75) rotate(-90)">Fractional RBC survival</text>
<text font-family="Liberation Sans, sans-serif" font-size="9" font-weight="bold" fill="#1a1a1a" x="437.80" y="333.10" textLength="13.1" lengthAdjust="spacingAndGlyphs">Days</text>
<text font-family="Liberation Sans, sans-serif" font-size="8.2" fill="#2a2a2a" stroke="#2a2a2a" stroke-width="0.08" x="375.00" y="227.40" textLength="138.4" lengthAdjust="spacing">β<tspan dy="-3.3" font-size="6.8">S</tspan><tspan dy="3.3">β</tspan><tspan dy="-3.3" font-size="6.8">S</tspan><tspan dy="3.3"> Full Donor Chimerism (N = 3)</tspan></text>
<g clip-path="url(#cB01)">
<path d="M37.32,358.96 L38.26,358.79 L39.28,358.63 L40.36,358.47 L41.50,358.33 L42.68,358.20 L43.89,358.11 L45.14,358.04 L46.40,358.00 L47.66,358.00 L48.93,358.05 L50.18,358.14 L51.42,358.29 L52.62,358.49 L53.78,358.76 L54.90,359.10 L55.95,359.50 L56.94,359.99 L57.85,360.56 L58.67,361.21 L59.40,361.95 L60.04,362.77 L60.60,363.66 L61.08,364.61 L61.49,365.62 L61.84,366.66 L62.12,367.74 L62.36,368.85 L62.55,369.98 L62.71,371.12 L62.85,372.28 L62.97,373.45 L63.10,374.62 L63.23,375.78 L63.38,376.94 L63.56,378.09 L63.78,379.22 L64.04,380.33 L64.37,381.41 L64.76,382.45 L65.22,383.46 L65.76,384.44 L66.35,385.39 L67.00,386.31 L67.67,387.23 L68.37,388.13 L69.09,389.02 L69.80,389.92 L70.51,390.83 L71.19,391.74 L71.85,392.68 L72.49,393.62 L73.11,394.58 L73.71,395.54 L74.30,396.52 L74.88,397.50 L75.44,398.49 L76.00,399.48 L76.55,400.48 L77.09,401.48 L77.63,402.49 L78.17,403.49 L78.71,404.50 L79.25,405.50 L79.79,406.51 L80.34,407.51 L80.89,408.50 L81.45,409.50 L82.00,410.50 L82.56,411.49 L83.11,412.49 L83.66,413.48 L84.21,414.48 L84.75,415.48 L85.29,416.49 L85.81,417.49 L86.34,418.50 L86.85,419.52 L87.35,420.54 L87.84,421.56 L88.31,422.59 L88.77,423.63 L89.22,424.68 L89.65,425.73 L90.06,426.79 L90.46,427.86 L90.83,428.94 L91.19,430.03 L91.52,431.13 L91.83,432.24 L70.09,432.25 L70.18,431.30 L70.24,430.34 L70.28,429.39 L70.30,428.44 L70.30,427.49 L70.28,426.54 L70.25,425.59 L70.19,424.65 L70.11,423.71 L70.01,422.78 L69.89,421.84 L69.74,420.92 L69.58,419.99 L69.40,419.07 L69.20,418.16 L68.97,417.25 L68.73,416.35 L68.47,415.46 L68.18,414.57 L67.88,413.69 L67.55,412.82 L67.20,411.95 L66.83,411.10 L66.45,410.25 L66.04,409.41 L65.61,408.58 L65.16,407.76 L64.69,406.95 L64.21,406.15 L63.71,405.35 L63.20,404.56 L62.67,403.77 L62.14,402.99 L61.59,402.22 L61.04,401.45 L60.48,400.68 L59.92,399.91 L59.36,399.15 L58.79,398.39 L58.22,397.63 L57.65,396.87 L57.08,396.11 L56.51,395.36 L55.94,394.60 L55.37,393.85 L54.79,393.09 L54.22,392.34 L53.64,391.58 L53.07,390.83 L52.49,390.08 L51.92,389.33 L51.34,388.58 L50.76,387.83 L50.18,387.08 L49.59,386.33 L49.01,385.58 L48.42,384.82 L47.84,384.07 L47.27,383.32 L46.69,382.56 L46.13,381.80 L45.59,381.04 L45.05,380.27 L44.54,379.49 L44.05,378.70 L43.57,377.91 L43.13,377.10 L42.71,376.29 L42.33,375.46 L41.98,374.62 L41.67,373.77 L41.39,372.91 L41.15,372.03 L40.94,371.14 L40.77,370.24 L40.64,369.33 L40.54,368.41 L40.47,367.48 L40.42,366.54 L40.40,365.59 L40.40,364.64 L40.43,363.68 L40.47,362.72 L40.52,361.76 L40.58,360.80 L40.66,359.84 L40.74,358.88 L40.83,357.92 L40.91,356.97Z" fill="#8e8a96" fill-opacity="0.22"/>
<path d="M36.60,355.24 L37.65,355.80 L38.70,356.36 L39.74,356.93 L40.79,357.52 L41.82,358.11 L42.86,358.71 L43.88,359.32 L44.91,359.93 L45.93,360.56 L46.95,361.19 L47.96,361.84 L48.97,362.49 L49.98,363.15 L50.98,363.82 L51.97,364.49 L52.96,365.18 L53.95,365.87 L54.93,366.57 L55.90,367.28 L56.88,368.00 L57.84,368.72 L58.80,369.46 L59.76,370.20 L60.70,370.95 L61.65,371.70 L62.59,372.47 L63.52,373.24 L64.44,374.02 L65.36,374.80 L66.28,375.60 L67.19,376.40 L68.09,377.21 L68.98,378.02 L69.87,378.85 L70.75,379.68 L71.63,380.51 L72.49,381.36 L73.35,382.21 L74.21,383.07 L75.05,383.93 L75.89,384.81 L76.72,385.68 L77.55,386.57 L78.36,387.46 L79.17,388.36 L79.97,389.27 L80.77,390.18 L81.55,391.10 L82.33,392.02 L83.10,392.95 L83.86,393.89 L84.61,394.83 L85.35,395.78 L86.09,396.73 L86.81,397.70 L87.53,398.66 L88.24,399.64 L88.94,400.61 L89.63,401.60 L90.31,402.59 L90.98,403.58 L91.64,404.59 L92.29,405.59 L92.93,406.60 L93.56,407.62 L94.19,408.65 L94.80,409.67 L95.40,410.71 L95.99,411.75 L96.58,412.79 L97.15,413.84 L97.71,414.89 L98.26,415.95 L98.80,417.02 L99.33,418.09 L99.84,419.16 L100.35,420.24 L100.84,421.32 L101.33,422.41 L101.80,423.50 L102.26,424.60 L102.71,425.70 L103.15,426.80 L103.58,427.91 L103.99,429.03 L104.39,430.15 L104.78,431.27 L105.16,432.39 L105.53,433.52 L98.92,433.56 L98.49,432.59 L98.05,431.62 L97.60,430.65 L97.14,429.69 L96.68,428.73 L96.21,427.77 L95.73,426.82 L95.25,425.87 L94.75,424.93 L94.26,423.99 L93.75,423.05 L93.24,422.12 L92.72,421.19 L92.20,420.27 L91.67,419.35 L91.13,418.43 L90.59,417.51 L90.04,416.60 L89.49,415.69 L88.92,414.79 L88.36,413.89 L87.79,412.99 L87.21,412.10 L86.62,411.21 L86.04,410.32 L85.44,409.44 L84.84,408.56 L84.24,407.68 L83.63,406.81 L83.01,405.94 L82.39,405.07 L81.76,404.21 L81.13,403.35 L80.50,402.49 L79.86,401.64 L79.21,400.78 L78.56,399.94 L77.91,399.09 L77.25,398.25 L76.59,397.41 L75.92,396.58 L75.25,395.74 L74.57,394.91 L73.89,394.09 L73.21,393.26 L72.52,392.44 L71.83,391.62 L71.14,390.81 L70.44,389.99 L69.74,389.18 L69.03,388.38 L68.32,387.57 L67.61,386.77 L66.89,385.97 L66.18,385.18 L65.45,384.38 L64.73,383.59 L64.00,382.80 L63.27,382.02 L62.54,381.23 L61.80,380.45 L61.06,379.67 L60.32,378.90 L59.58,378.12 L58.83,377.35 L58.08,376.59 L57.33,375.82 L56.58,375.06 L55.82,374.29 L55.06,373.53 L54.30,372.78 L53.54,372.02 L52.78,371.27 L52.01,370.52 L51.25,369.77 L50.48,369.03 L49.71,368.28 L48.94,367.54 L48.17,366.80 L47.40,366.07 L46.62,365.33 L45.85,364.60 L45.07,363.87 L44.29,363.14 L43.51,362.41 L42.73,361.68 L41.95,360.96 L41.17,360.24 L40.39,359.52Z" fill="#8e8a96" fill-opacity="0.22"/>
<path d="M36.31,358.08 L37.94,358.15 L39.56,358.24 L41.19,358.35 L42.81,358.48 L44.43,358.63 L46.05,358.80 L47.66,358.99 L49.28,359.20 L50.89,359.43 L52.49,359.69 L54.10,359.96 L55.70,360.25 L57.29,360.56 L58.89,360.89 L60.47,361.24 L62.06,361.61 L63.64,361.99 L65.21,362.40 L66.78,362.83 L68.34,363.27 L69.90,363.73 L71.45,364.21 L73.00,364.71 L74.54,365.23 L76.07,365.77 L77.59,366.33 L79.11,366.90 L80.62,367.49 L82.13,368.10 L83.62,368.73 L85.11,369.37 L86.59,370.04 L88.06,370.72 L89.52,371.41 L90.97,372.13 L92.42,372.86 L93.85,373.61 L95.28,374.38 L96.69,375.16 L98.10,375.96 L99.49,376.78 L100.87,377.61 L102.25,378.46 L103.61,379.32 L104.96,380.21 L106.29,381.11 L107.62,382.02 L108.94,382.95 L110.24,383.90 L111.53,384.86 L112.80,385.84 L114.07,386.83 L115.32,387.84 L116.56,388.87 L117.78,389.91 L118.99,390.96 L120.18,392.03 L121.36,393.12 L122.53,394.22 L123.68,395.33 L124.82,396.46 L125.94,397.61 L127.04,398.77 L128.13,399.94 L129.21,401.13 L130.26,402.33 L131.30,403.54 L132.33,404.77 L133.33,406.02 L134.32,407.27 L135.30,408.55 L136.25,409.83 L137.19,411.13 L138.10,412.44 L139.00,413.76 L139.88,415.10 L140.75,416.45 L141.59,417.82 L142.41,419.19 L143.22,420.58 L144.00,421.99 L144.76,423.40 L145.51,424.83 L146.23,426.27 L146.93,427.72 L147.61,429.18 L148.27,430.66 L148.91,432.15 L149.53,433.65 L113.87,433.75 L113.96,432.43 L114.03,431.11 L114.07,429.80 L114.08,428.49 L114.06,427.19 L114.01,425.89 L113.93,424.59 L113.83,423.30 L113.69,422.02 L113.53,420.74 L113.34,419.46 L113.12,418.20 L112.88,416.94 L112.60,415.69 L112.30,414.45 L111.98,413.22 L111.62,412.00 L111.24,410.79 L110.84,409.59 L110.40,408.40 L109.95,407.23 L109.46,406.06 L108.95,404.91 L108.42,403.77 L107.86,402.64 L107.27,401.53 L106.66,400.44 L106.03,399.35 L105.37,398.29 L104.69,397.24 L103.98,396.20 L103.25,395.19 L102.50,394.19 L101.73,393.21 L100.93,392.24 L100.10,391.30 L99.26,390.38 L98.39,389.47 L97.50,388.59 L96.59,387.73 L95.66,386.89 L94.71,386.06 L93.73,385.26 L92.74,384.48 L91.73,383.71 L90.71,382.96 L89.67,382.23 L88.61,381.51 L87.53,380.81 L86.45,380.13 L85.35,379.45 L84.23,378.80 L83.11,378.15 L81.97,377.52 L80.83,376.90 L79.67,376.29 L78.51,375.69 L77.34,375.10 L76.16,374.52 L74.97,373.96 L73.78,373.39 L72.59,372.84 L71.39,372.29 L70.19,371.75 L68.99,371.22 L67.78,370.69 L66.58,370.17 L65.37,369.65 L64.17,369.13 L62.96,368.62 L61.76,368.10 L60.57,367.59 L59.37,367.09 L58.18,366.58 L56.99,366.08 L55.80,365.58 L54.62,365.08 L53.44,364.58 L52.26,364.09 L51.09,363.59 L49.92,363.10 L48.75,362.61 L47.59,362.12 L46.43,361.64 L45.27,361.15 L44.12,360.67 L42.97,360.19 L41.83,359.71 L40.69,359.23Z" fill="#8e8a96" fill-opacity="0.22"/>
<path d="M41.82,359.31 L43.26,359.66 L44.70,360.02 L46.13,360.40 L47.57,360.78 L49.00,361.17 L50.44,361.56 L51.87,361.97 L53.30,362.39 L54.73,362.82 L56.16,363.26 L57.59,363.71 L59.01,364.16 L60.44,364.63 L61.86,365.11 L63.28,365.59 L64.70,366.09 L66.11,366.60 L67.53,367.11 L68.94,367.63 L70.35,368.17 L71.75,368.71 L73.15,369.27 L74.55,369.83 L75.95,370.40 L77.34,370.98 L78.73,371.58 L80.12,372.18 L81.50,372.79 L82.88,373.41 L84.25,374.04 L85.62,374.68 L86.99,375.32 L88.35,375.98 L89.71,376.65 L91.06,377.33 L92.41,378.01 L93.75,378.71 L95.09,379.42 L96.43,380.13 L97.75,380.86 L99.08,381.59 L100.39,382.33 L101.70,383.09 L103.01,383.85 L104.30,384.63 L105.59,385.41 L106.87,386.21 L108.14,387.02 L109.41,387.84 L110.66,388.67 L111.90,389.52 L113.13,390.37 L114.34,391.24 L115.55,392.13 L116.74,393.03 L117.92,393.94 L119.09,394.87 L120.24,395.81 L121.38,396.77 L122.50,397.74 L123.60,398.73 L124.69,399.73 L125.76,400.75 L126.81,401.79 L127.85,402.84 L128.86,403.91 L129.85,405.00 L130.83,406.10 L131.78,407.22 L132.70,408.36 L133.61,409.52 L134.49,410.70 L135.35,411.89 L136.18,413.11 L136.99,414.34 L137.76,415.59 L138.52,416.86 L139.24,418.16 L139.94,419.47 L140.60,420.80 L141.24,422.15 L141.85,423.53 L142.42,424.92 L142.97,426.34 L143.48,427.78 L143.95,429.24 L144.40,430.72 L144.80,432.23 L145.18,433.76 L129.28,433.89 L129.47,432.33 L129.59,430.79 L129.66,429.27 L129.68,427.78 L129.63,426.30 L129.54,424.84 L129.39,423.40 L129.19,421.98 L128.95,420.58 L128.65,419.20 L128.31,417.84 L127.92,416.50 L127.48,415.18 L127.01,413.88 L126.49,412.60 L125.93,411.34 L125.33,410.09 L124.69,408.87 L124.01,407.67 L123.30,406.48 L122.55,405.32 L121.77,404.17 L120.96,403.05 L120.12,401.94 L119.25,400.86 L118.35,399.79 L117.42,398.74 L116.46,397.71 L115.48,396.70 L114.48,395.72 L113.46,394.75 L112.41,393.79 L111.35,392.86 L110.26,391.95 L109.16,391.05 L108.04,390.16 L106.90,389.30 L105.75,388.45 L104.59,387.61 L103.41,386.79 L102.22,385.98 L101.02,385.18 L99.81,384.40 L98.59,383.63 L97.36,382.87 L96.13,382.12 L94.88,381.39 L93.64,380.66 L92.39,379.94 L91.13,379.23 L89.88,378.53 L88.61,377.84 L87.35,377.16 L86.07,376.49 L84.80,375.83 L83.52,375.18 L82.24,374.54 L80.95,373.91 L79.66,373.29 L78.36,372.67 L77.06,372.07 L75.76,371.48 L74.45,370.90 L73.14,370.33 L71.83,369.76 L70.51,369.21 L69.19,368.67 L67.87,368.14 L66.54,367.62 L65.21,367.11 L63.87,366.60 L62.53,366.11 L61.19,365.63 L59.85,365.16 L58.50,364.70 L57.15,364.25 L55.79,363.81 L54.43,363.38 L53.07,362.96 L51.71,362.55 L50.34,362.16 L48.97,361.77 L47.60,361.39 L46.23,361.02 L44.85,360.67 L43.47,360.32 L42.08,359.99 L40.70,359.66 L39.31,359.35Z" fill="#8e8a96" fill-opacity="0.22"/>
<path d="M36.62,356.75 L38.19,356.97 L39.77,357.20 L41.37,357.43 L42.98,357.66 L44.60,357.91 L46.22,358.16 L47.86,358.41 L49.51,358.67 L51.17,358.95 L52.83,359.22 L54.50,359.51 L56.18,359.81 L57.86,360.11 L59.55,360.43 L61.24,360.75 L62.93,361.09 L64.63,361.43 L66.34,361.79 L68.04,362.15 L69.74,362.53 L71.45,362.92 L73.16,363.32 L74.86,363.74 L76.56,364.16 L78.27,364.60 L79.97,365.06 L81.66,365.53 L83.35,366.01 L85.04,366.50 L86.73,367.01 L88.40,367.54 L90.07,368.08 L91.74,368.64 L93.39,369.21 L95.04,369.80 L96.68,370.41 L98.31,371.03 L99.93,371.68 L101.54,372.34 L103.14,373.01 L104.72,373.71 L106.29,374.42 L107.85,375.16 L109.40,375.91 L110.93,376.69 L112.44,377.48 L113.94,378.30 L115.43,379.13 L116.89,379.99 L118.34,380.87 L119.77,381.77 L121.18,382.69 L122.57,383.64 L123.94,384.61 L125.29,385.60 L126.62,386.61 L127.92,387.65 L129.21,388.72 L130.46,389.80 L131.70,390.92 L132.91,392.06 L134.09,393.22 L135.25,394.41 L136.38,395.63 L137.48,396.87 L138.56,398.13 L139.60,399.42 L140.62,400.74 L141.60,402.08 L142.55,403.45 L143.47,404.84 L144.35,406.25 L145.20,407.69 L146.01,409.15 L146.78,410.64 L147.52,412.15 L148.22,413.69 L148.88,415.24 L149.50,416.83 L150.08,418.43 L150.62,420.06 L151.12,421.71 L151.57,423.39 L151.98,425.09 L152.35,426.81 L152.66,428.56 L152.93,430.33 L153.16,432.12 L153.33,433.93 L135.68,433.85 L135.44,432.32 L135.17,430.82 L134.87,429.33 L134.53,427.87 L134.16,426.43 L133.77,425.01 L133.34,423.61 L132.88,422.22 L132.40,420.86 L131.88,419.52 L131.34,418.20 L130.77,416.90 L130.17,415.61 L129.54,414.35 L128.89,413.10 L128.21,411.88 L127.51,410.67 L126.78,409.48 L126.03,408.30 L125.25,407.15 L124.45,406.01 L123.63,404.89 L122.78,403.79 L121.91,402.70 L121.02,401.63 L120.11,400.58 L119.18,399.55 L118.22,398.53 L117.25,397.52 L116.26,396.53 L115.25,395.56 L114.22,394.61 L113.17,393.66 L112.11,392.74 L111.03,391.83 L109.93,390.93 L108.82,390.05 L107.69,389.18 L106.54,388.33 L105.38,387.49 L104.21,386.66 L103.02,385.85 L101.82,385.05 L100.61,384.26 L99.39,383.49 L98.15,382.73 L96.90,381.98 L95.64,381.25 L94.38,380.53 L93.10,379.81 L91.81,379.12 L90.51,378.43 L89.21,377.75 L87.90,377.09 L86.58,376.43 L85.25,375.79 L83.91,375.16 L82.57,374.54 L81.23,373.93 L79.88,373.33 L78.52,372.73 L77.16,372.15 L75.80,371.58 L74.44,371.02 L73.07,370.46 L71.70,369.92 L70.32,369.38 L68.95,368.86 L67.58,368.34 L66.20,367.83 L64.83,367.33 L63.45,366.83 L62.08,366.34 L60.71,365.86 L59.34,365.39 L57.97,364.93 L56.61,364.47 L55.25,364.01 L53.89,363.57 L52.54,363.13 L51.19,362.70 L49.85,362.27 L48.52,361.85 L47.19,361.43 L45.86,361.02 L44.55,360.61 L43.24,360.21 L41.94,359.82 L40.65,359.43Z" fill="#8e8a96" fill-opacity="0.22"/>
<path d="M40.60,359.22 L41.88,359.82 L43.15,360.42 L44.43,361.03 L45.71,361.63 L46.98,362.23 L48.26,362.83 L49.54,363.43 L50.82,364.03 L52.10,364.63 L53.37,365.22 L54.66,365.82 L55.94,366.41 L57.22,367.00 L58.51,367.59 L59.80,368.17 L61.08,368.75 L62.38,369.33 L63.67,369.91 L64.97,370.48 L66.27,371.05 L67.57,371.61 L68.88,372.17 L70.19,372.73 L71.50,373.28 L72.82,373.83 L74.13,374.38 L75.45,374.92 L76.78,375.46 L78.10,376.01 L79.42,376.56 L80.74,377.10 L82.05,377.65 L83.37,378.21 L84.68,378.77 L85.99,379.34 L87.30,379.91 L88.59,380.49 L89.89,381.08 L91.18,381.69 L92.46,382.30 L93.73,382.92 L94.99,383.56 L96.25,384.21 L97.49,384.87 L98.73,385.55 L99.95,386.25 L101.16,386.96 L102.36,387.69 L103.55,388.45 L104.72,389.22 L105.88,390.01 L107.03,390.83 L108.16,391.67 L109.27,392.52 L110.37,393.40 L111.45,394.31 L112.51,395.23 L113.55,396.17 L114.58,397.13 L115.58,398.11 L116.57,399.11 L117.54,400.13 L118.48,401.17 L119.41,402.22 L120.31,403.30 L121.20,404.39 L122.06,405.50 L122.89,406.63 L123.71,407.77 L124.50,408.93 L125.26,410.11 L126.00,411.30 L126.71,412.51 L127.40,413.73 L128.06,414.97 L128.70,416.22 L129.31,417.49 L129.89,418.77 L130.44,420.07 L130.96,421.38 L131.45,422.70 L131.91,424.04 L132.35,425.38 L132.75,426.74 L133.12,428.12 L133.45,429.50 L133.76,430.89 L134.03,432.30 L134.27,433.72 L126.59,433.70 L126.39,432.36 L126.16,431.03 L125.90,429.70 L125.61,428.38 L125.30,427.07 L124.96,425.77 L124.59,424.47 L124.19,423.19 L123.77,421.91 L123.32,420.65 L122.84,419.39 L122.34,418.15 L121.81,416.92 L121.26,415.70 L120.69,414.49 L120.09,413.29 L119.46,412.11 L118.82,410.93 L118.15,409.78 L117.46,408.63 L116.74,407.50 L116.00,406.39 L115.25,405.28 L114.47,404.20 L113.67,403.13 L112.85,402.07 L112.00,401.04 L111.14,400.01 L110.26,399.01 L109.36,398.02 L108.45,397.05 L107.51,396.10 L106.55,395.17 L105.58,394.25 L104.59,393.35 L103.58,392.48 L102.56,391.62 L101.52,390.79 L100.47,389.97 L99.39,389.18 L98.31,388.40 L97.21,387.65 L96.09,386.91 L94.97,386.19 L93.83,385.49 L92.68,384.80 L91.52,384.13 L90.35,383.47 L89.16,382.82 L87.97,382.19 L86.78,381.57 L85.57,380.96 L84.36,380.36 L83.14,379.76 L81.92,379.18 L80.69,378.60 L79.46,378.02 L78.23,377.45 L76.99,376.89 L75.75,376.32 L74.51,375.76 L73.28,375.21 L72.04,374.65 L70.80,374.09 L69.56,373.53 L68.33,372.97 L67.09,372.40 L65.87,371.83 L64.64,371.26 L63.42,370.68 L62.20,370.10 L60.98,369.52 L59.77,368.93 L58.56,368.34 L57.35,367.75 L56.14,367.15 L54.94,366.56 L53.74,365.96 L52.54,365.35 L51.34,364.75 L50.14,364.14 L48.94,363.53 L47.75,362.92 L46.56,362.31 L45.36,361.69 L44.17,361.08 L42.98,360.46 L41.79,359.84 L40.61,359.22Z" fill="#ec6a52" fill-opacity="0.46" stroke="#e05a48" stroke-opacity="0.55" stroke-width="0.5"/>
<path d="M40.70,359.43 L41.52,359.99 L42.30,360.58 L43.05,361.20 L43.75,361.85 L44.43,362.52 L45.07,363.22 L45.68,363.94 L46.27,364.67 L46.83,365.43 L47.37,366.20 L47.89,366.98 L48.39,367.78 L48.87,368.59 L49.35,369.41 L49.81,370.23 L50.27,371.06 L50.72,371.90 L51.16,372.74 L51.61,373.58 L52.05,374.42 L52.50,375.26 L52.96,376.09 L53.42,376.92 L53.90,377.75 L54.38,378.56 L54.86,379.38 L55.36,380.19 L55.86,380.99 L56.37,381.79 L56.88,382.59 L57.39,383.38 L57.92,384.17 L58.44,384.96 L58.97,385.75 L59.51,386.53 L60.04,387.31 L60.58,388.09 L61.12,388.87 L61.67,389.65 L62.21,390.43 L62.76,391.21 L63.30,391.99 L63.85,392.77 L64.40,393.55 L64.94,394.33 L65.48,395.11 L66.03,395.89 L66.57,396.68 L67.10,397.46 L67.64,398.25 L68.17,399.04 L68.70,399.84 L69.22,400.63 L69.74,401.43 L70.25,402.23 L70.75,403.04 L71.25,403.84 L71.74,404.65 L72.23,405.47 L72.70,406.29 L73.17,407.11 L73.63,407.93 L74.08,408.76 L74.52,409.60 L74.95,410.44 L75.37,411.28 L75.77,412.13 L76.17,412.98 L76.55,413.84 L76.92,414.70 L77.27,415.57 L77.62,416.44 L77.94,417.32 L78.26,418.21 L78.55,419.10 L78.83,420.00 L79.10,420.90 L79.35,421.81 L79.58,422.73 L79.79,423.66 L79.98,424.59 L80.16,425.53 L80.31,426.47 L80.45,427.43 L80.57,428.39 L80.66,429.36 L80.73,430.33 L80.79,431.32 L80.82,432.31" fill="none" stroke="#8c8c96" stroke-opacity="0.25" stroke-width="0.7"/>
<path d="M40.56,359.32 L41.48,359.95 L42.39,360.58 L43.29,361.22 L44.18,361.88 L45.06,362.54 L45.94,363.21 L46.81,363.88 L47.68,364.57 L48.54,365.26 L49.39,365.96 L50.24,366.67 L51.08,367.38 L51.92,368.10 L52.75,368.83 L53.58,369.56 L54.40,370.29 L55.22,371.04 L56.03,371.78 L56.84,372.53 L57.65,373.29 L58.46,374.04 L59.26,374.80 L60.05,375.57 L60.85,376.34 L61.64,377.11 L62.43,377.88 L63.21,378.66 L64.00,379.44 L64.78,380.22 L65.55,381.01 L66.33,381.80 L67.10,382.59 L67.86,383.39 L68.63,384.19 L69.39,384.99 L70.14,385.80 L70.90,386.61 L71.65,387.42 L72.39,388.24 L73.13,389.06 L73.87,389.88 L74.61,390.71 L75.34,391.53 L76.07,392.36 L76.80,393.20 L77.52,394.04 L78.23,394.88 L78.95,395.72 L79.66,396.57 L80.36,397.42 L81.06,398.28 L81.76,399.13 L82.45,399.99 L83.14,400.86 L83.82,401.73 L84.49,402.60 L85.16,403.47 L85.83,404.35 L86.49,405.23 L87.15,406.12 L87.79,407.01 L88.44,407.90 L89.08,408.80 L89.71,409.70 L90.33,410.60 L90.95,411.51 L91.56,412.43 L92.17,413.34 L92.77,414.26 L93.36,415.19 L93.95,416.12 L94.53,417.05 L95.10,417.99 L95.66,418.93 L96.22,419.87 L96.77,420.82 L97.31,421.77 L97.85,422.73 L98.37,423.69 L98.89,424.66 L99.40,425.63 L99.90,426.61 L100.40,427.59 L100.88,428.57 L101.36,429.56 L101.83,430.55 L102.29,431.55 L102.74,432.55 L103.18,433.56" fill="none" stroke="#8c8c96" stroke-opacity="0.25" stroke-width="0.7"/>
<path d="M40.58,359.36 L41.94,359.61 L43.30,359.87 L44.67,360.14 L46.04,360.42 L47.42,360.71 L48.79,361.02 L50.17,361.34 L51.55,361.67 L52.94,362.02 L54.32,362.38 L55.71,362.74 L57.09,363.13 L58.47,363.52 L59.86,363.93 L61.24,364.35 L62.62,364.78 L64.00,365.23 L65.38,365.68 L66.76,366.16 L68.13,366.64 L69.50,367.14 L70.87,367.65 L72.23,368.17 L73.59,368.71 L74.94,369.26 L76.29,369.82 L77.63,370.39 L78.97,370.98 L80.30,371.58 L81.62,372.20 L82.94,372.83 L84.25,373.47 L85.55,374.13 L86.84,374.80 L88.13,375.48 L89.40,376.18 L90.67,376.89 L91.93,377.61 L93.17,378.35 L94.41,379.10 L95.63,379.87 L96.85,380.65 L98.05,381.44 L99.24,382.25 L100.42,383.07 L101.59,383.90 L102.74,384.75 L103.88,385.62 L105.00,386.50 L106.11,387.39 L107.21,388.29 L108.29,389.22 L109.36,390.15 L110.41,391.10 L111.44,392.06 L112.46,393.04 L113.46,394.04 L114.44,395.04 L115.40,396.07 L116.35,397.10 L117.28,398.16 L118.19,399.22 L119.08,400.30 L119.95,401.40 L120.80,402.51 L121.63,403.64 L122.44,404.78 L123.23,405.94 L123.99,407.11 L124.74,408.30 L125.46,409.50 L126.16,410.72 L126.84,411.95 L127.49,413.20 L128.12,414.46 L128.72,415.74 L129.30,417.03 L129.86,418.34 L130.39,419.67 L130.89,421.01 L131.37,422.36 L131.82,423.74 L132.25,425.12 L132.65,426.53 L133.01,427.95 L133.36,429.38 L133.67,430.83 L133.95,432.30 L134.21,433.78" fill="none" stroke="#8c8c96" stroke-opacity="0.25" stroke-width="0.7"/>
<path d="M40.51,359.38 L41.97,359.67 L43.42,359.98 L44.87,360.30 L46.32,360.64 L47.75,360.99 L49.19,361.36 L50.62,361.74 L52.04,362.13 L53.46,362.54 L54.87,362.96 L56.28,363.40 L57.68,363.84 L59.08,364.30 L60.47,364.77 L61.86,365.26 L63.25,365.75 L64.63,366.26 L66.01,366.78 L67.38,367.31 L68.75,367.85 L70.11,368.41 L71.47,368.97 L72.82,369.54 L74.18,370.13 L75.52,370.72 L76.87,371.32 L78.21,371.94 L79.55,372.56 L80.88,373.19 L82.21,373.83 L83.53,374.48 L84.86,375.14 L86.18,375.80 L87.49,376.48 L88.81,377.16 L90.12,377.84 L91.42,378.54 L92.73,379.24 L94.03,379.95 L95.32,380.67 L96.62,381.39 L97.91,382.12 L99.20,382.86 L100.48,383.60 L101.76,384.35 L103.03,385.12 L104.30,385.89 L105.55,386.67 L106.80,387.47 L108.04,388.27 L109.26,389.10 L110.48,389.93 L111.68,390.78 L112.87,391.65 L114.04,392.53 L115.20,393.43 L116.34,394.34 L117.46,395.28 L118.57,396.23 L119.66,397.21 L120.73,398.20 L121.77,399.21 L122.80,400.25 L123.81,401.30 L124.79,402.37 L125.75,403.46 L126.68,404.57 L127.59,405.70 L128.47,406.85 L129.33,408.02 L130.16,409.21 L130.96,410.42 L131.73,411.64 L132.47,412.89 L133.18,414.15 L133.86,415.43 L134.51,416.73 L135.12,418.05 L135.70,419.39 L136.24,420.74 L136.75,422.12 L137.23,423.51 L137.66,424.92 L138.06,426.35 L138.42,427.79 L138.74,429.25 L139.02,430.74 L139.26,432.24 L139.45,433.75" fill="none" stroke="#8c8c96" stroke-opacity="0.25" stroke-width="0.7"/>
<path d="M40.61,359.44 L42.04,359.71 L43.48,359.98 L44.93,360.26 L46.38,360.55 L47.85,360.84 L49.32,361.13 L50.80,361.44 L52.29,361.75 L53.78,362.06 L55.28,362.39 L56.79,362.72 L58.30,363.06 L59.81,363.40 L61.33,363.76 L62.85,364.12 L64.37,364.49 L65.90,364.87 L67.43,365.26 L68.95,365.66 L70.48,366.07 L72.01,366.50 L73.53,366.93 L75.06,367.37 L76.58,367.82 L78.10,368.29 L79.62,368.77 L81.13,369.25 L82.64,369.76 L84.14,370.27 L85.64,370.80 L87.13,371.34 L88.62,371.89 L90.10,372.46 L91.57,373.05 L93.03,373.64 L94.49,374.25 L95.93,374.88 L97.37,375.52 L98.80,376.18 L100.21,376.86 L101.61,377.55 L103.01,378.26 L104.38,378.98 L105.75,379.72 L107.10,380.48 L108.44,381.26 L109.76,382.05 L111.07,382.87 L112.36,383.70 L113.64,384.55 L114.90,385.42 L116.14,386.31 L117.36,387.22 L118.56,388.15 L119.75,389.10 L120.91,390.07 L122.06,391.07 L123.18,392.08 L124.28,393.12 L125.36,394.17 L126.42,395.25 L127.46,396.36 L128.47,397.48 L129.45,398.63 L130.41,399.80 L131.35,400.99 L132.26,402.21 L133.13,403.45 L133.98,404.70 L134.80,405.98 L135.59,407.28 L136.34,408.60 L137.06,409.94 L137.75,411.30 L138.40,412.68 L139.02,414.07 L139.59,415.49 L140.13,416.92 L140.63,418.38 L141.09,419.84 L141.51,421.33 L141.89,422.84 L142.22,424.36 L142.51,425.90 L142.75,427.45 L142.95,429.02 L143.10,430.60 L143.20,432.21 L143.25,433.82" fill="none" stroke="#8c8c96" stroke-opacity="0.25" stroke-width="0.7"/>
<path d="M40.56,359.28 L41.85,359.81 L43.13,360.35 L44.40,360.91 L45.66,361.47 L46.92,362.05 L48.18,362.63 L49.42,363.23 L50.67,363.82 L51.91,364.43 L53.15,365.04 L54.38,365.65 L55.61,366.27 L56.84,366.89 L58.08,367.50 L59.31,368.12 L60.54,368.74 L61.77,369.36 L63.01,369.97 L64.25,370.58 L65.49,371.18 L66.74,371.78 L67.99,372.37 L69.25,372.95 L70.52,373.53 L71.79,374.09 L73.06,374.65 L74.34,375.21 L75.62,375.76 L76.90,376.31 L78.18,376.86 L79.47,377.41 L80.75,377.96 L82.03,378.51 L83.31,379.07 L84.59,379.63 L85.86,380.20 L87.13,380.77 L88.39,381.35 L89.64,381.94 L90.89,382.55 L92.13,383.16 L93.36,383.79 L94.58,384.43 L95.80,385.08 L97.00,385.76 L98.18,386.45 L99.36,387.16 L100.52,387.89 L101.67,388.64 L102.80,389.42 L103.91,390.22 L105.01,391.04 L106.09,391.89 L107.15,392.76 L108.20,393.65 L109.23,394.56 L110.23,395.50 L111.22,396.45 L112.19,397.43 L113.15,398.43 L114.08,399.44 L114.99,400.48 L115.88,401.53 L116.75,402.60 L117.60,403.69 L118.42,404.79 L119.23,405.91 L120.01,407.05 L120.77,408.20 L121.51,409.37 L122.22,410.55 L122.91,411.75 L123.57,412.95 L124.22,414.17 L124.83,415.41 L125.42,416.65 L125.99,417.91 L126.53,419.17 L127.05,420.45 L127.53,421.73 L127.99,423.03 L128.43,424.33 L128.84,425.64 L129.21,426.96 L129.56,428.28 L129.89,429.62 L130.18,430.95 L130.44,432.30 L130.68,433.65" fill="none" stroke="#a8182a" stroke-width="0.8"/>
</g>
<circle cx="52.4" cy="364.6" r="0.80" fill="#7a2a3a" fill-opacity="0.80"/>
<circle cx="58.2" cy="366.5" r="0.80" fill="#7a2a3a" fill-opacity="0.80"/>
<circle cx="69.7" cy="374.2" r="0.80" fill="#7a2a3a" fill-opacity="0.80"/>
<circle cx="81.3" cy="377.1" r="0.80" fill="#7a2a3a" fill-opacity="0.80"/>
<circle cx="92.8" cy="381.9" r="0.80" fill="#7a2a3a" fill-opacity="0.80"/>
<circle cx="92.8" cy="387.1" r="0.80" fill="#7a2a3a" fill-opacity="0.80"/>
<circle cx="104.3" cy="388.6" r="0.80" fill="#7a2a3a" fill-opacity="0.80"/>
<circle cx="104.3" cy="399.2" r="0.80" fill="#7a2a3a" fill-opacity="0.80"/>
<circle cx="115.9" cy="401.1" r="0.80" fill="#7a2a3a" fill-opacity="0.80"/>
<circle cx="115.9" cy="408.2" r="0.80" fill="#7a2a3a" fill-opacity="0.80"/>
<circle cx="127.4" cy="417.5" r="0.80" fill="#7a2a3a" fill-opacity="0.80"/>
<g stroke="#222" stroke-width="1.15" fill="none">
<path d="M40.50,356.90 V432.20 H166.70"/>
<path d="M40.50,432.20v1.80M65.30,432.20v1.80M90.10,432.20v1.80M114.90,432.20v1.80M139.70,432.20v1.80M164.50,432.20v1.80M40.50,359.40h-1.80M40.50,387.10h-1.80M40.50,414.80h-1.80M40.50,432.20h-1.80"/>
<path d="M42.98,432.20v1.30M45.46,432.20v1.30M47.94,432.20v1.30M50.42,432.20v1.30M52.90,432.20v1.30M55.38,432.20v1.30M57.86,432.20v1.30M60.34,432.20v1.30M62.82,432.20v1.30M67.78,432.20v1.30M70.26,432.20v1.30M72.74,432.20v1.30M75.22,432.20v1.30M77.70,432.20v1.30M80.18,432.20v1.30M82.66,432.20v1.30M85.14,432.20v1.30M87.62,432.20v1.30M92.58,432.20v1.30M95.06,432.20v1.30M97.54,432.20v1.30M100.02,432.20v1.30M102.50,432.20v1.30M104.98,432.20v1.30M107.46,432.20v1.30M109.94,432.20v1.30M112.42,432.20v1.30M117.38,432.20v1.30M119.86,432.20v1.30M122.34,432.20v1.30M124.82,432.20v1.30M127.30,432.20v1.30M129.78,432.20v1.30M132.26,432.20v1.30M134.74,432.20v1.30M137.22,432.20v1.30M142.18,432.20v1.30M144.66,432.20v1.30M147.14,432.20v1.30M149.62,432.20v1.30M152.10,432.20v1.30M154.58,432.20v1.30M157.06,432.20v1.30M159.54,432.20v1.30M162.02,432.20v1.30M40.50,360.64h-1.30M40.50,361.87h-1.30M40.50,363.30h-1.30M40.50,364.78h-1.30M40.50,366.63h-1.30M40.50,368.68h-1.30M40.50,371.16h-1.30M40.50,374.73h-1.30M40.50,379.44h-1.30M40.50,387.91h-1.30M40.50,388.91h-1.30M40.50,389.91h-1.30M40.50,390.91h-1.30M40.50,392.24h-1.30M40.50,393.95h-1.30M40.50,395.62h-1.30M40.50,397.62h-1.30M40.50,399.62h-1.30M40.50,401.95h-1.30M40.50,404.61h-1.30M40.50,406.99h-1.30" stroke-width="1.15"/>
</g>
<g font-family="Liberation Sans, sans-serif" font-size="7.4" fill="#2a2a2a" stroke="#2a2a2a" stroke-width="0.2" text-anchor="end">
<text x="35.40" y="361.95">1</text>
<text x="35.40" y="389.65">0.3</text>
<text x="35.40" y="417.35">0.1</text>
<text x="35.40" y="434.75">0.05</text>
</g>
<g font-family="Liberation Sans, sans-serif" font-size="7.4" fill="#2a2a2a" stroke="#2a2a2a" stroke-width="0.2" text-anchor="middle">
<text x="40.50" y="444.85">0</text>
<text x="65.30" y="444.85">30</text>
<text x="90.10" y="444.85">60</text>
<text x="114.90" y="444.85">90</text>
<text x="139.70" y="444.85">120</text>
<text x="164.50" y="444.85">150</text>
</g>
<text font-family="Liberation Sans, sans-serif" font-size="8.2" font-weight="bold" fill="#1a1a1a" x="-31.95" y="0" textLength="63.9" lengthAdjust="spacingAndGlyphs" transform="translate(18.30,393.75) rotate(-90)">Fractional RBC survival</text>
<text font-family="Liberation Sans, sans-serif" font-size="9" font-weight="bold" fill="#1a1a1a" x="97.80" y="457.10" textLength="13.1" lengthAdjust="spacingAndGlyphs">Days</text>
<text font-family="Liberation Sans, sans-serif" font-size="8.2" fill="#2a2a2a" stroke="#2a2a2a" stroke-width="0.08" x="42.80" y="351.40" textLength="123.3" lengthAdjust="spacing">β<tspan dy="-3.3" font-size="6.8">S</tspan><tspan dy="3.3">β</tspan><tspan dy="-3.3" font-size="6.8">S</tspan><tspan dy="3.3"> Mixed Chimerism (N = 2)</tspan></text>
<g clip-path="url(#cB11)">
<path d="M207.32,358.96 L208.26,358.79 L209.28,358.63 L210.36,358.47 L211.50,358.33 L212.68,358.20 L213.89,358.11 L215.14,358.04 L216.40,358.00 L217.66,358.00 L218.93,358.05 L220.18,358.14 L221.42,358.29 L222.62,358.49 L223.78,358.76 L224.90,359.10 L225.95,359.50 L226.94,359.99 L227.85,360.56 L228.67,361.21 L229.40,361.95 L230.04,362.77 L230.60,363.66 L231.08,364.61 L231.49,365.62 L231.84,366.66 L232.12,367.74 L232.36,368.85 L232.55,369.98 L232.71,371.12 L232.85,372.28 L232.97,373.45 L233.10,374.62 L233.23,375.78 L233.38,376.94 L233.56,378.09 L233.78,379.22 L234.04,380.33 L234.37,381.41 L234.76,382.45 L235.22,383.46 L235.76,384.44 L236.35,385.39 L237.00,386.31 L237.67,387.23 L238.37,388.13 L239.09,389.02 L239.80,389.92 L240.51,390.83 L241.19,391.74 L241.85,392.68 L242.49,393.62 L243.11,394.58 L243.71,395.54 L244.30,396.52 L244.88,397.50 L245.44,398.49 L246.00,399.48 L246.55,400.48 L247.09,401.48 L247.63,402.49 L248.17,403.49 L248.71,404.50 L249.25,405.50 L249.79,406.51 L250.34,407.51 L250.89,408.50 L251.45,409.50 L252.00,410.50 L252.56,411.49 L253.11,412.49 L253.66,413.48 L254.21,414.48 L254.75,415.48 L255.29,416.49 L255.81,417.49 L256.34,418.50 L256.85,419.52 L257.35,420.54 L257.84,421.56 L258.31,422.59 L258.77,423.63 L259.22,424.68 L259.65,425.73 L260.06,426.79 L260.46,427.86 L260.83,428.94 L261.19,430.03 L261.52,431.13 L261.83,432.24 L240.09,432.25 L240.18,431.30 L240.24,430.34 L240.28,429.39 L240.30,428.44 L240.30,427.49 L240.28,426.54 L240.25,425.59 L240.19,424.65 L240.11,423.71 L240.01,422.78 L239.89,421.84 L239.74,420.92 L239.58,419.99 L239.40,419.07 L239.20,418.16 L238.97,417.25 L238.73,416.35 L238.47,415.46 L238.18,414.57 L237.88,413.69 L237.55,412.82 L237.20,411.95 L236.83,411.10 L236.45,410.25 L236.04,409.41 L235.61,408.58 L235.16,407.76 L234.69,406.95 L234.21,406.15 L233.71,405.35 L233.20,404.56 L232.67,403.77 L232.14,402.99 L231.59,402.22 L231.04,401.45 L230.48,400.68 L229.92,399.91 L229.36,399.15 L228.79,398.39 L228.22,397.63 L227.65,396.87 L227.08,396.11 L226.51,395.36 L225.94,394.60 L225.37,393.85 L224.79,393.09 L224.22,392.34 L223.64,391.58 L223.07,390.83 L222.49,390.08 L221.92,389.33 L221.34,388.58 L220.76,387.83 L220.18,387.08 L219.59,386.33 L219.01,385.58 L218.42,384.82 L217.84,384.07 L217.27,383.32 L216.69,382.56 L216.13,381.80 L215.59,381.04 L215.05,380.27 L214.54,379.49 L214.05,378.70 L213.57,377.91 L213.13,377.10 L212.71,376.29 L212.33,375.46 L211.98,374.62 L211.67,373.77 L211.39,372.91 L211.15,372.03 L210.94,371.14 L210.77,370.24 L210.64,369.33 L210.54,368.41 L210.47,367.48 L210.42,366.54 L210.40,365.59 L210.40,364.64 L210.43,363.68 L210.47,362.72 L210.52,361.76 L210.58,360.80 L210.66,359.84 L210.74,358.88 L210.83,357.92 L210.91,356.97Z" fill="#8e8a96" fill-opacity="0.22"/>
<path d="M206.60,355.24 L207.65,355.80 L208.70,356.36 L209.74,356.93 L210.79,357.52 L211.82,358.11 L212.86,358.71 L213.88,359.32 L214.91,359.93 L215.93,360.56 L216.95,361.19 L217.96,361.84 L218.97,362.49 L219.98,363.15 L220.98,363.82 L221.97,364.49 L222.96,365.18 L223.95,365.87 L224.93,366.57 L225.90,367.28 L226.88,368.00 L227.84,368.72 L228.80,369.46 L229.76,370.20 L230.70,370.95 L231.65,371.70 L232.59,372.47 L233.52,373.24 L234.44,374.02 L235.36,374.80 L236.28,375.60 L237.19,376.40 L238.09,377.21 L238.98,378.02 L239.87,378.85 L240.75,379.68 L241.63,380.51 L242.49,381.36 L243.35,382.21 L244.21,383.07 L245.05,383.93 L245.89,384.81 L246.72,385.68 L247.55,386.57 L248.36,387.46 L249.17,388.36 L249.97,389.27 L250.77,390.18 L251.55,391.10 L252.33,392.02 L253.10,392.95 L253.86,393.89 L254.61,394.83 L255.35,395.78 L256.09,396.73 L256.81,397.70 L257.53,398.66 L258.24,399.64 L258.94,400.61 L259.63,401.60 L260.31,402.59 L260.98,403.58 L261.64,404.59 L262.29,405.59 L262.93,406.60 L263.56,407.62 L264.19,408.65 L264.80,409.67 L265.40,410.71 L265.99,411.75 L266.58,412.79 L267.15,413.84 L267.71,414.89 L268.26,415.95 L268.80,417.02 L269.33,418.09 L269.84,419.16 L270.35,420.24 L270.84,421.32 L271.33,422.41 L271.80,423.50 L272.26,424.60 L272.71,425.70 L273.15,426.80 L273.58,427.91 L273.99,429.03 L274.39,430.15 L274.78,431.27 L275.16,432.39 L275.53,433.52 L268.92,433.56 L268.49,432.59 L268.05,431.62 L267.60,430.65 L267.14,429.69 L266.68,428.73 L266.21,427.77 L265.73,426.82 L265.25,425.87 L264.75,424.93 L264.26,423.99 L263.75,423.05 L263.24,422.12 L262.72,421.19 L262.20,420.27 L261.67,419.35 L261.13,418.43 L260.59,417.51 L260.04,416.60 L259.49,415.69 L258.92,414.79 L258.36,413.89 L257.79,412.99 L257.21,412.10 L256.62,411.21 L256.04,410.32 L255.44,409.44 L254.84,408.56 L254.24,407.68 L253.63,406.81 L253.01,405.94 L252.39,405.07 L251.76,404.21 L251.13,403.35 L250.50,402.49 L249.86,401.64 L249.21,400.78 L248.56,399.94 L247.91,399.09 L247.25,398.25 L246.59,397.41 L245.92,396.58 L245.25,395.74 L244.57,394.91 L243.89,394.09 L243.21,393.26 L242.52,392.44 L241.83,391.62 L241.14,390.81 L240.44,389.99 L239.74,389.18 L239.03,388.38 L238.32,387.57 L237.61,386.77 L236.89,385.97 L236.18,385.18 L235.45,384.38 L234.73,383.59 L234.00,382.80 L233.27,382.02 L232.54,381.23 L231.80,380.45 L231.06,379.67 L230.32,378.90 L229.58,378.12 L228.83,377.35 L228.08,376.59 L227.33,375.82 L226.58,375.06 L225.82,374.29 L225.06,373.53 L224.30,372.78 L223.54,372.02 L222.78,371.27 L222.01,370.52 L221.25,369.77 L220.48,369.03 L219.71,368.28 L218.94,367.54 L218.17,366.80 L217.40,366.07 L216.62,365.33 L215.85,364.60 L215.07,363.87 L214.29,363.14 L213.51,362.41 L212.73,361.68 L211.95,360.96 L211.17,360.24 L210.39,359.52Z" fill="#8e8a96" fill-opacity="0.22"/>
<path d="M206.31,358.08 L207.94,358.15 L209.56,358.24 L211.19,358.35 L212.81,358.48 L214.43,358.63 L216.05,358.80 L217.66,358.99 L219.28,359.20 L220.89,359.43 L222.49,359.69 L224.10,359.96 L225.70,360.25 L227.29,360.56 L228.89,360.89 L230.47,361.24 L232.06,361.61 L233.64,361.99 L235.21,362.40 L236.78,362.83 L238.34,363.27 L239.90,363.73 L241.45,364.21 L243.00,364.71 L244.54,365.23 L246.07,365.77 L247.59,366.33 L249.11,366.90 L250.62,367.49 L252.13,368.10 L253.62,368.73 L255.11,369.37 L256.59,370.04 L258.06,370.72 L259.52,371.41 L260.97,372.13 L262.42,372.86 L263.85,373.61 L265.28,374.38 L266.69,375.16 L268.10,375.96 L269.49,376.78 L270.87,377.61 L272.25,378.46 L273.61,379.32 L274.96,380.21 L276.29,381.11 L277.62,382.02 L278.94,382.95 L280.24,383.90 L281.53,384.86 L282.80,385.84 L284.07,386.83 L285.32,387.84 L286.56,388.87 L287.78,389.91 L288.99,390.96 L290.18,392.03 L291.36,393.12 L292.53,394.22 L293.68,395.33 L294.82,396.46 L295.94,397.61 L297.04,398.77 L298.13,399.94 L299.21,401.13 L300.26,402.33 L301.30,403.54 L302.33,404.77 L303.33,406.02 L304.32,407.27 L305.30,408.55 L306.25,409.83 L307.19,411.13 L308.10,412.44 L309.00,413.76 L309.88,415.10 L310.75,416.45 L311.59,417.82 L312.41,419.19 L313.22,420.58 L314.00,421.99 L314.76,423.40 L315.51,424.83 L316.23,426.27 L316.93,427.72 L317.61,429.18 L318.27,430.66 L318.91,432.15 L319.53,433.65 L283.87,433.75 L283.96,432.43 L284.03,431.11 L284.07,429.80 L284.08,428.49 L284.06,427.19 L284.01,425.89 L283.93,424.59 L283.83,423.30 L283.69,422.02 L283.53,420.74 L283.34,419.46 L283.12,418.20 L282.88,416.94 L282.60,415.69 L282.30,414.45 L281.98,413.22 L281.62,412.00 L281.24,410.79 L280.84,409.59 L280.40,408.40 L279.95,407.23 L279.46,406.06 L278.95,404.91 L278.42,403.77 L277.86,402.64 L277.27,401.53 L276.66,400.44 L276.03,399.35 L275.37,398.29 L274.69,397.24 L273.98,396.20 L273.25,395.19 L272.50,394.19 L271.73,393.21 L270.93,392.24 L270.10,391.30 L269.26,390.38 L268.39,389.47 L267.50,388.59 L266.59,387.73 L265.66,386.89 L264.71,386.06 L263.73,385.26 L262.74,384.48 L261.73,383.71 L260.71,382.96 L259.67,382.23 L258.61,381.51 L257.53,380.81 L256.45,380.13 L255.35,379.45 L254.23,378.80 L253.11,378.15 L251.97,377.52 L250.83,376.90 L249.67,376.29 L248.51,375.69 L247.34,375.10 L246.16,374.52 L244.97,373.96 L243.78,373.39 L242.59,372.84 L241.39,372.29 L240.19,371.75 L238.99,371.22 L237.78,370.69 L236.58,370.17 L235.37,369.65 L234.17,369.13 L232.96,368.62 L231.76,368.10 L230.57,367.59 L229.37,367.09 L228.18,366.58 L226.99,366.08 L225.80,365.58 L224.62,365.08 L223.44,364.58 L222.26,364.09 L221.09,363.59 L219.92,363.10 L218.75,362.61 L217.59,362.12 L216.43,361.64 L215.27,361.15 L214.12,360.67 L212.97,360.19 L211.83,359.71 L210.69,359.23Z" fill="#8e8a96" fill-opacity="0.22"/>
<path d="M210.60,359.22 L211.88,359.82 L213.15,360.42 L214.43,361.03 L215.71,361.63 L216.98,362.23 L218.26,362.83 L219.54,363.43 L220.82,364.03 L222.10,364.63 L223.37,365.22 L224.66,365.82 L225.94,366.41 L227.22,367.00 L228.51,367.59 L229.80,368.17 L231.08,368.75 L232.38,369.33 L233.67,369.91 L234.97,370.48 L236.27,371.05 L237.57,371.61 L238.88,372.17 L240.19,372.73 L241.50,373.28 L242.82,373.83 L244.13,374.38 L245.45,374.92 L246.78,375.46 L248.10,376.01 L249.42,376.56 L250.74,377.10 L252.05,377.65 L253.37,378.21 L254.68,378.77 L255.99,379.34 L257.30,379.91 L258.59,380.49 L259.89,381.08 L261.18,381.69 L262.46,382.30 L263.73,382.92 L264.99,383.56 L266.25,384.21 L267.49,384.87 L268.73,385.55 L269.95,386.25 L271.16,386.96 L272.36,387.69 L273.55,388.45 L274.72,389.22 L275.88,390.01 L277.03,390.83 L278.16,391.67 L279.27,392.52 L280.37,393.40 L281.45,394.31 L282.51,395.23 L283.55,396.17 L284.58,397.13 L285.58,398.11 L286.57,399.11 L287.54,400.13 L288.48,401.17 L289.41,402.22 L290.31,403.30 L291.20,404.39 L292.06,405.50 L292.89,406.63 L293.71,407.77 L294.50,408.93 L295.26,410.11 L296.00,411.30 L296.71,412.51 L297.40,413.73 L298.06,414.97 L298.70,416.22 L299.31,417.49 L299.89,418.77 L300.44,420.07 L300.96,421.38 L301.45,422.70 L301.91,424.04 L302.35,425.38 L302.75,426.74 L303.12,428.12 L303.45,429.50 L303.76,430.89 L304.03,432.30 L304.27,433.72 L296.59,433.70 L296.39,432.36 L296.16,431.03 L295.90,429.70 L295.61,428.38 L295.30,427.07 L294.96,425.77 L294.59,424.47 L294.19,423.19 L293.77,421.91 L293.32,420.65 L292.84,419.39 L292.34,418.15 L291.81,416.92 L291.26,415.70 L290.69,414.49 L290.09,413.29 L289.46,412.11 L288.82,410.93 L288.15,409.78 L287.46,408.63 L286.74,407.50 L286.00,406.39 L285.25,405.28 L284.47,404.20 L283.67,403.13 L282.85,402.07 L282.00,401.04 L281.14,400.01 L280.26,399.01 L279.36,398.02 L278.45,397.05 L277.51,396.10 L276.55,395.17 L275.58,394.25 L274.59,393.35 L273.58,392.48 L272.56,391.62 L271.52,390.79 L270.47,389.97 L269.39,389.18 L268.31,388.40 L267.21,387.65 L266.09,386.91 L264.97,386.19 L263.83,385.49 L262.68,384.80 L261.52,384.13 L260.35,383.47 L259.16,382.82 L257.97,382.19 L256.78,381.57 L255.57,380.96 L254.36,380.36 L253.14,379.76 L251.92,379.18 L250.69,378.60 L249.46,378.02 L248.23,377.45 L246.99,376.89 L245.75,376.32 L244.51,375.76 L243.28,375.21 L242.04,374.65 L240.80,374.09 L239.56,373.53 L238.33,372.97 L237.09,372.40 L235.87,371.83 L234.64,371.26 L233.42,370.68 L232.20,370.10 L230.98,369.52 L229.77,368.93 L228.56,368.34 L227.35,367.75 L226.14,367.15 L224.94,366.56 L223.74,365.96 L222.54,365.35 L221.34,364.75 L220.14,364.14 L218.94,363.53 L217.75,362.92 L216.56,362.31 L215.36,361.69 L214.17,361.08 L212.98,360.46 L211.79,359.84 L210.61,359.22Z" fill="#8e8a96" fill-opacity="0.22"/>
<path d="M206.62,356.75 L208.19,356.97 L209.77,357.20 L211.37,357.43 L212.98,357.66 L214.60,357.91 L216.22,358.16 L217.86,358.41 L219.51,358.67 L221.17,358.95 L222.83,359.22 L224.50,359.51 L226.18,359.81 L227.86,360.11 L229.55,360.43 L231.24,360.75 L232.93,361.09 L234.63,361.43 L236.34,361.79 L238.04,362.15 L239.74,362.53 L241.45,362.92 L243.16,363.32 L244.86,363.74 L246.56,364.16 L248.27,364.60 L249.97,365.06 L251.66,365.53 L253.35,366.01 L255.04,366.50 L256.73,367.01 L258.40,367.54 L260.07,368.08 L261.74,368.64 L263.39,369.21 L265.04,369.80 L266.68,370.41 L268.31,371.03 L269.93,371.68 L271.54,372.34 L273.14,373.01 L274.72,373.71 L276.29,374.42 L277.85,375.16 L279.40,375.91 L280.93,376.69 L282.44,377.48 L283.94,378.30 L285.43,379.13 L286.89,379.99 L288.34,380.87 L289.77,381.77 L291.18,382.69 L292.57,383.64 L293.94,384.61 L295.29,385.60 L296.62,386.61 L297.92,387.65 L299.21,388.72 L300.46,389.80 L301.70,390.92 L302.91,392.06 L304.09,393.22 L305.25,394.41 L306.38,395.63 L307.48,396.87 L308.56,398.13 L309.60,399.42 L310.62,400.74 L311.60,402.08 L312.55,403.45 L313.47,404.84 L314.35,406.25 L315.20,407.69 L316.01,409.15 L316.78,410.64 L317.52,412.15 L318.22,413.69 L318.88,415.24 L319.50,416.83 L320.08,418.43 L320.62,420.06 L321.12,421.71 L321.57,423.39 L321.98,425.09 L322.35,426.81 L322.66,428.56 L322.93,430.33 L323.16,432.12 L323.33,433.93 L305.68,433.85 L305.44,432.32 L305.17,430.82 L304.87,429.33 L304.53,427.87 L304.16,426.43 L303.77,425.01 L303.34,423.61 L302.88,422.22 L302.40,420.86 L301.88,419.52 L301.34,418.20 L300.77,416.90 L300.17,415.61 L299.54,414.35 L298.89,413.10 L298.21,411.88 L297.51,410.67 L296.78,409.48 L296.03,408.30 L295.25,407.15 L294.45,406.01 L293.63,404.89 L292.78,403.79 L291.91,402.70 L291.02,401.63 L290.11,400.58 L289.18,399.55 L288.22,398.53 L287.25,397.52 L286.26,396.53 L285.25,395.56 L284.22,394.61 L283.17,393.66 L282.11,392.74 L281.03,391.83 L279.93,390.93 L278.82,390.05 L277.69,389.18 L276.54,388.33 L275.38,387.49 L274.21,386.66 L273.02,385.85 L271.82,385.05 L270.61,384.26 L269.39,383.49 L268.15,382.73 L266.90,381.98 L265.64,381.25 L264.38,380.53 L263.10,379.81 L261.81,379.12 L260.51,378.43 L259.21,377.75 L257.90,377.09 L256.58,376.43 L255.25,375.79 L253.91,375.16 L252.57,374.54 L251.23,373.93 L249.88,373.33 L248.52,372.73 L247.16,372.15 L245.80,371.58 L244.44,371.02 L243.07,370.46 L241.70,369.92 L240.32,369.38 L238.95,368.86 L237.58,368.34 L236.20,367.83 L234.83,367.33 L233.45,366.83 L232.08,366.34 L230.71,365.86 L229.34,365.39 L227.97,364.93 L226.61,364.47 L225.25,364.01 L223.89,363.57 L222.54,363.13 L221.19,362.70 L219.85,362.27 L218.52,361.85 L217.19,361.43 L215.86,361.02 L214.55,360.61 L213.24,360.21 L211.94,359.82 L210.65,359.43Z" fill="#8e8a96" fill-opacity="0.22"/>
<path d="M211.82,359.31 L213.26,359.66 L214.70,360.02 L216.13,360.40 L217.57,360.78 L219.00,361.17 L220.44,361.56 L221.87,361.97 L223.30,362.39 L224.73,362.82 L226.16,363.26 L227.59,363.71 L229.01,364.16 L230.44,364.63 L231.86,365.11 L233.28,365.59 L234.70,366.09 L236.11,366.60 L237.53,367.11 L238.94,367.63 L240.35,368.17 L241.75,368.71 L243.15,369.27 L244.55,369.83 L245.95,370.40 L247.34,370.98 L248.73,371.58 L250.12,372.18 L251.50,372.79 L252.88,373.41 L254.25,374.04 L255.62,374.68 L256.99,375.32 L258.35,375.98 L259.71,376.65 L261.06,377.33 L262.41,378.01 L263.75,378.71 L265.09,379.42 L266.43,380.13 L267.75,380.86 L269.08,381.59 L270.39,382.33 L271.70,383.09 L273.01,383.85 L274.30,384.63 L275.59,385.41 L276.87,386.21 L278.14,387.02 L279.41,387.84 L280.66,388.67 L281.90,389.52 L283.13,390.37 L284.34,391.24 L285.55,392.13 L286.74,393.03 L287.92,393.94 L289.09,394.87 L290.24,395.81 L291.38,396.77 L292.50,397.74 L293.60,398.73 L294.69,399.73 L295.76,400.75 L296.81,401.79 L297.85,402.84 L298.86,403.91 L299.85,405.00 L300.83,406.10 L301.78,407.22 L302.70,408.36 L303.61,409.52 L304.49,410.70 L305.35,411.89 L306.18,413.11 L306.99,414.34 L307.76,415.59 L308.52,416.86 L309.24,418.16 L309.94,419.47 L310.60,420.80 L311.24,422.15 L311.85,423.53 L312.42,424.92 L312.97,426.34 L313.48,427.78 L313.95,429.24 L314.40,430.72 L314.80,432.23 L315.18,433.76 L299.28,433.89 L299.47,432.33 L299.59,430.79 L299.66,429.27 L299.68,427.78 L299.63,426.30 L299.54,424.84 L299.39,423.40 L299.19,421.98 L298.95,420.58 L298.65,419.20 L298.31,417.84 L297.92,416.50 L297.48,415.18 L297.01,413.88 L296.49,412.60 L295.93,411.34 L295.33,410.09 L294.69,408.87 L294.01,407.67 L293.30,406.48 L292.55,405.32 L291.77,404.17 L290.96,403.05 L290.12,401.94 L289.25,400.86 L288.35,399.79 L287.42,398.74 L286.46,397.71 L285.48,396.70 L284.48,395.72 L283.46,394.75 L282.41,393.79 L281.35,392.86 L280.26,391.95 L279.16,391.05 L278.04,390.16 L276.90,389.30 L275.75,388.45 L274.59,387.61 L273.41,386.79 L272.22,385.98 L271.02,385.18 L269.81,384.40 L268.59,383.63 L267.36,382.87 L266.13,382.12 L264.88,381.39 L263.64,380.66 L262.39,379.94 L261.13,379.23 L259.88,378.53 L258.61,377.84 L257.35,377.16 L256.07,376.49 L254.80,375.83 L253.52,375.18 L252.24,374.54 L250.95,373.91 L249.66,373.29 L248.36,372.67 L247.06,372.07 L245.76,371.48 L244.45,370.90 L243.14,370.33 L241.83,369.76 L240.51,369.21 L239.19,368.67 L237.87,368.14 L236.54,367.62 L235.21,367.11 L233.87,366.60 L232.53,366.11 L231.19,365.63 L229.85,365.16 L228.50,364.70 L227.15,364.25 L225.79,363.81 L224.43,363.38 L223.07,362.96 L221.71,362.55 L220.34,362.16 L218.97,361.77 L217.60,361.39 L216.23,361.02 L214.85,360.67 L213.47,360.32 L212.08,359.99 L210.70,359.66 L209.31,359.35Z" fill="#ec6a52" fill-opacity="0.46" stroke="#e05a48" stroke-opacity="0.55" stroke-width="0.5"/>
<path d="M210.70,359.43 L211.52,359.99 L212.30,360.58 L213.05,361.20 L213.75,361.85 L214.43,362.52 L215.07,363.22 L215.68,363.94 L216.27,364.67 L216.83,365.43 L217.37,366.20 L217.89,366.98 L218.39,367.78 L218.87,368.59 L219.35,369.41 L219.81,370.23 L220.27,371.06 L220.72,371.90 L221.16,372.74 L221.61,373.58 L222.05,374.42 L222.50,375.26 L222.96,376.09 L223.42,376.92 L223.90,377.75 L224.38,378.56 L224.86,379.38 L225.36,380.19 L225.86,380.99 L226.37,381.79 L226.88,382.59 L227.39,383.38 L227.92,384.17 L228.44,384.96 L228.97,385.75 L229.51,386.53 L230.04,387.31 L230.58,388.09 L231.12,388.87 L231.67,389.65 L232.21,390.43 L232.76,391.21 L233.30,391.99 L233.85,392.77 L234.40,393.55 L234.94,394.33 L235.48,395.11 L236.03,395.89 L236.57,396.68 L237.10,397.46 L237.64,398.25 L238.17,399.04 L238.70,399.84 L239.22,400.63 L239.74,401.43 L240.25,402.23 L240.75,403.04 L241.25,403.84 L241.74,404.65 L242.23,405.47 L242.70,406.29 L243.17,407.11 L243.63,407.93 L244.08,408.76 L244.52,409.60 L244.95,410.44 L245.37,411.28 L245.77,412.13 L246.17,412.98 L246.55,413.84 L246.92,414.70 L247.27,415.57 L247.62,416.44 L247.94,417.32 L248.26,418.21 L248.55,419.10 L248.83,420.00 L249.10,420.90 L249.35,421.81 L249.58,422.73 L249.79,423.66 L249.98,424.59 L250.16,425.53 L250.31,426.47 L250.45,427.43 L250.57,428.39 L250.66,429.36 L250.73,430.33 L250.79,431.32 L250.82,432.31" fill="none" stroke="#8c8c96" stroke-opacity="0.25" stroke-width="0.7"/>
<path d="M210.56,359.32 L211.48,359.95 L212.39,360.58 L213.29,361.22 L214.18,361.88 L215.06,362.54 L215.94,363.21 L216.81,363.88 L217.68,364.57 L218.54,365.26 L219.39,365.96 L220.24,366.67 L221.08,367.38 L221.92,368.10 L222.75,368.83 L223.58,369.56 L224.40,370.29 L225.22,371.04 L226.03,371.78 L226.84,372.53 L227.65,373.29 L228.46,374.04 L229.26,374.80 L230.05,375.57 L230.85,376.34 L231.64,377.11 L232.43,377.88 L233.21,378.66 L234.00,379.44 L234.78,380.22 L235.55,381.01 L236.33,381.80 L237.10,382.59 L237.86,383.39 L238.63,384.19 L239.39,384.99 L240.14,385.80 L240.90,386.61 L241.65,387.42 L242.39,388.24 L243.13,389.06 L243.87,389.88 L244.61,390.71 L245.34,391.53 L246.07,392.36 L246.80,393.20 L247.52,394.04 L248.23,394.88 L248.95,395.72 L249.66,396.57 L250.36,397.42 L251.06,398.28 L251.76,399.13 L252.45,399.99 L253.14,400.86 L253.82,401.73 L254.49,402.60 L255.16,403.47 L255.83,404.35 L256.49,405.23 L257.15,406.12 L257.79,407.01 L258.44,407.90 L259.08,408.80 L259.71,409.70 L260.33,410.60 L260.95,411.51 L261.56,412.43 L262.17,413.34 L262.77,414.26 L263.36,415.19 L263.95,416.12 L264.53,417.05 L265.10,417.99 L265.66,418.93 L266.22,419.87 L266.77,420.82 L267.31,421.77 L267.85,422.73 L268.37,423.69 L268.89,424.66 L269.40,425.63 L269.90,426.61 L270.40,427.59 L270.88,428.57 L271.36,429.56 L271.83,430.55 L272.29,431.55 L272.74,432.55 L273.18,433.56" fill="none" stroke="#8c8c96" stroke-opacity="0.25" stroke-width="0.7"/>
<path d="M210.58,359.36 L211.94,359.61 L213.30,359.87 L214.67,360.14 L216.04,360.42 L217.42,360.71 L218.79,361.02 L220.17,361.34 L221.55,361.67 L222.94,362.02 L224.32,362.38 L225.71,362.74 L227.09,363.13 L228.47,363.52 L229.86,363.93 L231.24,364.35 L232.62,364.78 L234.00,365.23 L235.38,365.68 L236.76,366.16 L238.13,366.64 L239.50,367.14 L240.87,367.65 L242.23,368.17 L243.59,368.71 L244.94,369.26 L246.29,369.82 L247.63,370.39 L248.97,370.98 L250.30,371.58 L251.62,372.20 L252.94,372.83 L254.25,373.47 L255.55,374.13 L256.84,374.80 L258.13,375.48 L259.40,376.18 L260.67,376.89 L261.93,377.61 L263.17,378.35 L264.41,379.10 L265.63,379.87 L266.85,380.65 L268.05,381.44 L269.24,382.25 L270.42,383.07 L271.59,383.90 L272.74,384.75 L273.88,385.62 L275.00,386.50 L276.11,387.39 L277.21,388.29 L278.29,389.22 L279.36,390.15 L280.41,391.10 L281.44,392.06 L282.46,393.04 L283.46,394.04 L284.44,395.04 L285.40,396.07 L286.35,397.10 L287.28,398.16 L288.19,399.22 L289.08,400.30 L289.95,401.40 L290.80,402.51 L291.63,403.64 L292.44,404.78 L293.23,405.94 L293.99,407.11 L294.74,408.30 L295.46,409.50 L296.16,410.72 L296.84,411.95 L297.49,413.20 L298.12,414.46 L298.72,415.74 L299.30,417.03 L299.86,418.34 L300.39,419.67 L300.89,421.01 L301.37,422.36 L301.82,423.74 L302.25,425.12 L302.65,426.53 L303.01,427.95 L303.36,429.38 L303.67,430.83 L303.95,432.30 L304.21,433.78" fill="none" stroke="#8c8c96" stroke-opacity="0.25" stroke-width="0.7"/>
<path d="M210.56,359.28 L211.85,359.81 L213.13,360.35 L214.40,360.91 L215.66,361.47 L216.92,362.05 L218.18,362.63 L219.42,363.23 L220.67,363.82 L221.91,364.43 L223.15,365.04 L224.38,365.65 L225.61,366.27 L226.84,366.89 L228.08,367.50 L229.31,368.12 L230.54,368.74 L231.77,369.36 L233.01,369.97 L234.25,370.58 L235.49,371.18 L236.74,371.78 L237.99,372.37 L239.25,372.95 L240.52,373.53 L241.79,374.09 L243.06,374.65 L244.34,375.21 L245.62,375.76 L246.90,376.31 L248.18,376.86 L249.47,377.41 L250.75,377.96 L252.03,378.51 L253.31,379.07 L254.59,379.63 L255.86,380.20 L257.13,380.77 L258.39,381.35 L259.64,381.94 L260.89,382.55 L262.13,383.16 L263.36,383.79 L264.58,384.43 L265.80,385.08 L267.00,385.76 L268.18,386.45 L269.36,387.16 L270.52,387.89 L271.67,388.64 L272.80,389.42 L273.91,390.22 L275.01,391.04 L276.09,391.89 L277.15,392.76 L278.20,393.65 L279.23,394.56 L280.23,395.50 L281.22,396.45 L282.19,397.43 L283.15,398.43 L284.08,399.44 L284.99,400.48 L285.88,401.53 L286.75,402.60 L287.60,403.69 L288.42,404.79 L289.23,405.91 L290.01,407.05 L290.77,408.20 L291.51,409.37 L292.22,410.55 L292.91,411.75 L293.57,412.95 L294.22,414.17 L294.83,415.41 L295.42,416.65 L295.99,417.91 L296.53,419.17 L297.05,420.45 L297.53,421.73 L297.99,423.03 L298.43,424.33 L298.84,425.64 L299.21,426.96 L299.56,428.28 L299.89,429.62 L300.18,430.95 L300.44,432.30 L300.68,433.65" fill="none" stroke="#8c8c96" stroke-opacity="0.25" stroke-width="0.7"/>
<path d="M210.61,359.44 L212.04,359.71 L213.48,359.98 L214.93,360.26 L216.38,360.55 L217.85,360.84 L219.32,361.13 L220.80,361.44 L222.29,361.75 L223.78,362.06 L225.28,362.39 L226.79,362.72 L228.30,363.06 L229.81,363.40 L231.33,363.76 L232.85,364.12 L234.37,364.49 L235.90,364.87 L237.43,365.26 L238.95,365.66 L240.48,366.07 L242.01,366.50 L243.53,366.93 L245.06,367.37 L246.58,367.82 L248.10,368.29 L249.62,368.77 L251.13,369.25 L252.64,369.76 L254.14,370.27 L255.64,370.80 L257.13,371.34 L258.62,371.89 L260.10,372.46 L261.57,373.05 L263.03,373.64 L264.49,374.25 L265.93,374.88 L267.37,375.52 L268.80,376.18 L270.21,376.86 L271.61,377.55 L273.01,378.26 L274.38,378.98 L275.75,379.72 L277.10,380.48 L278.44,381.26 L279.76,382.05 L281.07,382.87 L282.36,383.70 L283.64,384.55 L284.90,385.42 L286.14,386.31 L287.36,387.22 L288.56,388.15 L289.75,389.10 L290.91,390.07 L292.06,391.07 L293.18,392.08 L294.28,393.12 L295.36,394.17 L296.42,395.25 L297.46,396.36 L298.47,397.48 L299.45,398.63 L300.41,399.80 L301.35,400.99 L302.26,402.21 L303.13,403.45 L303.98,404.70 L304.80,405.98 L305.59,407.28 L306.34,408.60 L307.06,409.94 L307.75,411.30 L308.40,412.68 L309.02,414.07 L309.59,415.49 L310.13,416.92 L310.63,418.38 L311.09,419.84 L311.51,421.33 L311.89,422.84 L312.22,424.36 L312.51,425.90 L312.75,427.45 L312.95,429.02 L313.10,430.60 L313.20,432.21 L313.25,433.82" fill="none" stroke="#8c8c96" stroke-opacity="0.25" stroke-width="0.7"/>
<path d="M210.51,359.38 L211.97,359.67 L213.42,359.98 L214.87,360.30 L216.32,360.64 L217.75,360.99 L219.19,361.36 L220.62,361.74 L222.04,362.13 L223.46,362.54 L224.87,362.96 L226.28,363.40 L227.68,363.84 L229.08,364.30 L230.47,364.77 L231.86,365.26 L233.25,365.75 L234.63,366.26 L236.01,366.78 L237.38,367.31 L238.75,367.85 L240.11,368.41 L241.47,368.97 L242.82,369.54 L244.18,370.13 L245.52,370.72 L246.87,371.32 L248.21,371.94 L249.55,372.56 L250.88,373.19 L252.21,373.83 L253.53,374.48 L254.86,375.14 L256.18,375.80 L257.49,376.48 L258.81,377.16 L260.12,377.84 L261.42,378.54 L262.73,379.24 L264.03,379.95 L265.32,380.67 L266.62,381.39 L267.91,382.12 L269.20,382.86 L270.48,383.60 L271.76,384.35 L273.03,385.12 L274.30,385.89 L275.55,386.67 L276.80,387.47 L278.04,388.27 L279.26,389.10 L280.48,389.93 L281.68,390.78 L282.87,391.65 L284.04,392.53 L285.20,393.43 L286.34,394.34 L287.46,395.28 L288.57,396.23 L289.66,397.21 L290.73,398.20 L291.77,399.21 L292.80,400.25 L293.81,401.30 L294.79,402.37 L295.75,403.46 L296.68,404.57 L297.59,405.70 L298.47,406.85 L299.33,408.02 L300.16,409.21 L300.96,410.42 L301.73,411.64 L302.47,412.89 L303.18,414.15 L303.86,415.43 L304.51,416.73 L305.12,418.05 L305.70,419.39 L306.24,420.74 L306.75,422.12 L307.23,423.51 L307.66,424.92 L308.06,426.35 L308.42,427.79 L308.74,429.25 L309.02,430.74 L309.26,432.24 L309.45,433.75" fill="none" stroke="#a8182a" stroke-width="0.8"/>
</g>
<circle cx="212.0" cy="359.2" r="0.60" fill="#7a2a3a" fill-opacity="0.35"/>
<circle cx="212.9" cy="359.2" r="0.60" fill="#7a2a3a" fill-opacity="0.35"/>
<circle cx="216.3" cy="360.0" r="0.60" fill="#7a2a3a" fill-opacity="0.35"/>
<circle cx="216.3" cy="361.4" r="0.60" fill="#7a2a3a" fill-opacity="0.35"/>
<circle cx="218.9" cy="360.4" r="0.60" fill="#7a2a3a" fill-opacity="0.35"/>
<circle cx="222.1" cy="360.2" r="0.60" fill="#7a2a3a" fill-opacity="0.35"/>
<circle cx="222.1" cy="361.5" r="0.60" fill="#7a2a3a" fill-opacity="0.35"/>
<circle cx="222.1" cy="362.7" r="0.60" fill="#7a2a3a" fill-opacity="0.35"/>
<circle cx="222.1" cy="364.0" r="0.60" fill="#7a2a3a" fill-opacity="0.35"/>
<circle cx="222.1" cy="365.1" r="0.60" fill="#7a2a3a" fill-opacity="0.35"/>
<circle cx="227.9" cy="360.9" r="0.60" fill="#7a2a3a" fill-opacity="0.35"/>
<circle cx="227.9" cy="363.9" r="0.60" fill="#7a2a3a" fill-opacity="0.35"/>
<circle cx="227.9" cy="364.8" r="0.60" fill="#7a2a3a" fill-opacity="0.35"/>
<circle cx="227.9" cy="365.8" r="0.60" fill="#7a2a3a" fill-opacity="0.35"/>
<circle cx="227.9" cy="366.6" r="0.60" fill="#7a2a3a" fill-opacity="0.35"/>
<circle cx="230.7" cy="366.4" r="0.60" fill="#7a2a3a" fill-opacity="0.35"/>
<circle cx="233.6" cy="363.3" r="0.60" fill="#7a2a3a" fill-opacity="0.35"/>
<circle cx="239.6" cy="364.7" r="0.60" fill="#7a2a3a" fill-opacity="0.35"/>
<circle cx="239.6" cy="365.8" r="0.60" fill="#7a2a3a" fill-opacity="0.35"/>
<circle cx="239.6" cy="367.7" r="0.60" fill="#7a2a3a" fill-opacity="0.35"/>
<circle cx="239.6" cy="368.7" r="0.60" fill="#7a2a3a" fill-opacity="0.35"/>
<circle cx="239.6" cy="369.7" r="0.60" fill="#7a2a3a" fill-opacity="0.35"/>
<circle cx="239.6" cy="370.7" r="0.60" fill="#7a2a3a" fill-opacity="0.35"/>
<circle cx="245.3" cy="373.3" r="0.60" fill="#7a2a3a" fill-opacity="0.35"/>
<circle cx="251.0" cy="368.5" r="0.60" fill="#7a2a3a" fill-opacity="0.35"/>
<circle cx="251.0" cy="369.5" r="0.60" fill="#7a2a3a" fill-opacity="0.35"/>
<circle cx="251.0" cy="370.5" r="0.60" fill="#7a2a3a" fill-opacity="0.35"/>
<circle cx="251.0" cy="377.3" r="0.60" fill="#7a2a3a" fill-opacity="0.35"/>
<circle cx="251.0" cy="378.8" r="0.60" fill="#7a2a3a" fill-opacity="0.35"/>
<circle cx="256.9" cy="375.9" r="0.60" fill="#7a2a3a" fill-opacity="0.35"/>
<circle cx="262.7" cy="374.2" r="0.60" fill="#7a2a3a" fill-opacity="0.35"/>
<circle cx="262.7" cy="375.0" r="0.60" fill="#7a2a3a" fill-opacity="0.35"/>
<circle cx="262.7" cy="380.2" r="0.60" fill="#7a2a3a" fill-opacity="0.35"/>
<circle cx="262.7" cy="389.9" r="0.60" fill="#7a2a3a" fill-opacity="0.35"/>
<circle cx="274.2" cy="378.0" r="0.60" fill="#7a2a3a" fill-opacity="0.35"/>
<circle cx="274.2" cy="381.8" r="0.60" fill="#7a2a3a" fill-opacity="0.35"/>
<circle cx="274.2" cy="383.7" r="0.60" fill="#7a2a3a" fill-opacity="0.35"/>
<circle cx="274.2" cy="387.3" r="0.60" fill="#7a2a3a" fill-opacity="0.35"/>
<circle cx="274.2" cy="393.7" r="0.60" fill="#7a2a3a" fill-opacity="0.35"/>
<circle cx="285.8" cy="396.7" r="0.60" fill="#7a2a3a" fill-opacity="0.35"/>
<circle cx="285.9" cy="401.8" r="0.60" fill="#7a2a3a" fill-opacity="0.35"/>
<circle cx="285.9" cy="410.2" r="0.60" fill="#7a2a3a" fill-opacity="0.35"/>
<circle cx="291.6" cy="389.1" r="0.60" fill="#7a2a3a" fill-opacity="0.35"/>
<circle cx="297.4" cy="397.9" r="0.60" fill="#7a2a3a" fill-opacity="0.35"/>
<circle cx="297.4" cy="403.1" r="0.60" fill="#7a2a3a" fill-opacity="0.35"/>
<circle cx="297.4" cy="408.2" r="0.60" fill="#7a2a3a" fill-opacity="0.35"/>
<circle cx="297.4" cy="412.1" r="0.60" fill="#7a2a3a" fill-opacity="0.35"/>
<circle cx="303.2" cy="423.0" r="0.60" fill="#7a2a3a" fill-opacity="0.35"/>
<circle cx="320.5" cy="416.9" r="0.60" fill="#7a2a3a" fill-opacity="0.35"/>
<circle cx="297.4" cy="431.0" r="0.60" fill="#7a2a3a" fill-opacity="0.35"/>
<g stroke="#222" stroke-width="1.15" fill="none">
<path d="M210.50,356.90 V432.20 H336.70"/>
<path d="M210.50,432.20v1.80M235.30,432.20v1.80M260.10,432.20v1.80M284.90,432.20v1.80M309.70,432.20v1.80M334.50,432.20v1.80M210.50,359.40h-1.80M210.50,387.10h-1.80M210.50,414.80h-1.80M210.50,432.20h-1.80"/>
<path d="M212.98,432.20v1.30M215.46,432.20v1.30M217.94,432.20v1.30M220.42,432.20v1.30M222.90,432.20v1.30M225.38,432.20v1.30M227.86,432.20v1.30M230.34,432.20v1.30M232.82,432.20v1.30M237.78,432.20v1.30M240.26,432.20v1.30M242.74,432.20v1.30M245.22,432.20v1.30M247.70,432.20v1.30M250.18,432.20v1.30M252.66,432.20v1.30M255.14,432.20v1.30M257.62,432.20v1.30M262.58,432.20v1.30M265.06,432.20v1.30M267.54,432.20v1.30M270.02,432.20v1.30M272.50,432.20v1.30M274.98,432.20v1.30M277.46,432.20v1.30M279.94,432.20v1.30M282.42,432.20v1.30M287.38,432.20v1.30M289.86,432.20v1.30M292.34,432.20v1.30M294.82,432.20v1.30M297.30,432.20v1.30M299.78,432.20v1.30M302.26,432.20v1.30M304.74,432.20v1.30M307.22,432.20v1.30M312.18,432.20v1.30M314.66,432.20v1.30M317.14,432.20v1.30M319.62,432.20v1.30M322.10,432.20v1.30M324.58,432.20v1.30M327.06,432.20v1.30M329.54,432.20v1.30M332.02,432.20v1.30M210.50,360.64h-1.30M210.50,361.87h-1.30M210.50,363.30h-1.30M210.50,364.78h-1.30M210.50,366.63h-1.30M210.50,368.68h-1.30M210.50,371.16h-1.30M210.50,374.73h-1.30M210.50,379.44h-1.30M210.50,387.91h-1.30M210.50,388.91h-1.30M210.50,389.91h-1.30M210.50,390.91h-1.30M210.50,392.24h-1.30M210.50,393.95h-1.30M210.50,395.62h-1.30M210.50,397.62h-1.30M210.50,399.62h-1.30M210.50,401.95h-1.30M210.50,404.61h-1.30M210.50,406.99h-1.30" stroke-width="1.15"/>
</g>
<g font-family="Liberation Sans, sans-serif" font-size="7.4" fill="#2a2a2a" stroke="#2a2a2a" stroke-width="0.2" text-anchor="end">
<text x="206.00" y="361.95">1</text>
<text x="206.00" y="389.65">0.3</text>
<text x="206.00" y="417.35">0.1</text>
<text x="206.00" y="434.75">0.05</text>
</g>
<g font-family="Liberation Sans, sans-serif" font-size="7.4" fill="#2a2a2a" stroke="#2a2a2a" stroke-width="0.2" text-anchor="middle">
<text x="210.50" y="444.85">0</text>
<text x="235.30" y="444.85">30</text>
<text x="260.10" y="444.85">60</text>
<text x="284.90" y="444.85">90</text>
<text x="309.70" y="444.85">120</text>
<text x="334.50" y="444.85">150</text>
</g>
<text font-family="Liberation Sans, sans-serif" font-size="8.2" font-weight="bold" fill="#1a1a1a" x="-31.95" y="0" textLength="63.9" lengthAdjust="spacingAndGlyphs" transform="translate(184.20,393.75) rotate(-90)">Fractional RBC survival</text>
<text font-family="Liberation Sans, sans-serif" font-size="9" font-weight="bold" fill="#1a1a1a" x="267.80" y="457.10" textLength="13.1" lengthAdjust="spacingAndGlyphs">Days</text>
<text font-family="Liberation Sans, sans-serif" font-size="8.2" fill="#2a2a2a" stroke="#2a2a2a" stroke-width="0.08" x="248.50" y="351.40" textLength="50.8" lengthAdjust="spacing">β<tspan dy="-3.3" font-size="6.8">A</tspan><tspan dy="3.3">β</tspan><tspan dy="-3.3" font-size="6.8">S</tspan><tspan dy="3.3"> (N = 6)</tspan></text>
<g clip-path="url(#cB21)">
<path d="M377.32,358.96 L378.26,358.79 L379.28,358.63 L380.36,358.47 L381.50,358.33 L382.68,358.20 L383.89,358.11 L385.14,358.04 L386.40,358.00 L387.66,358.00 L388.93,358.05 L390.18,358.14 L391.42,358.29 L392.62,358.49 L393.78,358.76 L394.90,359.10 L395.95,359.50 L396.94,359.99 L397.85,360.56 L398.67,361.21 L399.40,361.95 L400.04,362.77 L400.60,363.66 L401.08,364.61 L401.49,365.62 L401.84,366.66 L402.12,367.74 L402.36,368.85 L402.55,369.98 L402.71,371.12 L402.85,372.28 L402.97,373.45 L403.10,374.62 L403.23,375.78 L403.38,376.94 L403.56,378.09 L403.78,379.22 L404.04,380.33 L404.37,381.41 L404.76,382.45 L405.22,383.46 L405.76,384.44 L406.35,385.39 L407.00,386.31 L407.67,387.23 L408.37,388.13 L409.09,389.02 L409.80,389.92 L410.51,390.83 L411.19,391.74 L411.85,392.68 L412.49,393.62 L413.11,394.58 L413.71,395.54 L414.30,396.52 L414.88,397.50 L415.44,398.49 L416.00,399.48 L416.55,400.48 L417.09,401.48 L417.63,402.49 L418.17,403.49 L418.71,404.50 L419.25,405.50 L419.79,406.51 L420.34,407.51 L420.89,408.50 L421.45,409.50 L422.00,410.50 L422.56,411.49 L423.11,412.49 L423.66,413.48 L424.21,414.48 L424.75,415.48 L425.29,416.49 L425.81,417.49 L426.34,418.50 L426.85,419.52 L427.35,420.54 L427.84,421.56 L428.31,422.59 L428.77,423.63 L429.22,424.68 L429.65,425.73 L430.06,426.79 L430.46,427.86 L430.83,428.94 L431.19,430.03 L431.52,431.13 L431.83,432.24 L410.09,432.25 L410.18,431.30 L410.24,430.34 L410.28,429.39 L410.30,428.44 L410.30,427.49 L410.28,426.54 L410.25,425.59 L410.19,424.65 L410.11,423.71 L410.01,422.78 L409.89,421.84 L409.74,420.92 L409.58,419.99 L409.40,419.07 L409.20,418.16 L408.97,417.25 L408.73,416.35 L408.47,415.46 L408.18,414.57 L407.88,413.69 L407.55,412.82 L407.20,411.95 L406.83,411.10 L406.45,410.25 L406.04,409.41 L405.61,408.58 L405.16,407.76 L404.69,406.95 L404.21,406.15 L403.71,405.35 L403.20,404.56 L402.67,403.77 L402.14,402.99 L401.59,402.22 L401.04,401.45 L400.48,400.68 L399.92,399.91 L399.36,399.15 L398.79,398.39 L398.22,397.63 L397.65,396.87 L397.08,396.11 L396.51,395.36 L395.94,394.60 L395.37,393.85 L394.79,393.09 L394.22,392.34 L393.64,391.58 L393.07,390.83 L392.49,390.08 L391.92,389.33 L391.34,388.58 L390.76,387.83 L390.18,387.08 L389.59,386.33 L389.01,385.58 L388.42,384.82 L387.84,384.07 L387.27,383.32 L386.69,382.56 L386.13,381.80 L385.59,381.04 L385.05,380.27 L384.54,379.49 L384.05,378.70 L383.57,377.91 L383.13,377.10 L382.71,376.29 L382.33,375.46 L381.98,374.62 L381.67,373.77 L381.39,372.91 L381.15,372.03 L380.94,371.14 L380.77,370.24 L380.64,369.33 L380.54,368.41 L380.47,367.48 L380.42,366.54 L380.40,365.59 L380.40,364.64 L380.43,363.68 L380.47,362.72 L380.52,361.76 L380.58,360.80 L380.66,359.84 L380.74,358.88 L380.83,357.92 L380.91,356.97Z" fill="#8e8a96" fill-opacity="0.22"/>
<path d="M376.60,355.24 L377.65,355.80 L378.70,356.36 L379.74,356.93 L380.79,357.52 L381.82,358.11 L382.86,358.71 L383.88,359.32 L384.91,359.93 L385.93,360.56 L386.95,361.19 L387.96,361.84 L388.97,362.49 L389.98,363.15 L390.98,363.82 L391.97,364.49 L392.96,365.18 L393.95,365.87 L394.93,366.57 L395.90,367.28 L396.88,368.00 L397.84,368.72 L398.80,369.46 L399.76,370.20 L400.70,370.95 L401.65,371.70 L402.59,372.47 L403.52,373.24 L404.44,374.02 L405.36,374.80 L406.28,375.60 L407.19,376.40 L408.09,377.21 L408.98,378.02 L409.87,378.85 L410.75,379.68 L411.63,380.51 L412.49,381.36 L413.35,382.21 L414.21,383.07 L415.05,383.93 L415.89,384.81 L416.72,385.68 L417.55,386.57 L418.36,387.46 L419.17,388.36 L419.97,389.27 L420.77,390.18 L421.55,391.10 L422.33,392.02 L423.10,392.95 L423.86,393.89 L424.61,394.83 L425.35,395.78 L426.09,396.73 L426.81,397.70 L427.53,398.66 L428.24,399.64 L428.94,400.61 L429.63,401.60 L430.31,402.59 L430.98,403.58 L431.64,404.59 L432.29,405.59 L432.93,406.60 L433.56,407.62 L434.19,408.65 L434.80,409.67 L435.40,410.71 L435.99,411.75 L436.58,412.79 L437.15,413.84 L437.71,414.89 L438.26,415.95 L438.80,417.02 L439.33,418.09 L439.84,419.16 L440.35,420.24 L440.84,421.32 L441.33,422.41 L441.80,423.50 L442.26,424.60 L442.71,425.70 L443.15,426.80 L443.58,427.91 L443.99,429.03 L444.39,430.15 L444.78,431.27 L445.16,432.39 L445.53,433.52 L438.92,433.56 L438.49,432.59 L438.05,431.62 L437.60,430.65 L437.14,429.69 L436.68,428.73 L436.21,427.77 L435.73,426.82 L435.25,425.87 L434.75,424.93 L434.26,423.99 L433.75,423.05 L433.24,422.12 L432.72,421.19 L432.20,420.27 L431.67,419.35 L431.13,418.43 L430.59,417.51 L430.04,416.60 L429.49,415.69 L428.92,414.79 L428.36,413.89 L427.79,412.99 L427.21,412.10 L426.62,411.21 L426.04,410.32 L425.44,409.44 L424.84,408.56 L424.24,407.68 L423.63,406.81 L423.01,405.94 L422.39,405.07 L421.76,404.21 L421.13,403.35 L420.50,402.49 L419.86,401.64 L419.21,400.78 L418.56,399.94 L417.91,399.09 L417.25,398.25 L416.59,397.41 L415.92,396.58 L415.25,395.74 L414.57,394.91 L413.89,394.09 L413.21,393.26 L412.52,392.44 L411.83,391.62 L411.14,390.81 L410.44,389.99 L409.74,389.18 L409.03,388.38 L408.32,387.57 L407.61,386.77 L406.89,385.97 L406.18,385.18 L405.45,384.38 L404.73,383.59 L404.00,382.80 L403.27,382.02 L402.54,381.23 L401.80,380.45 L401.06,379.67 L400.32,378.90 L399.58,378.12 L398.83,377.35 L398.08,376.59 L397.33,375.82 L396.58,375.06 L395.82,374.29 L395.06,373.53 L394.30,372.78 L393.54,372.02 L392.78,371.27 L392.01,370.52 L391.25,369.77 L390.48,369.03 L389.71,368.28 L388.94,367.54 L388.17,366.80 L387.40,366.07 L386.62,365.33 L385.85,364.60 L385.07,363.87 L384.29,363.14 L383.51,362.41 L382.73,361.68 L381.95,360.96 L381.17,360.24 L380.39,359.52Z" fill="#8e8a96" fill-opacity="0.22"/>
<path d="M376.31,358.08 L377.94,358.15 L379.56,358.24 L381.19,358.35 L382.81,358.48 L384.43,358.63 L386.05,358.80 L387.66,358.99 L389.28,359.20 L390.89,359.43 L392.49,359.69 L394.10,359.96 L395.70,360.25 L397.29,360.56 L398.89,360.89 L400.47,361.24 L402.06,361.61 L403.64,361.99 L405.21,362.40 L406.78,362.83 L408.34,363.27 L409.90,363.73 L411.45,364.21 L413.00,364.71 L414.54,365.23 L416.07,365.77 L417.59,366.33 L419.11,366.90 L420.62,367.49 L422.13,368.10 L423.62,368.73 L425.11,369.37 L426.59,370.04 L428.06,370.72 L429.52,371.41 L430.97,372.13 L432.42,372.86 L433.85,373.61 L435.28,374.38 L436.69,375.16 L438.10,375.96 L439.49,376.78 L440.87,377.61 L442.25,378.46 L443.61,379.32 L444.96,380.21 L446.29,381.11 L447.62,382.02 L448.94,382.95 L450.24,383.90 L451.53,384.86 L452.80,385.84 L454.07,386.83 L455.32,387.84 L456.56,388.87 L457.78,389.91 L458.99,390.96 L460.18,392.03 L461.36,393.12 L462.53,394.22 L463.68,395.33 L464.82,396.46 L465.94,397.61 L467.04,398.77 L468.13,399.94 L469.21,401.13 L470.26,402.33 L471.30,403.54 L472.33,404.77 L473.33,406.02 L474.32,407.27 L475.30,408.55 L476.25,409.83 L477.19,411.13 L478.10,412.44 L479.00,413.76 L479.88,415.10 L480.75,416.45 L481.59,417.82 L482.41,419.19 L483.22,420.58 L484.00,421.99 L484.76,423.40 L485.51,424.83 L486.23,426.27 L486.93,427.72 L487.61,429.18 L488.27,430.66 L488.91,432.15 L489.53,433.65 L453.87,433.75 L453.96,432.43 L454.03,431.11 L454.07,429.80 L454.08,428.49 L454.06,427.19 L454.01,425.89 L453.93,424.59 L453.83,423.30 L453.69,422.02 L453.53,420.74 L453.34,419.46 L453.12,418.20 L452.88,416.94 L452.60,415.69 L452.30,414.45 L451.98,413.22 L451.62,412.00 L451.24,410.79 L450.84,409.59 L450.40,408.40 L449.95,407.23 L449.46,406.06 L448.95,404.91 L448.42,403.77 L447.86,402.64 L447.27,401.53 L446.66,400.44 L446.03,399.35 L445.37,398.29 L444.69,397.24 L443.98,396.20 L443.25,395.19 L442.50,394.19 L441.73,393.21 L440.93,392.24 L440.10,391.30 L439.26,390.38 L438.39,389.47 L437.50,388.59 L436.59,387.73 L435.66,386.89 L434.71,386.06 L433.73,385.26 L432.74,384.48 L431.73,383.71 L430.71,382.96 L429.67,382.23 L428.61,381.51 L427.53,380.81 L426.45,380.13 L425.35,379.45 L424.23,378.80 L423.11,378.15 L421.97,377.52 L420.83,376.90 L419.67,376.29 L418.51,375.69 L417.34,375.10 L416.16,374.52 L414.97,373.96 L413.78,373.39 L412.59,372.84 L411.39,372.29 L410.19,371.75 L408.99,371.22 L407.78,370.69 L406.58,370.17 L405.37,369.65 L404.17,369.13 L402.96,368.62 L401.76,368.10 L400.57,367.59 L399.37,367.09 L398.18,366.58 L396.99,366.08 L395.80,365.58 L394.62,365.08 L393.44,364.58 L392.26,364.09 L391.09,363.59 L389.92,363.10 L388.75,362.61 L387.59,362.12 L386.43,361.64 L385.27,361.15 L384.12,360.67 L382.97,360.19 L381.83,359.71 L380.69,359.23Z" fill="#8e8a96" fill-opacity="0.22"/>
<path d="M380.60,359.22 L381.88,359.82 L383.15,360.42 L384.43,361.03 L385.71,361.63 L386.98,362.23 L388.26,362.83 L389.54,363.43 L390.82,364.03 L392.10,364.63 L393.37,365.22 L394.66,365.82 L395.94,366.41 L397.22,367.00 L398.51,367.59 L399.80,368.17 L401.08,368.75 L402.38,369.33 L403.67,369.91 L404.97,370.48 L406.27,371.05 L407.57,371.61 L408.88,372.17 L410.19,372.73 L411.50,373.28 L412.82,373.83 L414.13,374.38 L415.45,374.92 L416.78,375.46 L418.10,376.01 L419.42,376.56 L420.74,377.10 L422.05,377.65 L423.37,378.21 L424.68,378.77 L425.99,379.34 L427.30,379.91 L428.59,380.49 L429.89,381.08 L431.18,381.69 L432.46,382.30 L433.73,382.92 L434.99,383.56 L436.25,384.21 L437.49,384.87 L438.73,385.55 L439.95,386.25 L441.16,386.96 L442.36,387.69 L443.55,388.45 L444.72,389.22 L445.88,390.01 L447.03,390.83 L448.16,391.67 L449.27,392.52 L450.37,393.40 L451.45,394.31 L452.51,395.23 L453.55,396.17 L454.58,397.13 L455.58,398.11 L456.57,399.11 L457.54,400.13 L458.48,401.17 L459.41,402.22 L460.31,403.30 L461.20,404.39 L462.06,405.50 L462.89,406.63 L463.71,407.77 L464.50,408.93 L465.26,410.11 L466.00,411.30 L466.71,412.51 L467.40,413.73 L468.06,414.97 L468.70,416.22 L469.31,417.49 L469.89,418.77 L470.44,420.07 L470.96,421.38 L471.45,422.70 L471.91,424.04 L472.35,425.38 L472.75,426.74 L473.12,428.12 L473.45,429.50 L473.76,430.89 L474.03,432.30 L474.27,433.72 L466.59,433.70 L466.39,432.36 L466.16,431.03 L465.90,429.70 L465.61,428.38 L465.30,427.07 L464.96,425.77 L464.59,424.47 L464.19,423.19 L463.77,421.91 L463.32,420.65 L462.84,419.39 L462.34,418.15 L461.81,416.92 L461.26,415.70 L460.69,414.49 L460.09,413.29 L459.46,412.11 L458.82,410.93 L458.15,409.78 L457.46,408.63 L456.74,407.50 L456.00,406.39 L455.25,405.28 L454.47,404.20 L453.67,403.13 L452.85,402.07 L452.00,401.04 L451.14,400.01 L450.26,399.01 L449.36,398.02 L448.45,397.05 L447.51,396.10 L446.55,395.17 L445.58,394.25 L444.59,393.35 L443.58,392.48 L442.56,391.62 L441.52,390.79 L440.47,389.97 L439.39,389.18 L438.31,388.40 L437.21,387.65 L436.09,386.91 L434.97,386.19 L433.83,385.49 L432.68,384.80 L431.52,384.13 L430.35,383.47 L429.16,382.82 L427.97,382.19 L426.78,381.57 L425.57,380.96 L424.36,380.36 L423.14,379.76 L421.92,379.18 L420.69,378.60 L419.46,378.02 L418.23,377.45 L416.99,376.89 L415.75,376.32 L414.51,375.76 L413.28,375.21 L412.04,374.65 L410.80,374.09 L409.56,373.53 L408.33,372.97 L407.09,372.40 L405.87,371.83 L404.64,371.26 L403.42,370.68 L402.20,370.10 L400.98,369.52 L399.77,368.93 L398.56,368.34 L397.35,367.75 L396.14,367.15 L394.94,366.56 L393.74,365.96 L392.54,365.35 L391.34,364.75 L390.14,364.14 L388.94,363.53 L387.75,362.92 L386.56,362.31 L385.36,361.69 L384.17,361.08 L382.98,360.46 L381.79,359.84 L380.61,359.22Z" fill="#8e8a96" fill-opacity="0.22"/>
<path d="M381.82,359.31 L383.26,359.66 L384.70,360.02 L386.13,360.40 L387.57,360.78 L389.00,361.17 L390.44,361.56 L391.87,361.97 L393.30,362.39 L394.73,362.82 L396.16,363.26 L397.59,363.71 L399.01,364.16 L400.44,364.63 L401.86,365.11 L403.28,365.59 L404.70,366.09 L406.11,366.60 L407.53,367.11 L408.94,367.63 L410.35,368.17 L411.75,368.71 L413.15,369.27 L414.55,369.83 L415.95,370.40 L417.34,370.98 L418.73,371.58 L420.12,372.18 L421.50,372.79 L422.88,373.41 L424.25,374.04 L425.62,374.68 L426.99,375.32 L428.35,375.98 L429.71,376.65 L431.06,377.33 L432.41,378.01 L433.75,378.71 L435.09,379.42 L436.43,380.13 L437.75,380.86 L439.08,381.59 L440.39,382.33 L441.70,383.09 L443.01,383.85 L444.30,384.63 L445.59,385.41 L446.87,386.21 L448.14,387.02 L449.41,387.84 L450.66,388.67 L451.90,389.52 L453.13,390.37 L454.34,391.24 L455.55,392.13 L456.74,393.03 L457.92,393.94 L459.09,394.87 L460.24,395.81 L461.38,396.77 L462.50,397.74 L463.60,398.73 L464.69,399.73 L465.76,400.75 L466.81,401.79 L467.85,402.84 L468.86,403.91 L469.85,405.00 L470.83,406.10 L471.78,407.22 L472.70,408.36 L473.61,409.52 L474.49,410.70 L475.35,411.89 L476.18,413.11 L476.99,414.34 L477.76,415.59 L478.52,416.86 L479.24,418.16 L479.94,419.47 L480.60,420.80 L481.24,422.15 L481.85,423.53 L482.42,424.92 L482.97,426.34 L483.48,427.78 L483.95,429.24 L484.40,430.72 L484.80,432.23 L485.18,433.76 L469.28,433.89 L469.47,432.33 L469.59,430.79 L469.66,429.27 L469.68,427.78 L469.63,426.30 L469.54,424.84 L469.39,423.40 L469.19,421.98 L468.95,420.58 L468.65,419.20 L468.31,417.84 L467.92,416.50 L467.48,415.18 L467.01,413.88 L466.49,412.60 L465.93,411.34 L465.33,410.09 L464.69,408.87 L464.01,407.67 L463.30,406.48 L462.55,405.32 L461.77,404.17 L460.96,403.05 L460.12,401.94 L459.25,400.86 L458.35,399.79 L457.42,398.74 L456.46,397.71 L455.48,396.70 L454.48,395.72 L453.46,394.75 L452.41,393.79 L451.35,392.86 L450.26,391.95 L449.16,391.05 L448.04,390.16 L446.90,389.30 L445.75,388.45 L444.59,387.61 L443.41,386.79 L442.22,385.98 L441.02,385.18 L439.81,384.40 L438.59,383.63 L437.36,382.87 L436.13,382.12 L434.88,381.39 L433.64,380.66 L432.39,379.94 L431.13,379.23 L429.88,378.53 L428.61,377.84 L427.35,377.16 L426.07,376.49 L424.80,375.83 L423.52,375.18 L422.24,374.54 L420.95,373.91 L419.66,373.29 L418.36,372.67 L417.06,372.07 L415.76,371.48 L414.45,370.90 L413.14,370.33 L411.83,369.76 L410.51,369.21 L409.19,368.67 L407.87,368.14 L406.54,367.62 L405.21,367.11 L403.87,366.60 L402.53,366.11 L401.19,365.63 L399.85,365.16 L398.50,364.70 L397.15,364.25 L395.79,363.81 L394.43,363.38 L393.07,362.96 L391.71,362.55 L390.34,362.16 L388.97,361.77 L387.60,361.39 L386.23,361.02 L384.85,360.67 L383.47,360.32 L382.08,359.99 L380.70,359.66 L379.31,359.35Z" fill="#8e8a96" fill-opacity="0.22"/>
<path d="M376.62,356.75 L378.19,356.97 L379.77,357.20 L381.37,357.43 L382.98,357.66 L384.60,357.91 L386.22,358.16 L387.86,358.41 L389.51,358.67 L391.17,358.95 L392.83,359.22 L394.50,359.51 L396.18,359.81 L397.86,360.11 L399.55,360.43 L401.24,360.75 L402.93,361.09 L404.63,361.43 L406.34,361.79 L408.04,362.15 L409.74,362.53 L411.45,362.92 L413.16,363.32 L414.86,363.74 L416.56,364.16 L418.27,364.60 L419.97,365.06 L421.66,365.53 L423.35,366.01 L425.04,366.50 L426.73,367.01 L428.40,367.54 L430.07,368.08 L431.74,368.64 L433.39,369.21 L435.04,369.80 L436.68,370.41 L438.31,371.03 L439.93,371.68 L441.54,372.34 L443.14,373.01 L444.72,373.71 L446.29,374.42 L447.85,375.16 L449.40,375.91 L450.93,376.69 L452.44,377.48 L453.94,378.30 L455.43,379.13 L456.89,379.99 L458.34,380.87 L459.77,381.77 L461.18,382.69 L462.57,383.64 L463.94,384.61 L465.29,385.60 L466.62,386.61 L467.92,387.65 L469.21,388.72 L470.46,389.80 L471.70,390.92 L472.91,392.06 L474.09,393.22 L475.25,394.41 L476.38,395.63 L477.48,396.87 L478.56,398.13 L479.60,399.42 L480.62,400.74 L481.60,402.08 L482.55,403.45 L483.47,404.84 L484.35,406.25 L485.20,407.69 L486.01,409.15 L486.78,410.64 L487.52,412.15 L488.22,413.69 L488.88,415.24 L489.50,416.83 L490.08,418.43 L490.62,420.06 L491.12,421.71 L491.57,423.39 L491.98,425.09 L492.35,426.81 L492.66,428.56 L492.93,430.33 L493.16,432.12 L493.33,433.93 L475.68,433.85 L475.44,432.32 L475.17,430.82 L474.87,429.33 L474.53,427.87 L474.16,426.43 L473.77,425.01 L473.34,423.61 L472.88,422.22 L472.40,420.86 L471.88,419.52 L471.34,418.20 L470.77,416.90 L470.17,415.61 L469.54,414.35 L468.89,413.10 L468.21,411.88 L467.51,410.67 L466.78,409.48 L466.03,408.30 L465.25,407.15 L464.45,406.01 L463.63,404.89 L462.78,403.79 L461.91,402.70 L461.02,401.63 L460.11,400.58 L459.18,399.55 L458.22,398.53 L457.25,397.52 L456.26,396.53 L455.25,395.56 L454.22,394.61 L453.17,393.66 L452.11,392.74 L451.03,391.83 L449.93,390.93 L448.82,390.05 L447.69,389.18 L446.54,388.33 L445.38,387.49 L444.21,386.66 L443.02,385.85 L441.82,385.05 L440.61,384.26 L439.39,383.49 L438.15,382.73 L436.90,381.98 L435.64,381.25 L434.38,380.53 L433.10,379.81 L431.81,379.12 L430.51,378.43 L429.21,377.75 L427.90,377.09 L426.58,376.43 L425.25,375.79 L423.91,375.16 L422.57,374.54 L421.23,373.93 L419.88,373.33 L418.52,372.73 L417.16,372.15 L415.80,371.58 L414.44,371.02 L413.07,370.46 L411.70,369.92 L410.32,369.38 L408.95,368.86 L407.58,368.34 L406.20,367.83 L404.83,367.33 L403.45,366.83 L402.08,366.34 L400.71,365.86 L399.34,365.39 L397.97,364.93 L396.61,364.47 L395.25,364.01 L393.89,363.57 L392.54,363.13 L391.19,362.70 L389.85,362.27 L388.52,361.85 L387.19,361.43 L385.86,361.02 L384.55,360.61 L383.24,360.21 L381.94,359.82 L380.65,359.43Z" fill="#ec6a52" fill-opacity="0.46" stroke="#e05a48" stroke-opacity="0.55" stroke-width="0.5"/>
<path d="M380.70,359.43 L381.52,359.99 L382.30,360.58 L383.05,361.20 L383.75,361.85 L384.43,362.52 L385.07,363.22 L385.68,363.94 L386.27,364.67 L386.83,365.43 L387.37,366.20 L387.89,366.98 L388.39,367.78 L388.87,368.59 L389.35,369.41 L389.81,370.23 L390.27,371.06 L390.72,371.90 L391.16,372.74 L391.61,373.58 L392.05,374.42 L392.50,375.26 L392.96,376.09 L393.42,376.92 L393.90,377.75 L394.38,378.56 L394.86,379.38 L395.36,380.19 L395.86,380.99 L396.37,381.79 L396.88,382.59 L397.39,383.38 L397.92,384.17 L398.44,384.96 L398.97,385.75 L399.51,386.53 L400.04,387.31 L400.58,388.09 L401.12,388.87 L401.67,389.65 L402.21,390.43 L402.76,391.21 L403.30,391.99 L403.85,392.77 L404.40,393.55 L404.94,394.33 L405.48,395.11 L406.03,395.89 L406.57,396.68 L407.10,397.46 L407.64,398.25 L408.17,399.04 L408.70,399.84 L409.22,400.63 L409.74,401.43 L410.25,402.23 L410.75,403.04 L411.25,403.84 L411.74,404.65 L412.23,405.47 L412.70,406.29 L413.17,407.11 L413.63,407.93 L414.08,408.76 L414.52,409.60 L414.95,410.44 L415.37,411.28 L415.77,412.13 L416.17,412.98 L416.55,413.84 L416.92,414.70 L417.27,415.57 L417.62,416.44 L417.94,417.32 L418.26,418.21 L418.55,419.10 L418.83,420.00 L419.10,420.90 L419.35,421.81 L419.58,422.73 L419.79,423.66 L419.98,424.59 L420.16,425.53 L420.31,426.47 L420.45,427.43 L420.57,428.39 L420.66,429.36 L420.73,430.33 L420.79,431.32 L420.82,432.31" fill="none" stroke="#8c8c96" stroke-opacity="0.25" stroke-width="0.7"/>
<path d="M380.56,359.32 L381.48,359.95 L382.39,360.58 L383.29,361.22 L384.18,361.88 L385.06,362.54 L385.94,363.21 L386.81,363.88 L387.68,364.57 L388.54,365.26 L389.39,365.96 L390.24,366.67 L391.08,367.38 L391.92,368.10 L392.75,368.83 L393.58,369.56 L394.40,370.29 L395.22,371.04 L396.03,371.78 L396.84,372.53 L397.65,373.29 L398.46,374.04 L399.26,374.80 L400.05,375.57 L400.85,376.34 L401.64,377.11 L402.43,377.88 L403.21,378.66 L404.00,379.44 L404.78,380.22 L405.55,381.01 L406.33,381.80 L407.10,382.59 L407.86,383.39 L408.63,384.19 L409.39,384.99 L410.14,385.80 L410.90,386.61 L411.65,387.42 L412.39,388.24 L413.13,389.06 L413.87,389.88 L414.61,390.71 L415.34,391.53 L416.07,392.36 L416.80,393.20 L417.52,394.04 L418.23,394.88 L418.95,395.72 L419.66,396.57 L420.36,397.42 L421.06,398.28 L421.76,399.13 L422.45,399.99 L423.14,400.86 L423.82,401.73 L424.49,402.60 L425.16,403.47 L425.83,404.35 L426.49,405.23 L427.15,406.12 L427.79,407.01 L428.44,407.90 L429.08,408.80 L429.71,409.70 L430.33,410.60 L430.95,411.51 L431.56,412.43 L432.17,413.34 L432.77,414.26 L433.36,415.19 L433.95,416.12 L434.53,417.05 L435.10,417.99 L435.66,418.93 L436.22,419.87 L436.77,420.82 L437.31,421.77 L437.85,422.73 L438.37,423.69 L438.89,424.66 L439.40,425.63 L439.90,426.61 L440.40,427.59 L440.88,428.57 L441.36,429.56 L441.83,430.55 L442.29,431.55 L442.74,432.55 L443.18,433.56" fill="none" stroke="#8c8c96" stroke-opacity="0.25" stroke-width="0.7"/>
<path d="M380.58,359.36 L381.94,359.61 L383.30,359.87 L384.67,360.14 L386.04,360.42 L387.42,360.71 L388.79,361.02 L390.17,361.34 L391.55,361.67 L392.94,362.02 L394.32,362.38 L395.71,362.74 L397.09,363.13 L398.47,363.52 L399.86,363.93 L401.24,364.35 L402.62,364.78 L404.00,365.23 L405.38,365.68 L406.76,366.16 L408.13,366.64 L409.50,367.14 L410.87,367.65 L412.23,368.17 L413.59,368.71 L414.94,369.26 L416.29,369.82 L417.63,370.39 L418.97,370.98 L420.30,371.58 L421.62,372.20 L422.94,372.83 L424.25,373.47 L425.55,374.13 L426.84,374.80 L428.13,375.48 L429.40,376.18 L430.67,376.89 L431.93,377.61 L433.17,378.35 L434.41,379.10 L435.63,379.87 L436.85,380.65 L438.05,381.44 L439.24,382.25 L440.42,383.07 L441.59,383.90 L442.74,384.75 L443.88,385.62 L445.00,386.50 L446.11,387.39 L447.21,388.29 L448.29,389.22 L449.36,390.15 L450.41,391.10 L451.44,392.06 L452.46,393.04 L453.46,394.04 L454.44,395.04 L455.40,396.07 L456.35,397.10 L457.28,398.16 L458.19,399.22 L459.08,400.30 L459.95,401.40 L460.80,402.51 L461.63,403.64 L462.44,404.78 L463.23,405.94 L463.99,407.11 L464.74,408.30 L465.46,409.50 L466.16,410.72 L466.84,411.95 L467.49,413.20 L468.12,414.46 L468.72,415.74 L469.30,417.03 L469.86,418.34 L470.39,419.67 L470.89,421.01 L471.37,422.36 L471.82,423.74 L472.25,425.12 L472.65,426.53 L473.01,427.95 L473.36,429.38 L473.67,430.83 L473.95,432.30 L474.21,433.78" fill="none" stroke="#8c8c96" stroke-opacity="0.25" stroke-width="0.7"/>
<path d="M380.56,359.28 L381.85,359.81 L383.13,360.35 L384.40,360.91 L385.66,361.47 L386.92,362.05 L388.18,362.63 L389.42,363.23 L390.67,363.82 L391.91,364.43 L393.15,365.04 L394.38,365.65 L395.61,366.27 L396.84,366.89 L398.08,367.50 L399.31,368.12 L400.54,368.74 L401.77,369.36 L403.01,369.97 L404.25,370.58 L405.49,371.18 L406.74,371.78 L407.99,372.37 L409.25,372.95 L410.52,373.53 L411.79,374.09 L413.06,374.65 L414.34,375.21 L415.62,375.76 L416.90,376.31 L418.18,376.86 L419.47,377.41 L420.75,377.96 L422.03,378.51 L423.31,379.07 L424.59,379.63 L425.86,380.20 L427.13,380.77 L428.39,381.35 L429.64,381.94 L430.89,382.55 L432.13,383.16 L433.36,383.79 L434.58,384.43 L435.80,385.08 L437.00,385.76 L438.18,386.45 L439.36,387.16 L440.52,387.89 L441.67,388.64 L442.80,389.42 L443.91,390.22 L445.01,391.04 L446.09,391.89 L447.15,392.76 L448.20,393.65 L449.23,394.56 L450.23,395.50 L451.22,396.45 L452.19,397.43 L453.15,398.43 L454.08,399.44 L454.99,400.48 L455.88,401.53 L456.75,402.60 L457.60,403.69 L458.42,404.79 L459.23,405.91 L460.01,407.05 L460.77,408.20 L461.51,409.37 L462.22,410.55 L462.91,411.75 L463.57,412.95 L464.22,414.17 L464.83,415.41 L465.42,416.65 L465.99,417.91 L466.53,419.17 L467.05,420.45 L467.53,421.73 L467.99,423.03 L468.43,424.33 L468.84,425.64 L469.21,426.96 L469.56,428.28 L469.89,429.62 L470.18,430.95 L470.44,432.30 L470.68,433.65" fill="none" stroke="#8c8c96" stroke-opacity="0.25" stroke-width="0.7"/>
<path d="M380.51,359.38 L381.97,359.67 L383.42,359.98 L384.87,360.30 L386.32,360.64 L387.75,360.99 L389.19,361.36 L390.62,361.74 L392.04,362.13 L393.46,362.54 L394.87,362.96 L396.28,363.40 L397.68,363.84 L399.08,364.30 L400.47,364.77 L401.86,365.26 L403.25,365.75 L404.63,366.26 L406.01,366.78 L407.38,367.31 L408.75,367.85 L410.11,368.41 L411.47,368.97 L412.82,369.54 L414.18,370.13 L415.52,370.72 L416.87,371.32 L418.21,371.94 L419.55,372.56 L420.88,373.19 L422.21,373.83 L423.53,374.48 L424.86,375.14 L426.18,375.80 L427.49,376.48 L428.81,377.16 L430.12,377.84 L431.42,378.54 L432.73,379.24 L434.03,379.95 L435.32,380.67 L436.62,381.39 L437.91,382.12 L439.20,382.86 L440.48,383.60 L441.76,384.35 L443.03,385.12 L444.30,385.89 L445.55,386.67 L446.80,387.47 L448.04,388.27 L449.26,389.10 L450.48,389.93 L451.68,390.78 L452.87,391.65 L454.04,392.53 L455.20,393.43 L456.34,394.34 L457.46,395.28 L458.57,396.23 L459.66,397.21 L460.73,398.20 L461.77,399.21 L462.80,400.25 L463.81,401.30 L464.79,402.37 L465.75,403.46 L466.68,404.57 L467.59,405.70 L468.47,406.85 L469.33,408.02 L470.16,409.21 L470.96,410.42 L471.73,411.64 L472.47,412.89 L473.18,414.15 L473.86,415.43 L474.51,416.73 L475.12,418.05 L475.70,419.39 L476.24,420.74 L476.75,422.12 L477.23,423.51 L477.66,424.92 L478.06,426.35 L478.42,427.79 L478.74,429.25 L479.02,430.74 L479.26,432.24 L479.45,433.75" fill="none" stroke="#8c8c96" stroke-opacity="0.25" stroke-width="0.7"/>
<path d="M380.61,359.44 L382.04,359.71 L383.48,359.98 L384.93,360.26 L386.38,360.55 L387.85,360.84 L389.32,361.13 L390.80,361.44 L392.29,361.75 L393.78,362.06 L395.28,362.39 L396.79,362.72 L398.30,363.06 L399.81,363.40 L401.33,363.76 L402.85,364.12 L404.37,364.49 L405.90,364.87 L407.43,365.26 L408.95,365.66 L410.48,366.07 L412.01,366.50 L413.53,366.93 L415.06,367.37 L416.58,367.82 L418.10,368.29 L419.62,368.77 L421.13,369.25 L422.64,369.76 L424.14,370.27 L425.64,370.80 L427.13,371.34 L428.62,371.89 L430.10,372.46 L431.57,373.05 L433.03,373.64 L434.49,374.25 L435.93,374.88 L437.37,375.52 L438.80,376.18 L440.21,376.86 L441.61,377.55 L443.01,378.26 L444.38,378.98 L445.75,379.72 L447.10,380.48 L448.44,381.26 L449.76,382.05 L451.07,382.87 L452.36,383.70 L453.64,384.55 L454.90,385.42 L456.14,386.31 L457.36,387.22 L458.56,388.15 L459.75,389.10 L460.91,390.07 L462.06,391.07 L463.18,392.08 L464.28,393.12 L465.36,394.17 L466.42,395.25 L467.46,396.36 L468.47,397.48 L469.45,398.63 L470.41,399.80 L471.35,400.99 L472.26,402.21 L473.13,403.45 L473.98,404.70 L474.80,405.98 L475.59,407.28 L476.34,408.60 L477.06,409.94 L477.75,411.30 L478.40,412.68 L479.02,414.07 L479.59,415.49 L480.13,416.92 L480.63,418.38 L481.09,419.84 L481.51,421.33 L481.89,422.84 L482.22,424.36 L482.51,425.90 L482.75,427.45 L482.95,429.02 L483.10,430.60 L483.20,432.21 L483.25,433.82" fill="none" stroke="#a8182a" stroke-width="0.8"/>
</g>
<circle cx="432.7" cy="372.5" r="0.60" fill="#7a2a3a" fill-opacity="0.35"/>
<circle cx="444.2" cy="379.0" r="0.60" fill="#7a2a3a" fill-opacity="0.35"/>
<circle cx="444.2" cy="380.0" r="0.60" fill="#7a2a3a" fill-opacity="0.35"/>
<circle cx="455.9" cy="386.1" r="0.60" fill="#7a2a3a" fill-opacity="0.35"/>
<circle cx="455.9" cy="388.2" r="0.60" fill="#7a2a3a" fill-opacity="0.35"/>
<circle cx="467.4" cy="391.8" r="0.60" fill="#7a2a3a" fill-opacity="0.35"/>
<circle cx="444.1" cy="403.1" r="0.60" fill="#7a2a3a" fill-opacity="0.35"/>
<circle cx="478.9" cy="407.9" r="0.60" fill="#7a2a3a" fill-opacity="0.35"/>
<circle cx="478.9" cy="416.9" r="0.60" fill="#7a2a3a" fill-opacity="0.35"/>
<circle cx="490.5" cy="423.0" r="0.60" fill="#7a2a3a" fill-opacity="0.35"/>
<circle cx="432.7" cy="382.2" r="0.60" fill="#7a2a3a" fill-opacity="0.35"/>
<circle cx="432.7" cy="383.3" r="0.60" fill="#7a2a3a" fill-opacity="0.35"/>
<circle cx="386.3" cy="362.3" r="0.60" fill="#7a2a3a" fill-opacity="0.35"/>
<g stroke="#222" stroke-width="1.15" fill="none">
<path d="M380.50,356.90 V432.20 H506.70"/>
<path d="M380.50,432.20v1.80M405.30,432.20v1.80M430.10,432.20v1.80M454.90,432.20v1.80M479.70,432.20v1.80M504.50,432.20v1.80M380.50,359.40h-1.80M380.50,387.10h-1.80M380.50,414.80h-1.80M380.50,432.20h-1.80"/>
<path d="M382.98,432.20v1.30M385.46,432.20v1.30M387.94,432.20v1.30M390.42,432.20v1.30M392.90,432.20v1.30M395.38,432.20v1.30M397.86,432.20v1.30M400.34,432.20v1.30M402.82,432.20v1.30M407.78,432.20v1.30M410.26,432.20v1.30M412.74,432.20v1.30M415.22,432.20v1.30M417.70,432.20v1.30M420.18,432.20v1.30M422.66,432.20v1.30M425.14,432.20v1.30M427.62,432.20v1.30M432.58,432.20v1.30M435.06,432.20v1.30M437.54,432.20v1.30M440.02,432.20v1.30M442.50,432.20v1.30M444.98,432.20v1.30M447.46,432.20v1.30M449.94,432.20v1.30M452.42,432.20v1.30M457.38,432.20v1.30M459.86,432.20v1.30M462.34,432.20v1.30M464.82,432.20v1.30M467.30,432.20v1.30M469.78,432.20v1.30M472.26,432.20v1.30M474.74,432.20v1.30M477.22,432.20v1.30M482.18,432.20v1.30M484.66,432.20v1.30M487.14,432.20v1.30M489.62,432.20v1.30M492.10,432.20v1.30M494.58,432.20v1.30M497.06,432.20v1.30M499.54,432.20v1.30M502.02,432.20v1.30M380.50,360.64h-1.30M380.50,361.87h-1.30M380.50,363.30h-1.30M380.50,364.78h-1.30M380.50,366.63h-1.30M380.50,368.68h-1.30M380.50,371.16h-1.30M380.50,374.73h-1.30M380.50,379.44h-1.30M380.50,387.91h-1.30M380.50,388.91h-1.30M380.50,389.91h-1.30M380.50,390.91h-1.30M380.50,392.24h-1.30M380.50,393.95h-1.30M380.50,395.62h-1.30M380.50,397.62h-1.30M380.50,399.62h-1.30M380.50,401.95h-1.30M380.50,404.61h-1.30M380.50,406.99h-1.30" stroke-width="1.15"/>
</g>
<g font-family="Liberation Sans, sans-serif" font-size="7.4" fill="#2a2a2a" stroke="#2a2a2a" stroke-width="0.2" text-anchor="end">
<text x="376.00" y="361.95">1</text>
<text x="376.00" y="389.65">0.3</text>
<text x="376.00" y="417.35">0.1</text>
<text x="376.00" y="434.75">0.05</text>
</g>
<g font-family="Liberation Sans, sans-serif" font-size="7.4" fill="#2a2a2a" stroke="#2a2a2a" stroke-width="0.2" text-anchor="middle">
<text x="380.50" y="444.85">0</text>
<text x="405.30" y="444.85">30</text>
<text x="430.10" y="444.85">60</text>
<text x="454.90" y="444.85">90</text>
<text x="479.70" y="444.85">120</text>
<text x="504.50" y="444.85">150</text>
</g>
<text font-family="Liberation Sans, sans-serif" font-size="8.2" font-weight="bold" fill="#1a1a1a" x="-31.95" y="0" textLength="63.9" lengthAdjust="spacingAndGlyphs" transform="translate(354.80,393.75) rotate(-90)">Fractional RBC survival</text>
<text font-family="Liberation Sans, sans-serif" font-size="9" font-weight="bold" fill="#1a1a1a" x="437.80" y="457.10" textLength="13.1" lengthAdjust="spacingAndGlyphs">Days</text>
<text font-family="Liberation Sans, sans-serif" font-size="8.2" fill="#2a2a2a" stroke="#2a2a2a" stroke-width="0.08" x="418.50" y="351.40" textLength="50.8" lengthAdjust="spacing">β<tspan dy="-3.3" font-size="6.8">A</tspan><tspan dy="3.3">β</tspan><tspan dy="-3.3" font-size="6.8">A</tspan><tspan dy="3.3"> (N = 3)</tspan></text>
<text font-family="Liberation Sans, sans-serif" font-size="10.8" font-weight="bold" fill="#000" x="7.2" y="226.9">B</text>
<rect x="0.5" y="0.5" width="519" height="462" fill="none" stroke="#555" stroke-width="1"/>
</svg>
</body></html>
